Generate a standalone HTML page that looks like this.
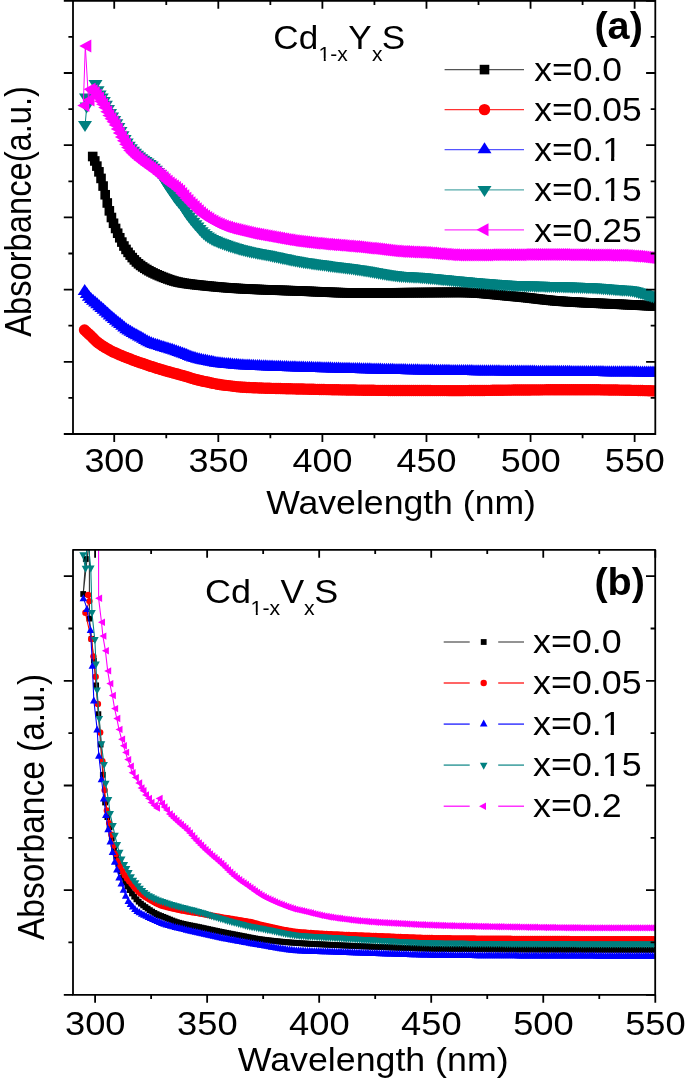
<!DOCTYPE html>
<html><head><meta charset="utf-8"><style>html,body{margin:0;padding:0;background:#fff;}svg{display:block;will-change:transform;font-family:"Liberation Sans",sans-serif;}</style></head><body>
<svg width="685" height="1082" viewBox="0 0 685 1082">
<rect width="685" height="1082" fill="#fff"/>
<defs><clipPath id="ca"><rect x="73.0" y="0.8" width="582.3" height="433.2"/></clipPath><clipPath id="cb"><rect x="73.0" y="549.8" width="582.2" height="445.0"/></clipPath></defs>
<g clip-path="url(#ca)"><path d="M92.7 156.5 L94.78 160.96 L96.86 166.12 L98.94 171.84 L101.03 178.42 L103.11 186.05 L105.19 194.75 L107.27 202.97 L109.35 210.84 L111.43 217.51 L113.52 223.27 L115.6 228.46 L117.68 233.22 L119.76 237.77 L121.84 242.08 L123.92 246.01 L126.01 249.42 L128.09 252.35 L130.17 255.07 L132.25 257.58 L134.33 259.88 L136.41 261.96 L138.5 263.81 L140.58 265.43 L142.66 266.91 L144.74 268.28 L146.82 269.56 L148.9 270.76 L150.98 271.87 L153.07 272.92 L155.15 273.9 L157.23 274.83 L159.31 275.72 L161.39 276.57 L163.47 277.39 L165.56 278.2 L167.64 278.97 L169.72 279.7 L171.8 280.38 L173.88 281.02 L175.96 281.59 L178.05 282.09 L180.13 282.52 L182.21 282.9 L184.29 283.25 L186.37 283.56 L188.45 283.86 L190.54 284.13 L192.62 284.38 L194.7 284.62 L196.78 284.85 L198.86 285.08 L200.94 285.3 L203.02 285.52 L205.11 285.74 L207.19 285.95 L209.27 286.16 L211.35 286.36 L213.43 286.56 L215.51 286.75 L217.6 286.94 L219.68 287.13 L221.76 287.31 L223.84 287.48 L225.92 287.65 L228 287.81 L230.09 287.96 L232.17 288.11 L234.25 288.25 L236.33 288.38 L238.41 288.51 L240.49 288.63 L242.58 288.74 L244.66 288.85 L246.74 288.96 L248.82 289.06 L250.9 289.16 L252.98 289.25 L255.06 289.35 L257.15 289.44 L259.23 289.52 L261.31 289.61 L263.39 289.69 L265.47 289.77 L267.55 289.85 L269.64 289.93 L271.72 290.01 L273.8 290.08 L275.88 290.16 L277.96 290.23 L280.04 290.3 L282.13 290.38 L284.21 290.45 L286.29 290.52 L288.37 290.59 L290.45 290.66 L292.53 290.73 L294.62 290.81 L296.7 290.88 L298.78 290.96 L300.86 291.03 L302.94 291.11 L305.02 291.19 L307.1 291.28 L309.19 291.37 L311.27 291.46 L313.35 291.55 L315.43 291.64 L317.51 291.73 L319.59 291.82 L321.68 291.92 L323.76 292.01 L325.84 292.1 L327.92 292.19 L330 292.27 L332.08 292.36 L334.17 292.44 L336.25 292.51 L338.33 292.59 L340.41 292.66 L342.49 292.72 L344.57 292.78 L346.66 292.83 L348.74 292.88 L350.82 292.92 L352.9 292.95 L354.98 292.97 L357.06 292.99 L359.14 293 L361.23 293 L363.31 293 L365.39 292.99 L367.47 292.99 L369.55 292.98 L371.63 292.97 L373.72 292.96 L375.8 292.95 L377.88 292.94 L379.96 292.92 L382.04 292.91 L384.12 292.89 L386.21 292.87 L388.29 292.86 L390.37 292.84 L392.45 292.82 L394.53 292.8 L396.61 292.78 L398.7 292.77 L400.78 292.75 L402.86 292.73 L404.94 292.71 L407.02 292.69 L409.1 292.68 L411.18 292.66 L413.27 292.64 L415.35 292.63 L417.43 292.62 L419.51 292.6 L421.59 292.59 L423.67 292.58 L425.76 292.56 L427.84 292.55 L429.92 292.54 L432 292.52 L434.08 292.51 L436.16 292.5 L438.25 292.48 L440.33 292.47 L442.41 292.46 L444.49 292.45 L446.57 292.44 L448.65 292.43 L450.74 292.42 L452.82 292.41 L454.9 292.41 L456.98 292.4 L459.06 292.4 L461.14 292.4 L463.22 292.42 L465.31 292.47 L467.39 292.53 L469.47 292.6 L471.55 292.7 L473.63 292.8 L475.71 292.93 L477.8 293.06 L479.88 293.21 L481.96 293.37 L484.04 293.54 L486.12 293.72 L488.2 293.9 L490.29 294.1 L492.37 294.29 L494.45 294.5 L496.53 294.7 L498.61 294.91 L500.69 295.12 L502.78 295.33 L504.86 295.54 L506.94 295.75 L509.02 295.95 L511.1 296.15 L513.18 296.35 L515.26 296.53 L517.35 296.72 L519.43 296.92 L521.51 297.13 L523.59 297.34 L525.67 297.57 L527.75 297.8 L529.84 298.04 L531.92 298.28 L534 298.53 L536.08 298.77 L538.16 299.02 L540.24 299.26 L542.33 299.5 L544.41 299.73 L546.49 299.96 L548.57 300.18 L550.65 300.39 L552.73 300.6 L554.82 300.79 L556.9 300.96 L558.98 301.13 L561.06 301.27 L563.14 301.42 L565.22 301.55 L567.3 301.68 L569.39 301.81 L571.47 301.94 L573.55 302.06 L575.63 302.17 L577.71 302.29 L579.79 302.4 L581.88 302.51 L583.96 302.61 L586.04 302.71 L588.12 302.82 L590.2 302.91 L592.28 303.01 L594.37 303.11 L596.45 303.21 L598.53 303.3 L600.61 303.4 L602.69 303.49 L604.77 303.58 L606.86 303.68 L608.94 303.77 L611.02 303.87 L613.1 303.97 L615.18 304.07 L617.26 304.17 L619.34 304.27 L621.43 304.37 L623.51 304.47 L625.59 304.58 L627.67 304.68 L629.75 304.78 L631.83 304.88 L633.92 304.98 L636 305.08 L638.08 305.18 L640.16 305.28 L642.24 305.38 L644.32 305.48 L646.41 305.58 L648.49 305.68 L650.57 305.78 L652.65 305.88 L654.73 305.97" fill="none" stroke="#000000" stroke-width="1.0" stroke-linejoin="round"/>
<g fill="#000000"><rect x="87.9" y="151.7" width="9.6" height="9.6"/><rect x="89.98" y="156.16" width="9.6" height="9.6"/><rect x="92.06" y="161.32" width="9.6" height="9.6"/><rect x="94.14" y="167.04" width="9.6" height="9.6"/><rect x="96.23" y="173.62" width="9.6" height="9.6"/><rect x="98.31" y="181.25" width="9.6" height="9.6"/><rect x="100.39" y="189.95" width="9.6" height="9.6"/><rect x="102.47" y="198.17" width="9.6" height="9.6"/><rect x="104.55" y="206.04" width="9.6" height="9.6"/><rect x="106.63" y="212.71" width="9.6" height="9.6"/><rect x="108.72" y="218.47" width="9.6" height="9.6"/><rect x="110.8" y="223.66" width="9.6" height="9.6"/><rect x="112.88" y="228.42" width="9.6" height="9.6"/><rect x="114.96" y="232.97" width="9.6" height="9.6"/><rect x="117.04" y="237.28" width="9.6" height="9.6"/><rect x="119.12" y="241.21" width="9.6" height="9.6"/><rect x="121.21" y="244.62" width="9.6" height="9.6"/><rect x="123.29" y="247.55" width="9.6" height="9.6"/><rect x="125.37" y="250.27" width="9.6" height="9.6"/><rect x="127.45" y="252.78" width="9.6" height="9.6"/><rect x="129.53" y="255.08" width="9.6" height="9.6"/><rect x="131.61" y="257.16" width="9.6" height="9.6"/><rect x="133.7" y="259.01" width="9.6" height="9.6"/><rect x="135.78" y="260.63" width="9.6" height="9.6"/><rect x="137.86" y="262.11" width="9.6" height="9.6"/><rect x="139.94" y="263.48" width="9.6" height="9.6"/><rect x="142.02" y="264.76" width="9.6" height="9.6"/><rect x="144.1" y="265.96" width="9.6" height="9.6"/><rect x="146.18" y="267.07" width="9.6" height="9.6"/><rect x="148.27" y="268.12" width="9.6" height="9.6"/><rect x="150.35" y="269.1" width="9.6" height="9.6"/><rect x="152.43" y="270.03" width="9.6" height="9.6"/><rect x="154.51" y="270.92" width="9.6" height="9.6"/><rect x="156.59" y="271.77" width="9.6" height="9.6"/><rect x="158.67" y="272.59" width="9.6" height="9.6"/><rect x="160.76" y="273.4" width="9.6" height="9.6"/><rect x="162.84" y="274.17" width="9.6" height="9.6"/><rect x="164.92" y="274.9" width="9.6" height="9.6"/><rect x="167" y="275.58" width="9.6" height="9.6"/><rect x="169.08" y="276.22" width="9.6" height="9.6"/><rect x="171.16" y="276.79" width="9.6" height="9.6"/><rect x="173.25" y="277.29" width="9.6" height="9.6"/><rect x="175.33" y="277.72" width="9.6" height="9.6"/><rect x="177.41" y="278.1" width="9.6" height="9.6"/><rect x="179.49" y="278.45" width="9.6" height="9.6"/><rect x="181.57" y="278.76" width="9.6" height="9.6"/><rect x="183.65" y="279.06" width="9.6" height="9.6"/><rect x="185.74" y="279.33" width="9.6" height="9.6"/><rect x="187.82" y="279.58" width="9.6" height="9.6"/><rect x="189.9" y="279.82" width="9.6" height="9.6"/><rect x="191.98" y="280.05" width="9.6" height="9.6"/><rect x="194.06" y="280.28" width="9.6" height="9.6"/><rect x="196.14" y="280.5" width="9.6" height="9.6"/><rect x="198.22" y="280.72" width="9.6" height="9.6"/><rect x="200.31" y="280.94" width="9.6" height="9.6"/><rect x="202.39" y="281.15" width="9.6" height="9.6"/><rect x="204.47" y="281.36" width="9.6" height="9.6"/><rect x="206.55" y="281.56" width="9.6" height="9.6"/><rect x="208.63" y="281.76" width="9.6" height="9.6"/><rect x="210.71" y="281.95" width="9.6" height="9.6"/><rect x="212.8" y="282.14" width="9.6" height="9.6"/><rect x="214.88" y="282.33" width="9.6" height="9.6"/><rect x="216.96" y="282.51" width="9.6" height="9.6"/><rect x="219.04" y="282.68" width="9.6" height="9.6"/><rect x="221.12" y="282.85" width="9.6" height="9.6"/><rect x="223.2" y="283.01" width="9.6" height="9.6"/><rect x="225.29" y="283.16" width="9.6" height="9.6"/><rect x="227.37" y="283.31" width="9.6" height="9.6"/><rect x="229.45" y="283.45" width="9.6" height="9.6"/><rect x="231.53" y="283.58" width="9.6" height="9.6"/><rect x="233.61" y="283.71" width="9.6" height="9.6"/><rect x="235.69" y="283.83" width="9.6" height="9.6"/><rect x="237.78" y="283.94" width="9.6" height="9.6"/><rect x="239.86" y="284.05" width="9.6" height="9.6"/><rect x="241.94" y="284.16" width="9.6" height="9.6"/><rect x="244.02" y="284.26" width="9.6" height="9.6"/><rect x="246.1" y="284.36" width="9.6" height="9.6"/><rect x="248.18" y="284.45" width="9.6" height="9.6"/><rect x="250.26" y="284.55" width="9.6" height="9.6"/><rect x="252.35" y="284.64" width="9.6" height="9.6"/><rect x="254.43" y="284.72" width="9.6" height="9.6"/><rect x="256.51" y="284.81" width="9.6" height="9.6"/><rect x="258.59" y="284.89" width="9.6" height="9.6"/><rect x="260.67" y="284.97" width="9.6" height="9.6"/><rect x="262.75" y="285.05" width="9.6" height="9.6"/><rect x="264.84" y="285.13" width="9.6" height="9.6"/><rect x="266.92" y="285.21" width="9.6" height="9.6"/><rect x="269" y="285.28" width="9.6" height="9.6"/><rect x="271.08" y="285.36" width="9.6" height="9.6"/><rect x="273.16" y="285.43" width="9.6" height="9.6"/><rect x="275.24" y="285.5" width="9.6" height="9.6"/><rect x="277.33" y="285.58" width="9.6" height="9.6"/><rect x="279.41" y="285.65" width="9.6" height="9.6"/><rect x="281.49" y="285.72" width="9.6" height="9.6"/><rect x="283.57" y="285.79" width="9.6" height="9.6"/><rect x="285.65" y="285.86" width="9.6" height="9.6"/><rect x="287.73" y="285.93" width="9.6" height="9.6"/><rect x="289.82" y="286.01" width="9.6" height="9.6"/><rect x="291.9" y="286.08" width="9.6" height="9.6"/><rect x="293.98" y="286.16" width="9.6" height="9.6"/><rect x="296.06" y="286.23" width="9.6" height="9.6"/><rect x="298.14" y="286.31" width="9.6" height="9.6"/><rect x="300.22" y="286.39" width="9.6" height="9.6"/><rect x="302.3" y="286.48" width="9.6" height="9.6"/><rect x="304.39" y="286.57" width="9.6" height="9.6"/><rect x="306.47" y="286.66" width="9.6" height="9.6"/><rect x="308.55" y="286.75" width="9.6" height="9.6"/><rect x="310.63" y="286.84" width="9.6" height="9.6"/><rect x="312.71" y="286.93" width="9.6" height="9.6"/><rect x="314.79" y="287.02" width="9.6" height="9.6"/><rect x="316.88" y="287.12" width="9.6" height="9.6"/><rect x="318.96" y="287.21" width="9.6" height="9.6"/><rect x="321.04" y="287.3" width="9.6" height="9.6"/><rect x="323.12" y="287.39" width="9.6" height="9.6"/><rect x="325.2" y="287.47" width="9.6" height="9.6"/><rect x="327.28" y="287.56" width="9.6" height="9.6"/><rect x="329.37" y="287.64" width="9.6" height="9.6"/><rect x="331.45" y="287.71" width="9.6" height="9.6"/><rect x="333.53" y="287.79" width="9.6" height="9.6"/><rect x="335.61" y="287.86" width="9.6" height="9.6"/><rect x="337.69" y="287.92" width="9.6" height="9.6"/><rect x="339.77" y="287.98" width="9.6" height="9.6"/><rect x="341.86" y="288.03" width="9.6" height="9.6"/><rect x="343.94" y="288.08" width="9.6" height="9.6"/><rect x="346.02" y="288.12" width="9.6" height="9.6"/><rect x="348.1" y="288.15" width="9.6" height="9.6"/><rect x="350.18" y="288.17" width="9.6" height="9.6"/><rect x="352.26" y="288.19" width="9.6" height="9.6"/><rect x="354.34" y="288.2" width="9.6" height="9.6"/><rect x="356.43" y="288.2" width="9.6" height="9.6"/><rect x="358.51" y="288.2" width="9.6" height="9.6"/><rect x="360.59" y="288.19" width="9.6" height="9.6"/><rect x="362.67" y="288.19" width="9.6" height="9.6"/><rect x="364.75" y="288.18" width="9.6" height="9.6"/><rect x="366.83" y="288.17" width="9.6" height="9.6"/><rect x="368.92" y="288.16" width="9.6" height="9.6"/><rect x="371" y="288.15" width="9.6" height="9.6"/><rect x="373.08" y="288.14" width="9.6" height="9.6"/><rect x="375.16" y="288.12" width="9.6" height="9.6"/><rect x="377.24" y="288.11" width="9.6" height="9.6"/><rect x="379.32" y="288.09" width="9.6" height="9.6"/><rect x="381.41" y="288.07" width="9.6" height="9.6"/><rect x="383.49" y="288.06" width="9.6" height="9.6"/><rect x="385.57" y="288.04" width="9.6" height="9.6"/><rect x="387.65" y="288.02" width="9.6" height="9.6"/><rect x="389.73" y="288" width="9.6" height="9.6"/><rect x="391.81" y="287.98" width="9.6" height="9.6"/><rect x="393.9" y="287.97" width="9.6" height="9.6"/><rect x="395.98" y="287.95" width="9.6" height="9.6"/><rect x="398.06" y="287.93" width="9.6" height="9.6"/><rect x="400.14" y="287.91" width="9.6" height="9.6"/><rect x="402.22" y="287.89" width="9.6" height="9.6"/><rect x="404.3" y="287.88" width="9.6" height="9.6"/><rect x="406.38" y="287.86" width="9.6" height="9.6"/><rect x="408.47" y="287.84" width="9.6" height="9.6"/><rect x="410.55" y="287.83" width="9.6" height="9.6"/><rect x="412.63" y="287.82" width="9.6" height="9.6"/><rect x="414.71" y="287.8" width="9.6" height="9.6"/><rect x="416.79" y="287.79" width="9.6" height="9.6"/><rect x="418.87" y="287.78" width="9.6" height="9.6"/><rect x="420.96" y="287.76" width="9.6" height="9.6"/><rect x="423.04" y="287.75" width="9.6" height="9.6"/><rect x="425.12" y="287.74" width="9.6" height="9.6"/><rect x="427.2" y="287.72" width="9.6" height="9.6"/><rect x="429.28" y="287.71" width="9.6" height="9.6"/><rect x="431.36" y="287.7" width="9.6" height="9.6"/><rect x="433.45" y="287.68" width="9.6" height="9.6"/><rect x="435.53" y="287.67" width="9.6" height="9.6"/><rect x="437.61" y="287.66" width="9.6" height="9.6"/><rect x="439.69" y="287.65" width="9.6" height="9.6"/><rect x="441.77" y="287.64" width="9.6" height="9.6"/><rect x="443.85" y="287.63" width="9.6" height="9.6"/><rect x="445.94" y="287.62" width="9.6" height="9.6"/><rect x="448.02" y="287.61" width="9.6" height="9.6"/><rect x="450.1" y="287.61" width="9.6" height="9.6"/><rect x="452.18" y="287.6" width="9.6" height="9.6"/><rect x="454.26" y="287.6" width="9.6" height="9.6"/><rect x="456.34" y="287.6" width="9.6" height="9.6"/><rect x="458.42" y="287.62" width="9.6" height="9.6"/><rect x="460.51" y="287.67" width="9.6" height="9.6"/><rect x="462.59" y="287.73" width="9.6" height="9.6"/><rect x="464.67" y="287.8" width="9.6" height="9.6"/><rect x="466.75" y="287.9" width="9.6" height="9.6"/><rect x="468.83" y="288" width="9.6" height="9.6"/><rect x="470.91" y="288.13" width="9.6" height="9.6"/><rect x="473" y="288.26" width="9.6" height="9.6"/><rect x="475.08" y="288.41" width="9.6" height="9.6"/><rect x="477.16" y="288.57" width="9.6" height="9.6"/><rect x="479.24" y="288.74" width="9.6" height="9.6"/><rect x="481.32" y="288.92" width="9.6" height="9.6"/><rect x="483.4" y="289.1" width="9.6" height="9.6"/><rect x="485.49" y="289.3" width="9.6" height="9.6"/><rect x="487.57" y="289.49" width="9.6" height="9.6"/><rect x="489.65" y="289.7" width="9.6" height="9.6"/><rect x="491.73" y="289.9" width="9.6" height="9.6"/><rect x="493.81" y="290.11" width="9.6" height="9.6"/><rect x="495.89" y="290.32" width="9.6" height="9.6"/><rect x="497.98" y="290.53" width="9.6" height="9.6"/><rect x="500.06" y="290.74" width="9.6" height="9.6"/><rect x="502.14" y="290.95" width="9.6" height="9.6"/><rect x="504.22" y="291.15" width="9.6" height="9.6"/><rect x="506.3" y="291.35" width="9.6" height="9.6"/><rect x="508.38" y="291.55" width="9.6" height="9.6"/><rect x="510.46" y="291.73" width="9.6" height="9.6"/><rect x="512.55" y="291.92" width="9.6" height="9.6"/><rect x="514.63" y="292.12" width="9.6" height="9.6"/><rect x="516.71" y="292.33" width="9.6" height="9.6"/><rect x="518.79" y="292.54" width="9.6" height="9.6"/><rect x="520.87" y="292.77" width="9.6" height="9.6"/><rect x="522.95" y="293" width="9.6" height="9.6"/><rect x="525.04" y="293.24" width="9.6" height="9.6"/><rect x="527.12" y="293.48" width="9.6" height="9.6"/><rect x="529.2" y="293.73" width="9.6" height="9.6"/><rect x="531.28" y="293.97" width="9.6" height="9.6"/><rect x="533.36" y="294.22" width="9.6" height="9.6"/><rect x="535.44" y="294.46" width="9.6" height="9.6"/><rect x="537.53" y="294.7" width="9.6" height="9.6"/><rect x="539.61" y="294.93" width="9.6" height="9.6"/><rect x="541.69" y="295.16" width="9.6" height="9.6"/><rect x="543.77" y="295.38" width="9.6" height="9.6"/><rect x="545.85" y="295.59" width="9.6" height="9.6"/><rect x="547.93" y="295.8" width="9.6" height="9.6"/><rect x="550.02" y="295.99" width="9.6" height="9.6"/><rect x="552.1" y="296.16" width="9.6" height="9.6"/><rect x="554.18" y="296.33" width="9.6" height="9.6"/><rect x="556.26" y="296.47" width="9.6" height="9.6"/><rect x="558.34" y="296.62" width="9.6" height="9.6"/><rect x="560.42" y="296.75" width="9.6" height="9.6"/><rect x="562.5" y="296.88" width="9.6" height="9.6"/><rect x="564.59" y="297.01" width="9.6" height="9.6"/><rect x="566.67" y="297.14" width="9.6" height="9.6"/><rect x="568.75" y="297.26" width="9.6" height="9.6"/><rect x="570.83" y="297.37" width="9.6" height="9.6"/><rect x="572.91" y="297.49" width="9.6" height="9.6"/><rect x="574.99" y="297.6" width="9.6" height="9.6"/><rect x="577.08" y="297.71" width="9.6" height="9.6"/><rect x="579.16" y="297.81" width="9.6" height="9.6"/><rect x="581.24" y="297.91" width="9.6" height="9.6"/><rect x="583.32" y="298.02" width="9.6" height="9.6"/><rect x="585.4" y="298.11" width="9.6" height="9.6"/><rect x="587.48" y="298.21" width="9.6" height="9.6"/><rect x="589.57" y="298.31" width="9.6" height="9.6"/><rect x="591.65" y="298.41" width="9.6" height="9.6"/><rect x="593.73" y="298.5" width="9.6" height="9.6"/><rect x="595.81" y="298.6" width="9.6" height="9.6"/><rect x="597.89" y="298.69" width="9.6" height="9.6"/><rect x="599.97" y="298.78" width="9.6" height="9.6"/><rect x="602.06" y="298.88" width="9.6" height="9.6"/><rect x="604.14" y="298.97" width="9.6" height="9.6"/><rect x="606.22" y="299.07" width="9.6" height="9.6"/><rect x="608.3" y="299.17" width="9.6" height="9.6"/><rect x="610.38" y="299.27" width="9.6" height="9.6"/><rect x="612.46" y="299.37" width="9.6" height="9.6"/><rect x="614.54" y="299.47" width="9.6" height="9.6"/><rect x="616.63" y="299.57" width="9.6" height="9.6"/><rect x="618.71" y="299.67" width="9.6" height="9.6"/><rect x="620.79" y="299.78" width="9.6" height="9.6"/><rect x="622.87" y="299.88" width="9.6" height="9.6"/><rect x="624.95" y="299.98" width="9.6" height="9.6"/><rect x="627.03" y="300.08" width="9.6" height="9.6"/><rect x="629.12" y="300.18" width="9.6" height="9.6"/><rect x="631.2" y="300.28" width="9.6" height="9.6"/><rect x="633.28" y="300.38" width="9.6" height="9.6"/><rect x="635.36" y="300.48" width="9.6" height="9.6"/><rect x="637.44" y="300.58" width="9.6" height="9.6"/><rect x="639.52" y="300.68" width="9.6" height="9.6"/><rect x="641.61" y="300.78" width="9.6" height="9.6"/><rect x="643.69" y="300.88" width="9.6" height="9.6"/><rect x="645.77" y="300.98" width="9.6" height="9.6"/><rect x="647.85" y="301.08" width="9.6" height="9.6"/><rect x="649.93" y="301.17" width="9.6" height="9.6"/></g>
<path d="M84.5 330 L86.58 331.91 L88.66 333.85 L90.74 335.81 L92.83 337.9 L94.91 339.97 L96.99 341.86 L99.07 343.49 L101.15 344.96 L103.23 346.32 L105.32 347.61 L107.4 348.84 L109.48 350 L111.56 351.08 L113.64 352.1 L115.72 353.07 L117.81 354 L119.89 354.89 L121.97 355.76 L124.05 356.62 L126.13 357.45 L128.21 358.27 L130.3 359.07 L132.38 359.85 L134.46 360.61 L136.54 361.36 L138.62 362.11 L140.7 362.85 L142.78 363.57 L144.87 364.29 L146.95 364.99 L149.03 365.68 L151.11 366.36 L153.19 367.04 L155.27 367.71 L157.36 368.37 L159.44 369.02 L161.52 369.65 L163.6 370.26 L165.68 370.85 L167.76 371.44 L169.85 372.01 L171.93 372.59 L174.01 373.17 L176.09 373.74 L178.17 374.31 L180.25 374.88 L182.34 375.45 L184.42 376.03 L186.5 376.64 L188.58 377.28 L190.66 377.94 L192.74 378.58 L194.82 379.19 L196.91 379.75 L198.99 380.26 L201.07 380.74 L203.15 381.2 L205.23 381.64 L207.31 382.07 L209.4 382.51 L211.48 382.96 L213.56 383.4 L215.64 383.83 L217.72 384.23 L219.8 384.57 L221.89 384.86 L223.97 385.12 L226.05 385.35 L228.13 385.58 L230.21 385.83 L232.29 386.09 L234.38 386.37 L236.46 386.64 L238.54 386.87 L240.62 387.05 L242.7 387.19 L244.78 387.32 L246.86 387.44 L248.95 387.55 L251.03 387.65 L253.11 387.74 L255.19 387.82 L257.27 387.9 L259.35 387.98 L261.44 388.05 L263.52 388.12 L265.6 388.18 L267.68 388.24 L269.76 388.3 L271.84 388.36 L273.93 388.41 L276.01 388.47 L278.09 388.52 L280.17 388.57 L282.25 388.61 L284.33 388.66 L286.42 388.71 L288.5 388.75 L290.58 388.8 L292.66 388.84 L294.74 388.88 L296.82 388.93 L298.9 388.98 L300.99 389.02 L303.07 389.07 L305.15 389.12 L307.23 389.16 L309.31 389.21 L311.39 389.26 L313.48 389.3 L315.56 389.35 L317.64 389.4 L319.72 389.44 L321.8 389.49 L323.88 389.53 L325.97 389.58 L328.05 389.62 L330.13 389.66 L332.21 389.7 L334.29 389.74 L336.37 389.78 L338.46 389.82 L340.54 389.86 L342.62 389.89 L344.7 389.92 L346.78 389.95 L348.86 389.98 L350.94 390.01 L353.03 390.04 L355.11 390.07 L357.19 390.1 L359.27 390.12 L361.35 390.15 L363.43 390.18 L365.52 390.2 L367.6 390.23 L369.68 390.25 L371.76 390.28 L373.84 390.3 L375.92 390.33 L378.01 390.35 L380.09 390.37 L382.17 390.39 L384.25 390.41 L386.33 390.42 L388.41 390.44 L390.5 390.45 L392.58 390.47 L394.66 390.48 L396.74 390.49 L398.82 390.5 L400.9 390.5 L402.98 390.51 L405.07 390.51 L407.15 390.52 L409.23 390.53 L411.31 390.53 L413.39 390.54 L415.47 390.54 L417.56 390.55 L419.64 390.55 L421.72 390.56 L423.8 390.56 L425.88 390.56 L427.96 390.57 L430.05 390.57 L432.13 390.58 L434.21 390.58 L436.29 390.58 L438.37 390.58 L440.45 390.59 L442.54 390.59 L444.62 390.59 L446.7 390.59 L448.78 390.6 L450.86 390.6 L452.94 390.6 L455.02 390.6 L457.11 390.6 L459.19 390.6 L461.27 390.6 L463.35 390.6 L465.43 390.59 L467.51 390.58 L469.6 390.57 L471.68 390.55 L473.76 390.54 L475.84 390.52 L477.92 390.5 L480 390.47 L482.09 390.45 L484.17 390.43 L486.25 390.4 L488.33 390.37 L490.41 390.35 L492.49 390.32 L494.58 390.29 L496.66 390.26 L498.74 390.23 L500.82 390.21 L502.9 390.18 L504.98 390.15 L507.06 390.13 L509.15 390.1 L511.23 390.08 L513.31 390.06 L515.39 390.04 L517.47 390.02 L519.55 390 L521.64 389.99 L523.72 389.97 L525.8 389.96 L527.88 389.94 L529.96 389.93 L532.04 389.91 L534.13 389.9 L536.21 389.88 L538.29 389.87 L540.37 389.85 L542.45 389.84 L544.53 389.83 L546.62 389.81 L548.7 389.8 L550.78 389.79 L552.86 389.78 L554.94 389.76 L557.02 389.75 L559.1 389.74 L561.19 389.73 L563.27 389.73 L565.35 389.72 L567.43 389.71 L569.51 389.71 L571.59 389.7 L573.68 389.7 L575.76 389.7 L577.84 389.7 L579.92 389.7 L582 389.71 L584.08 389.71 L586.17 389.72 L588.25 389.73 L590.33 389.74 L592.41 389.75 L594.49 389.77 L596.57 389.79 L598.66 389.81 L600.74 389.83 L602.82 389.85 L604.9 389.87 L606.98 389.9 L609.06 389.93 L611.14 389.96 L613.23 389.99 L615.31 390.02 L617.39 390.05 L619.47 390.09 L621.55 390.13 L623.63 390.16 L625.72 390.2 L627.8 390.24 L629.88 390.29 L631.96 390.33 L634.04 390.38 L636.12 390.42 L638.21 390.47 L640.29 390.52 L642.37 390.57 L644.45 390.62 L646.53 390.67 L648.61 390.72 L650.7 390.78 L652.78 390.83 L654.86 390.89" fill="none" stroke="#ff0000" stroke-width="1.0" stroke-linejoin="round"/>
<g fill="#ff0000"><circle cx="84.5" cy="330" r="5.7"/><circle cx="86.58" cy="331.91" r="5.7"/><circle cx="88.66" cy="333.85" r="5.7"/><circle cx="90.74" cy="335.81" r="5.7"/><circle cx="92.83" cy="337.9" r="5.7"/><circle cx="94.91" cy="339.97" r="5.7"/><circle cx="96.99" cy="341.86" r="5.7"/><circle cx="99.07" cy="343.49" r="5.7"/><circle cx="101.15" cy="344.96" r="5.7"/><circle cx="103.23" cy="346.32" r="5.7"/><circle cx="105.32" cy="347.61" r="5.7"/><circle cx="107.4" cy="348.84" r="5.7"/><circle cx="109.48" cy="350" r="5.7"/><circle cx="111.56" cy="351.08" r="5.7"/><circle cx="113.64" cy="352.1" r="5.7"/><circle cx="115.72" cy="353.07" r="5.7"/><circle cx="117.81" cy="354" r="5.7"/><circle cx="119.89" cy="354.89" r="5.7"/><circle cx="121.97" cy="355.76" r="5.7"/><circle cx="124.05" cy="356.62" r="5.7"/><circle cx="126.13" cy="357.45" r="5.7"/><circle cx="128.21" cy="358.27" r="5.7"/><circle cx="130.3" cy="359.07" r="5.7"/><circle cx="132.38" cy="359.85" r="5.7"/><circle cx="134.46" cy="360.61" r="5.7"/><circle cx="136.54" cy="361.36" r="5.7"/><circle cx="138.62" cy="362.11" r="5.7"/><circle cx="140.7" cy="362.85" r="5.7"/><circle cx="142.78" cy="363.57" r="5.7"/><circle cx="144.87" cy="364.29" r="5.7"/><circle cx="146.95" cy="364.99" r="5.7"/><circle cx="149.03" cy="365.68" r="5.7"/><circle cx="151.11" cy="366.36" r="5.7"/><circle cx="153.19" cy="367.04" r="5.7"/><circle cx="155.27" cy="367.71" r="5.7"/><circle cx="157.36" cy="368.37" r="5.7"/><circle cx="159.44" cy="369.02" r="5.7"/><circle cx="161.52" cy="369.65" r="5.7"/><circle cx="163.6" cy="370.26" r="5.7"/><circle cx="165.68" cy="370.85" r="5.7"/><circle cx="167.76" cy="371.44" r="5.7"/><circle cx="169.85" cy="372.01" r="5.7"/><circle cx="171.93" cy="372.59" r="5.7"/><circle cx="174.01" cy="373.17" r="5.7"/><circle cx="176.09" cy="373.74" r="5.7"/><circle cx="178.17" cy="374.31" r="5.7"/><circle cx="180.25" cy="374.88" r="5.7"/><circle cx="182.34" cy="375.45" r="5.7"/><circle cx="184.42" cy="376.03" r="5.7"/><circle cx="186.5" cy="376.64" r="5.7"/><circle cx="188.58" cy="377.28" r="5.7"/><circle cx="190.66" cy="377.94" r="5.7"/><circle cx="192.74" cy="378.58" r="5.7"/><circle cx="194.82" cy="379.19" r="5.7"/><circle cx="196.91" cy="379.75" r="5.7"/><circle cx="198.99" cy="380.26" r="5.7"/><circle cx="201.07" cy="380.74" r="5.7"/><circle cx="203.15" cy="381.2" r="5.7"/><circle cx="205.23" cy="381.64" r="5.7"/><circle cx="207.31" cy="382.07" r="5.7"/><circle cx="209.4" cy="382.51" r="5.7"/><circle cx="211.48" cy="382.96" r="5.7"/><circle cx="213.56" cy="383.4" r="5.7"/><circle cx="215.64" cy="383.83" r="5.7"/><circle cx="217.72" cy="384.23" r="5.7"/><circle cx="219.8" cy="384.57" r="5.7"/><circle cx="221.89" cy="384.86" r="5.7"/><circle cx="223.97" cy="385.12" r="5.7"/><circle cx="226.05" cy="385.35" r="5.7"/><circle cx="228.13" cy="385.58" r="5.7"/><circle cx="230.21" cy="385.83" r="5.7"/><circle cx="232.29" cy="386.09" r="5.7"/><circle cx="234.38" cy="386.37" r="5.7"/><circle cx="236.46" cy="386.64" r="5.7"/><circle cx="238.54" cy="386.87" r="5.7"/><circle cx="240.62" cy="387.05" r="5.7"/><circle cx="242.7" cy="387.19" r="5.7"/><circle cx="244.78" cy="387.32" r="5.7"/><circle cx="246.86" cy="387.44" r="5.7"/><circle cx="248.95" cy="387.55" r="5.7"/><circle cx="251.03" cy="387.65" r="5.7"/><circle cx="253.11" cy="387.74" r="5.7"/><circle cx="255.19" cy="387.82" r="5.7"/><circle cx="257.27" cy="387.9" r="5.7"/><circle cx="259.35" cy="387.98" r="5.7"/><circle cx="261.44" cy="388.05" r="5.7"/><circle cx="263.52" cy="388.12" r="5.7"/><circle cx="265.6" cy="388.18" r="5.7"/><circle cx="267.68" cy="388.24" r="5.7"/><circle cx="269.76" cy="388.3" r="5.7"/><circle cx="271.84" cy="388.36" r="5.7"/><circle cx="273.93" cy="388.41" r="5.7"/><circle cx="276.01" cy="388.47" r="5.7"/><circle cx="278.09" cy="388.52" r="5.7"/><circle cx="280.17" cy="388.57" r="5.7"/><circle cx="282.25" cy="388.61" r="5.7"/><circle cx="284.33" cy="388.66" r="5.7"/><circle cx="286.42" cy="388.71" r="5.7"/><circle cx="288.5" cy="388.75" r="5.7"/><circle cx="290.58" cy="388.8" r="5.7"/><circle cx="292.66" cy="388.84" r="5.7"/><circle cx="294.74" cy="388.88" r="5.7"/><circle cx="296.82" cy="388.93" r="5.7"/><circle cx="298.9" cy="388.98" r="5.7"/><circle cx="300.99" cy="389.02" r="5.7"/><circle cx="303.07" cy="389.07" r="5.7"/><circle cx="305.15" cy="389.12" r="5.7"/><circle cx="307.23" cy="389.16" r="5.7"/><circle cx="309.31" cy="389.21" r="5.7"/><circle cx="311.39" cy="389.26" r="5.7"/><circle cx="313.48" cy="389.3" r="5.7"/><circle cx="315.56" cy="389.35" r="5.7"/><circle cx="317.64" cy="389.4" r="5.7"/><circle cx="319.72" cy="389.44" r="5.7"/><circle cx="321.8" cy="389.49" r="5.7"/><circle cx="323.88" cy="389.53" r="5.7"/><circle cx="325.97" cy="389.58" r="5.7"/><circle cx="328.05" cy="389.62" r="5.7"/><circle cx="330.13" cy="389.66" r="5.7"/><circle cx="332.21" cy="389.7" r="5.7"/><circle cx="334.29" cy="389.74" r="5.7"/><circle cx="336.37" cy="389.78" r="5.7"/><circle cx="338.46" cy="389.82" r="5.7"/><circle cx="340.54" cy="389.86" r="5.7"/><circle cx="342.62" cy="389.89" r="5.7"/><circle cx="344.7" cy="389.92" r="5.7"/><circle cx="346.78" cy="389.95" r="5.7"/><circle cx="348.86" cy="389.98" r="5.7"/><circle cx="350.94" cy="390.01" r="5.7"/><circle cx="353.03" cy="390.04" r="5.7"/><circle cx="355.11" cy="390.07" r="5.7"/><circle cx="357.19" cy="390.1" r="5.7"/><circle cx="359.27" cy="390.12" r="5.7"/><circle cx="361.35" cy="390.15" r="5.7"/><circle cx="363.43" cy="390.18" r="5.7"/><circle cx="365.52" cy="390.2" r="5.7"/><circle cx="367.6" cy="390.23" r="5.7"/><circle cx="369.68" cy="390.25" r="5.7"/><circle cx="371.76" cy="390.28" r="5.7"/><circle cx="373.84" cy="390.3" r="5.7"/><circle cx="375.92" cy="390.33" r="5.7"/><circle cx="378.01" cy="390.35" r="5.7"/><circle cx="380.09" cy="390.37" r="5.7"/><circle cx="382.17" cy="390.39" r="5.7"/><circle cx="384.25" cy="390.41" r="5.7"/><circle cx="386.33" cy="390.42" r="5.7"/><circle cx="388.41" cy="390.44" r="5.7"/><circle cx="390.5" cy="390.45" r="5.7"/><circle cx="392.58" cy="390.47" r="5.7"/><circle cx="394.66" cy="390.48" r="5.7"/><circle cx="396.74" cy="390.49" r="5.7"/><circle cx="398.82" cy="390.5" r="5.7"/><circle cx="400.9" cy="390.5" r="5.7"/><circle cx="402.98" cy="390.51" r="5.7"/><circle cx="405.07" cy="390.51" r="5.7"/><circle cx="407.15" cy="390.52" r="5.7"/><circle cx="409.23" cy="390.53" r="5.7"/><circle cx="411.31" cy="390.53" r="5.7"/><circle cx="413.39" cy="390.54" r="5.7"/><circle cx="415.47" cy="390.54" r="5.7"/><circle cx="417.56" cy="390.55" r="5.7"/><circle cx="419.64" cy="390.55" r="5.7"/><circle cx="421.72" cy="390.56" r="5.7"/><circle cx="423.8" cy="390.56" r="5.7"/><circle cx="425.88" cy="390.56" r="5.7"/><circle cx="427.96" cy="390.57" r="5.7"/><circle cx="430.05" cy="390.57" r="5.7"/><circle cx="432.13" cy="390.58" r="5.7"/><circle cx="434.21" cy="390.58" r="5.7"/><circle cx="436.29" cy="390.58" r="5.7"/><circle cx="438.37" cy="390.58" r="5.7"/><circle cx="440.45" cy="390.59" r="5.7"/><circle cx="442.54" cy="390.59" r="5.7"/><circle cx="444.62" cy="390.59" r="5.7"/><circle cx="446.7" cy="390.59" r="5.7"/><circle cx="448.78" cy="390.6" r="5.7"/><circle cx="450.86" cy="390.6" r="5.7"/><circle cx="452.94" cy="390.6" r="5.7"/><circle cx="455.02" cy="390.6" r="5.7"/><circle cx="457.11" cy="390.6" r="5.7"/><circle cx="459.19" cy="390.6" r="5.7"/><circle cx="461.27" cy="390.6" r="5.7"/><circle cx="463.35" cy="390.6" r="5.7"/><circle cx="465.43" cy="390.59" r="5.7"/><circle cx="467.51" cy="390.58" r="5.7"/><circle cx="469.6" cy="390.57" r="5.7"/><circle cx="471.68" cy="390.55" r="5.7"/><circle cx="473.76" cy="390.54" r="5.7"/><circle cx="475.84" cy="390.52" r="5.7"/><circle cx="477.92" cy="390.5" r="5.7"/><circle cx="480" cy="390.47" r="5.7"/><circle cx="482.09" cy="390.45" r="5.7"/><circle cx="484.17" cy="390.43" r="5.7"/><circle cx="486.25" cy="390.4" r="5.7"/><circle cx="488.33" cy="390.37" r="5.7"/><circle cx="490.41" cy="390.35" r="5.7"/><circle cx="492.49" cy="390.32" r="5.7"/><circle cx="494.58" cy="390.29" r="5.7"/><circle cx="496.66" cy="390.26" r="5.7"/><circle cx="498.74" cy="390.23" r="5.7"/><circle cx="500.82" cy="390.21" r="5.7"/><circle cx="502.9" cy="390.18" r="5.7"/><circle cx="504.98" cy="390.15" r="5.7"/><circle cx="507.06" cy="390.13" r="5.7"/><circle cx="509.15" cy="390.1" r="5.7"/><circle cx="511.23" cy="390.08" r="5.7"/><circle cx="513.31" cy="390.06" r="5.7"/><circle cx="515.39" cy="390.04" r="5.7"/><circle cx="517.47" cy="390.02" r="5.7"/><circle cx="519.55" cy="390" r="5.7"/><circle cx="521.64" cy="389.99" r="5.7"/><circle cx="523.72" cy="389.97" r="5.7"/><circle cx="525.8" cy="389.96" r="5.7"/><circle cx="527.88" cy="389.94" r="5.7"/><circle cx="529.96" cy="389.93" r="5.7"/><circle cx="532.04" cy="389.91" r="5.7"/><circle cx="534.13" cy="389.9" r="5.7"/><circle cx="536.21" cy="389.88" r="5.7"/><circle cx="538.29" cy="389.87" r="5.7"/><circle cx="540.37" cy="389.85" r="5.7"/><circle cx="542.45" cy="389.84" r="5.7"/><circle cx="544.53" cy="389.83" r="5.7"/><circle cx="546.62" cy="389.81" r="5.7"/><circle cx="548.7" cy="389.8" r="5.7"/><circle cx="550.78" cy="389.79" r="5.7"/><circle cx="552.86" cy="389.78" r="5.7"/><circle cx="554.94" cy="389.76" r="5.7"/><circle cx="557.02" cy="389.75" r="5.7"/><circle cx="559.1" cy="389.74" r="5.7"/><circle cx="561.19" cy="389.73" r="5.7"/><circle cx="563.27" cy="389.73" r="5.7"/><circle cx="565.35" cy="389.72" r="5.7"/><circle cx="567.43" cy="389.71" r="5.7"/><circle cx="569.51" cy="389.71" r="5.7"/><circle cx="571.59" cy="389.7" r="5.7"/><circle cx="573.68" cy="389.7" r="5.7"/><circle cx="575.76" cy="389.7" r="5.7"/><circle cx="577.84" cy="389.7" r="5.7"/><circle cx="579.92" cy="389.7" r="5.7"/><circle cx="582" cy="389.71" r="5.7"/><circle cx="584.08" cy="389.71" r="5.7"/><circle cx="586.17" cy="389.72" r="5.7"/><circle cx="588.25" cy="389.73" r="5.7"/><circle cx="590.33" cy="389.74" r="5.7"/><circle cx="592.41" cy="389.75" r="5.7"/><circle cx="594.49" cy="389.77" r="5.7"/><circle cx="596.57" cy="389.79" r="5.7"/><circle cx="598.66" cy="389.81" r="5.7"/><circle cx="600.74" cy="389.83" r="5.7"/><circle cx="602.82" cy="389.85" r="5.7"/><circle cx="604.9" cy="389.87" r="5.7"/><circle cx="606.98" cy="389.9" r="5.7"/><circle cx="609.06" cy="389.93" r="5.7"/><circle cx="611.14" cy="389.96" r="5.7"/><circle cx="613.23" cy="389.99" r="5.7"/><circle cx="615.31" cy="390.02" r="5.7"/><circle cx="617.39" cy="390.05" r="5.7"/><circle cx="619.47" cy="390.09" r="5.7"/><circle cx="621.55" cy="390.13" r="5.7"/><circle cx="623.63" cy="390.16" r="5.7"/><circle cx="625.72" cy="390.2" r="5.7"/><circle cx="627.8" cy="390.24" r="5.7"/><circle cx="629.88" cy="390.29" r="5.7"/><circle cx="631.96" cy="390.33" r="5.7"/><circle cx="634.04" cy="390.38" r="5.7"/><circle cx="636.12" cy="390.42" r="5.7"/><circle cx="638.21" cy="390.47" r="5.7"/><circle cx="640.29" cy="390.52" r="5.7"/><circle cx="642.37" cy="390.57" r="5.7"/><circle cx="644.45" cy="390.62" r="5.7"/><circle cx="646.53" cy="390.67" r="5.7"/><circle cx="648.61" cy="390.72" r="5.7"/><circle cx="650.7" cy="390.78" r="5.7"/><circle cx="652.78" cy="390.83" r="5.7"/><circle cx="654.86" cy="390.89" r="5.7"/></g>
<path d="M84.7 289.5 L86.78 292.52 L88.86 295.21 L90.94 297.47 L93.03 299.36 L95.11 301.08 L97.19 302.82 L99.27 304.64 L101.35 306.46 L103.43 308.29 L105.52 310.14 L107.6 312.05 L109.68 313.96 L111.76 315.82 L113.84 317.58 L115.92 319.27 L118.01 320.93 L120.09 322.59 L122.17 324.32 L124.25 326.04 L126.33 327.63 L128.41 329.03 L130.5 330.32 L132.58 331.52 L134.66 332.68 L136.74 333.81 L138.82 334.94 L140.9 336.12 L142.98 337.33 L145.07 338.55 L147.15 339.71 L149.23 340.76 L151.31 341.65 L153.39 342.45 L155.47 343.18 L157.56 343.87 L159.64 344.54 L161.72 345.21 L163.8 345.85 L165.88 346.46 L167.96 347.06 L170.05 347.66 L172.13 348.29 L174.21 348.97 L176.29 349.71 L178.37 350.49 L180.45 351.29 L182.54 352.09 L184.62 352.86 L186.7 353.62 L188.78 354.41 L190.86 355.18 L192.94 355.93 L195.02 356.61 L197.11 357.21 L199.19 357.74 L201.27 358.22 L203.35 358.68 L205.43 359.11 L207.51 359.52 L209.6 359.94 L211.68 360.37 L213.76 360.78 L215.84 361.17 L217.92 361.52 L220 361.8 L222.09 362.03 L224.17 362.22 L226.25 362.39 L228.33 362.56 L230.41 362.74 L232.49 362.94 L234.58 363.14 L236.66 363.33 L238.74 363.51 L240.82 363.65 L242.9 363.78 L244.98 363.9 L247.06 364.01 L249.15 364.12 L251.23 364.22 L253.31 364.31 L255.39 364.4 L257.47 364.49 L259.55 364.58 L261.64 364.67 L263.72 364.75 L265.8 364.84 L267.88 364.92 L269.96 365 L272.04 365.08 L274.13 365.15 L276.21 365.23 L278.29 365.3 L280.37 365.37 L282.45 365.44 L284.53 365.51 L286.62 365.58 L288.7 365.65 L290.78 365.72 L292.86 365.78 L294.94 365.85 L297.02 365.91 L299.1 365.97 L301.19 366.04 L303.27 366.1 L305.35 366.16 L307.43 366.22 L309.51 366.28 L311.59 366.34 L313.68 366.4 L315.76 366.46 L317.84 366.52 L319.92 366.58 L322 366.64 L324.08 366.69 L326.17 366.75 L328.25 366.81 L330.33 366.86 L332.41 366.92 L334.49 366.98 L336.57 367.03 L338.66 367.09 L340.74 367.14 L342.82 367.19 L344.9 367.25 L346.98 367.3 L349.06 367.35 L351.14 367.41 L353.23 367.46 L355.31 367.51 L357.39 367.56 L359.47 367.61 L361.55 367.66 L363.63 367.71 L365.72 367.76 L367.8 367.81 L369.88 367.86 L371.96 367.9 L374.04 367.95 L376.12 368 L378.21 368.04 L380.29 368.09 L382.37 368.14 L384.45 368.18 L386.53 368.22 L388.61 368.27 L390.7 368.31 L392.78 368.35 L394.86 368.4 L396.94 368.44 L399.02 368.48 L401.1 368.52 L403.18 368.56 L405.27 368.6 L407.35 368.64 L409.43 368.68 L411.51 368.72 L413.59 368.76 L415.67 368.8 L417.76 368.84 L419.84 368.88 L421.92 368.92 L424 368.96 L426.08 369 L428.16 369.03 L430.25 369.07 L432.33 369.1 L434.41 369.14 L436.49 369.17 L438.57 369.21 L440.65 369.24 L442.74 369.27 L444.82 369.3 L446.9 369.33 L448.98 369.36 L451.06 369.39 L453.14 369.42 L455.22 369.44 L457.31 369.47 L459.39 369.49 L461.47 369.52 L463.55 369.54 L465.63 369.56 L467.71 369.58 L469.8 369.6 L471.88 369.62 L473.96 369.64 L476.04 369.66 L478.12 369.68 L480.2 369.7 L482.29 369.72 L484.37 369.74 L486.45 369.76 L488.53 369.78 L490.61 369.79 L492.69 369.81 L494.78 369.83 L496.86 369.84 L498.94 369.86 L501.02 369.88 L503.1 369.89 L505.18 369.91 L507.26 369.92 L509.35 369.94 L511.43 369.95 L513.51 369.97 L515.59 369.98 L517.67 370 L519.75 370.01 L521.84 370.03 L523.92 370.04 L526 370.06 L528.08 370.07 L530.16 370.09 L532.24 370.1 L534.33 370.11 L536.41 370.13 L538.49 370.14 L540.57 370.16 L542.65 370.17 L544.73 370.19 L546.82 370.2 L548.9 370.22 L550.98 370.23 L553.06 370.25 L555.14 370.26 L557.22 370.28 L559.3 370.29 L561.39 370.31 L563.47 370.33 L565.55 370.34 L567.63 370.36 L569.71 370.37 L571.79 370.39 L573.88 370.41 L575.96 370.42 L578.04 370.44 L580.12 370.45 L582.2 370.47 L584.28 370.48 L586.37 370.5 L588.45 370.52 L590.53 370.53 L592.61 370.55 L594.69 370.56 L596.77 370.58 L598.86 370.59 L600.94 370.61 L603.02 370.62 L605.1 370.64 L607.18 370.65 L609.26 370.67 L611.34 370.68 L613.43 370.7 L615.51 370.72 L617.59 370.73 L619.67 370.75 L621.75 370.76 L623.83 370.78 L625.92 370.79 L628 370.81 L630.08 370.82 L632.16 370.84 L634.24 370.85 L636.32 370.87 L638.41 370.88 L640.49 370.9 L642.57 370.91 L644.65 370.92 L646.73 370.94 L648.81 370.95 L650.9 370.97 L652.98 370.98 L655.06 371" fill="none" stroke="#0000ff" stroke-width="1.0" stroke-linejoin="round"/>
<g fill="#0000ff"><path d="M84.7 284L91.7 295L77.7 295Z"/><path d="M86.78 287.02L93.78 298.02L79.78 298.02Z"/><path d="M88.86 289.71L95.86 300.71L81.86 300.71Z"/><path d="M90.94 291.97L97.94 302.97L83.94 302.97Z"/><path d="M93.03 293.86L100.03 304.86L86.03 304.86Z"/><path d="M95.11 295.58L102.11 306.58L88.11 306.58Z"/><path d="M97.19 297.32L104.19 308.32L90.19 308.32Z"/><path d="M99.27 299.14L106.27 310.14L92.27 310.14Z"/><path d="M101.35 300.96L108.35 311.96L94.35 311.96Z"/><path d="M103.43 302.79L110.43 313.79L96.43 313.79Z"/><path d="M105.52 304.64L112.52 315.64L98.52 315.64Z"/><path d="M107.6 306.55L114.6 317.55L100.6 317.55Z"/><path d="M109.68 308.46L116.68 319.46L102.68 319.46Z"/><path d="M111.76 310.32L118.76 321.32L104.76 321.32Z"/><path d="M113.84 312.08L120.84 323.08L106.84 323.08Z"/><path d="M115.92 313.77L122.92 324.77L108.92 324.77Z"/><path d="M118.01 315.43L125.01 326.43L111.01 326.43Z"/><path d="M120.09 317.09L127.09 328.09L113.09 328.09Z"/><path d="M122.17 318.82L129.17 329.82L115.17 329.82Z"/><path d="M124.25 320.54L131.25 331.54L117.25 331.54Z"/><path d="M126.33 322.13L133.33 333.13L119.33 333.13Z"/><path d="M128.41 323.53L135.41 334.53L121.41 334.53Z"/><path d="M130.5 324.82L137.5 335.82L123.5 335.82Z"/><path d="M132.58 326.02L139.58 337.02L125.58 337.02Z"/><path d="M134.66 327.18L141.66 338.18L127.66 338.18Z"/><path d="M136.74 328.31L143.74 339.31L129.74 339.31Z"/><path d="M138.82 329.44L145.82 340.44L131.82 340.44Z"/><path d="M140.9 330.62L147.9 341.62L133.9 341.62Z"/><path d="M142.98 331.83L149.98 342.83L135.98 342.83Z"/><path d="M145.07 333.05L152.07 344.05L138.07 344.05Z"/><path d="M147.15 334.21L154.15 345.21L140.15 345.21Z"/><path d="M149.23 335.26L156.23 346.26L142.23 346.26Z"/><path d="M151.31 336.15L158.31 347.15L144.31 347.15Z"/><path d="M153.39 336.95L160.39 347.95L146.39 347.95Z"/><path d="M155.47 337.68L162.47 348.68L148.47 348.68Z"/><path d="M157.56 338.37L164.56 349.37L150.56 349.37Z"/><path d="M159.64 339.04L166.64 350.04L152.64 350.04Z"/><path d="M161.72 339.71L168.72 350.71L154.72 350.71Z"/><path d="M163.8 340.35L170.8 351.35L156.8 351.35Z"/><path d="M165.88 340.96L172.88 351.96L158.88 351.96Z"/><path d="M167.96 341.56L174.96 352.56L160.96 352.56Z"/><path d="M170.05 342.16L177.05 353.16L163.05 353.16Z"/><path d="M172.13 342.79L179.13 353.79L165.13 353.79Z"/><path d="M174.21 343.47L181.21 354.47L167.21 354.47Z"/><path d="M176.29 344.21L183.29 355.21L169.29 355.21Z"/><path d="M178.37 344.99L185.37 355.99L171.37 355.99Z"/><path d="M180.45 345.79L187.45 356.79L173.45 356.79Z"/><path d="M182.54 346.59L189.54 357.59L175.54 357.59Z"/><path d="M184.62 347.36L191.62 358.36L177.62 358.36Z"/><path d="M186.7 348.12L193.7 359.12L179.7 359.12Z"/><path d="M188.78 348.91L195.78 359.91L181.78 359.91Z"/><path d="M190.86 349.68L197.86 360.68L183.86 360.68Z"/><path d="M192.94 350.43L199.94 361.43L185.94 361.43Z"/><path d="M195.02 351.11L202.02 362.11L188.02 362.11Z"/><path d="M197.11 351.71L204.11 362.71L190.11 362.71Z"/><path d="M199.19 352.24L206.19 363.24L192.19 363.24Z"/><path d="M201.27 352.72L208.27 363.72L194.27 363.72Z"/><path d="M203.35 353.18L210.35 364.18L196.35 364.18Z"/><path d="M205.43 353.61L212.43 364.61L198.43 364.61Z"/><path d="M207.51 354.02L214.51 365.02L200.51 365.02Z"/><path d="M209.6 354.44L216.6 365.44L202.6 365.44Z"/><path d="M211.68 354.87L218.68 365.87L204.68 365.87Z"/><path d="M213.76 355.28L220.76 366.28L206.76 366.28Z"/><path d="M215.84 355.67L222.84 366.67L208.84 366.67Z"/><path d="M217.92 356.02L224.92 367.02L210.92 367.02Z"/><path d="M220 356.3L227 367.3L213 367.3Z"/><path d="M222.09 356.53L229.09 367.53L215.09 367.53Z"/><path d="M224.17 356.72L231.17 367.72L217.17 367.72Z"/><path d="M226.25 356.89L233.25 367.89L219.25 367.89Z"/><path d="M228.33 357.06L235.33 368.06L221.33 368.06Z"/><path d="M230.41 357.24L237.41 368.24L223.41 368.24Z"/><path d="M232.49 357.44L239.49 368.44L225.49 368.44Z"/><path d="M234.58 357.64L241.58 368.64L227.58 368.64Z"/><path d="M236.66 357.83L243.66 368.83L229.66 368.83Z"/><path d="M238.74 358.01L245.74 369.01L231.74 369.01Z"/><path d="M240.82 358.15L247.82 369.15L233.82 369.15Z"/><path d="M242.9 358.28L249.9 369.28L235.9 369.28Z"/><path d="M244.98 358.4L251.98 369.4L237.98 369.4Z"/><path d="M247.06 358.51L254.06 369.51L240.06 369.51Z"/><path d="M249.15 358.62L256.15 369.62L242.15 369.62Z"/><path d="M251.23 358.72L258.23 369.72L244.23 369.72Z"/><path d="M253.31 358.81L260.31 369.81L246.31 369.81Z"/><path d="M255.39 358.9L262.39 369.9L248.39 369.9Z"/><path d="M257.47 358.99L264.47 369.99L250.47 369.99Z"/><path d="M259.55 359.08L266.55 370.08L252.55 370.08Z"/><path d="M261.64 359.17L268.64 370.17L254.64 370.17Z"/><path d="M263.72 359.25L270.72 370.25L256.72 370.25Z"/><path d="M265.8 359.34L272.8 370.34L258.8 370.34Z"/><path d="M267.88 359.42L274.88 370.42L260.88 370.42Z"/><path d="M269.96 359.5L276.96 370.5L262.96 370.5Z"/><path d="M272.04 359.58L279.04 370.58L265.04 370.58Z"/><path d="M274.13 359.65L281.13 370.65L267.13 370.65Z"/><path d="M276.21 359.73L283.21 370.73L269.21 370.73Z"/><path d="M278.29 359.8L285.29 370.8L271.29 370.8Z"/><path d="M280.37 359.87L287.37 370.87L273.37 370.87Z"/><path d="M282.45 359.94L289.45 370.94L275.45 370.94Z"/><path d="M284.53 360.01L291.53 371.01L277.53 371.01Z"/><path d="M286.62 360.08L293.62 371.08L279.62 371.08Z"/><path d="M288.7 360.15L295.7 371.15L281.7 371.15Z"/><path d="M290.78 360.22L297.78 371.22L283.78 371.22Z"/><path d="M292.86 360.28L299.86 371.28L285.86 371.28Z"/><path d="M294.94 360.35L301.94 371.35L287.94 371.35Z"/><path d="M297.02 360.41L304.02 371.41L290.02 371.41Z"/><path d="M299.1 360.47L306.1 371.47L292.1 371.47Z"/><path d="M301.19 360.54L308.19 371.54L294.19 371.54Z"/><path d="M303.27 360.6L310.27 371.6L296.27 371.6Z"/><path d="M305.35 360.66L312.35 371.66L298.35 371.66Z"/><path d="M307.43 360.72L314.43 371.72L300.43 371.72Z"/><path d="M309.51 360.78L316.51 371.78L302.51 371.78Z"/><path d="M311.59 360.84L318.59 371.84L304.59 371.84Z"/><path d="M313.68 360.9L320.68 371.9L306.68 371.9Z"/><path d="M315.76 360.96L322.76 371.96L308.76 371.96Z"/><path d="M317.84 361.02L324.84 372.02L310.84 372.02Z"/><path d="M319.92 361.08L326.92 372.08L312.92 372.08Z"/><path d="M322 361.14L329 372.14L315 372.14Z"/><path d="M324.08 361.19L331.08 372.19L317.08 372.19Z"/><path d="M326.17 361.25L333.17 372.25L319.17 372.25Z"/><path d="M328.25 361.31L335.25 372.31L321.25 372.31Z"/><path d="M330.33 361.36L337.33 372.36L323.33 372.36Z"/><path d="M332.41 361.42L339.41 372.42L325.41 372.42Z"/><path d="M334.49 361.48L341.49 372.48L327.49 372.48Z"/><path d="M336.57 361.53L343.57 372.53L329.57 372.53Z"/><path d="M338.66 361.59L345.66 372.59L331.66 372.59Z"/><path d="M340.74 361.64L347.74 372.64L333.74 372.64Z"/><path d="M342.82 361.69L349.82 372.69L335.82 372.69Z"/><path d="M344.9 361.75L351.9 372.75L337.9 372.75Z"/><path d="M346.98 361.8L353.98 372.8L339.98 372.8Z"/><path d="M349.06 361.85L356.06 372.85L342.06 372.85Z"/><path d="M351.14 361.91L358.14 372.91L344.14 372.91Z"/><path d="M353.23 361.96L360.23 372.96L346.23 372.96Z"/><path d="M355.31 362.01L362.31 373.01L348.31 373.01Z"/><path d="M357.39 362.06L364.39 373.06L350.39 373.06Z"/><path d="M359.47 362.11L366.47 373.11L352.47 373.11Z"/><path d="M361.55 362.16L368.55 373.16L354.55 373.16Z"/><path d="M363.63 362.21L370.63 373.21L356.63 373.21Z"/><path d="M365.72 362.26L372.72 373.26L358.72 373.26Z"/><path d="M367.8 362.31L374.8 373.31L360.8 373.31Z"/><path d="M369.88 362.36L376.88 373.36L362.88 373.36Z"/><path d="M371.96 362.4L378.96 373.4L364.96 373.4Z"/><path d="M374.04 362.45L381.04 373.45L367.04 373.45Z"/><path d="M376.12 362.5L383.12 373.5L369.12 373.5Z"/><path d="M378.21 362.54L385.21 373.54L371.21 373.54Z"/><path d="M380.29 362.59L387.29 373.59L373.29 373.59Z"/><path d="M382.37 362.64L389.37 373.64L375.37 373.64Z"/><path d="M384.45 362.68L391.45 373.68L377.45 373.68Z"/><path d="M386.53 362.72L393.53 373.72L379.53 373.72Z"/><path d="M388.61 362.77L395.61 373.77L381.61 373.77Z"/><path d="M390.7 362.81L397.7 373.81L383.7 373.81Z"/><path d="M392.78 362.85L399.78 373.85L385.78 373.85Z"/><path d="M394.86 362.9L401.86 373.9L387.86 373.9Z"/><path d="M396.94 362.94L403.94 373.94L389.94 373.94Z"/><path d="M399.02 362.98L406.02 373.98L392.02 373.98Z"/><path d="M401.1 363.02L408.1 374.02L394.1 374.02Z"/><path d="M403.18 363.06L410.18 374.06L396.18 374.06Z"/><path d="M405.27 363.1L412.27 374.1L398.27 374.1Z"/><path d="M407.35 363.14L414.35 374.14L400.35 374.14Z"/><path d="M409.43 363.18L416.43 374.18L402.43 374.18Z"/><path d="M411.51 363.22L418.51 374.22L404.51 374.22Z"/><path d="M413.59 363.26L420.59 374.26L406.59 374.26Z"/><path d="M415.67 363.3L422.67 374.3L408.67 374.3Z"/><path d="M417.76 363.34L424.76 374.34L410.76 374.34Z"/><path d="M419.84 363.38L426.84 374.38L412.84 374.38Z"/><path d="M421.92 363.42L428.92 374.42L414.92 374.42Z"/><path d="M424 363.46L431 374.46L417 374.46Z"/><path d="M426.08 363.5L433.08 374.5L419.08 374.5Z"/><path d="M428.16 363.53L435.16 374.53L421.16 374.53Z"/><path d="M430.25 363.57L437.25 374.57L423.25 374.57Z"/><path d="M432.33 363.6L439.33 374.6L425.33 374.6Z"/><path d="M434.41 363.64L441.41 374.64L427.41 374.64Z"/><path d="M436.49 363.67L443.49 374.67L429.49 374.67Z"/><path d="M438.57 363.71L445.57 374.71L431.57 374.71Z"/><path d="M440.65 363.74L447.65 374.74L433.65 374.74Z"/><path d="M442.74 363.77L449.74 374.77L435.74 374.77Z"/><path d="M444.82 363.8L451.82 374.8L437.82 374.8Z"/><path d="M446.9 363.83L453.9 374.83L439.9 374.83Z"/><path d="M448.98 363.86L455.98 374.86L441.98 374.86Z"/><path d="M451.06 363.89L458.06 374.89L444.06 374.89Z"/><path d="M453.14 363.92L460.14 374.92L446.14 374.92Z"/><path d="M455.22 363.94L462.22 374.94L448.22 374.94Z"/><path d="M457.31 363.97L464.31 374.97L450.31 374.97Z"/><path d="M459.39 363.99L466.39 374.99L452.39 374.99Z"/><path d="M461.47 364.02L468.47 375.02L454.47 375.02Z"/><path d="M463.55 364.04L470.55 375.04L456.55 375.04Z"/><path d="M465.63 364.06L472.63 375.06L458.63 375.06Z"/><path d="M467.71 364.08L474.71 375.08L460.71 375.08Z"/><path d="M469.8 364.1L476.8 375.1L462.8 375.1Z"/><path d="M471.88 364.12L478.88 375.12L464.88 375.12Z"/><path d="M473.96 364.14L480.96 375.14L466.96 375.14Z"/><path d="M476.04 364.16L483.04 375.16L469.04 375.16Z"/><path d="M478.12 364.18L485.12 375.18L471.12 375.18Z"/><path d="M480.2 364.2L487.2 375.2L473.2 375.2Z"/><path d="M482.29 364.22L489.29 375.22L475.29 375.22Z"/><path d="M484.37 364.24L491.37 375.24L477.37 375.24Z"/><path d="M486.45 364.26L493.45 375.26L479.45 375.26Z"/><path d="M488.53 364.28L495.53 375.28L481.53 375.28Z"/><path d="M490.61 364.29L497.61 375.29L483.61 375.29Z"/><path d="M492.69 364.31L499.69 375.31L485.69 375.31Z"/><path d="M494.78 364.33L501.78 375.33L487.78 375.33Z"/><path d="M496.86 364.34L503.86 375.34L489.86 375.34Z"/><path d="M498.94 364.36L505.94 375.36L491.94 375.36Z"/><path d="M501.02 364.38L508.02 375.38L494.02 375.38Z"/><path d="M503.1 364.39L510.1 375.39L496.1 375.39Z"/><path d="M505.18 364.41L512.18 375.41L498.18 375.41Z"/><path d="M507.26 364.42L514.26 375.42L500.26 375.42Z"/><path d="M509.35 364.44L516.35 375.44L502.35 375.44Z"/><path d="M511.43 364.45L518.43 375.45L504.43 375.45Z"/><path d="M513.51 364.47L520.51 375.47L506.51 375.47Z"/><path d="M515.59 364.48L522.59 375.48L508.59 375.48Z"/><path d="M517.67 364.5L524.67 375.5L510.67 375.5Z"/><path d="M519.75 364.51L526.75 375.51L512.75 375.51Z"/><path d="M521.84 364.53L528.84 375.53L514.84 375.53Z"/><path d="M523.92 364.54L530.92 375.54L516.92 375.54Z"/><path d="M526 364.56L533 375.56L519 375.56Z"/><path d="M528.08 364.57L535.08 375.57L521.08 375.57Z"/><path d="M530.16 364.59L537.16 375.59L523.16 375.59Z"/><path d="M532.24 364.6L539.24 375.6L525.24 375.6Z"/><path d="M534.33 364.61L541.33 375.61L527.33 375.61Z"/><path d="M536.41 364.63L543.41 375.63L529.41 375.63Z"/><path d="M538.49 364.64L545.49 375.64L531.49 375.64Z"/><path d="M540.57 364.66L547.57 375.66L533.57 375.66Z"/><path d="M542.65 364.67L549.65 375.67L535.65 375.67Z"/><path d="M544.73 364.69L551.73 375.69L537.73 375.69Z"/><path d="M546.82 364.7L553.82 375.7L539.82 375.7Z"/><path d="M548.9 364.72L555.9 375.72L541.9 375.72Z"/><path d="M550.98 364.73L557.98 375.73L543.98 375.73Z"/><path d="M553.06 364.75L560.06 375.75L546.06 375.75Z"/><path d="M555.14 364.76L562.14 375.76L548.14 375.76Z"/><path d="M557.22 364.78L564.22 375.78L550.22 375.78Z"/><path d="M559.3 364.79L566.3 375.79L552.3 375.79Z"/><path d="M561.39 364.81L568.39 375.81L554.39 375.81Z"/><path d="M563.47 364.83L570.47 375.83L556.47 375.83Z"/><path d="M565.55 364.84L572.55 375.84L558.55 375.84Z"/><path d="M567.63 364.86L574.63 375.86L560.63 375.86Z"/><path d="M569.71 364.87L576.71 375.87L562.71 375.87Z"/><path d="M571.79 364.89L578.79 375.89L564.79 375.89Z"/><path d="M573.88 364.91L580.88 375.91L566.88 375.91Z"/><path d="M575.96 364.92L582.96 375.92L568.96 375.92Z"/><path d="M578.04 364.94L585.04 375.94L571.04 375.94Z"/><path d="M580.12 364.95L587.12 375.95L573.12 375.95Z"/><path d="M582.2 364.97L589.2 375.97L575.2 375.97Z"/><path d="M584.28 364.98L591.28 375.98L577.28 375.98Z"/><path d="M586.37 365L593.37 376L579.37 376Z"/><path d="M588.45 365.02L595.45 376.02L581.45 376.02Z"/><path d="M590.53 365.03L597.53 376.03L583.53 376.03Z"/><path d="M592.61 365.05L599.61 376.05L585.61 376.05Z"/><path d="M594.69 365.06L601.69 376.06L587.69 376.06Z"/><path d="M596.77 365.08L603.77 376.08L589.77 376.08Z"/><path d="M598.86 365.09L605.86 376.09L591.86 376.09Z"/><path d="M600.94 365.11L607.94 376.11L593.94 376.11Z"/><path d="M603.02 365.12L610.02 376.12L596.02 376.12Z"/><path d="M605.1 365.14L612.1 376.14L598.1 376.14Z"/><path d="M607.18 365.15L614.18 376.15L600.18 376.15Z"/><path d="M609.26 365.17L616.26 376.17L602.26 376.17Z"/><path d="M611.34 365.18L618.34 376.18L604.34 376.18Z"/><path d="M613.43 365.2L620.43 376.2L606.43 376.2Z"/><path d="M615.51 365.22L622.51 376.22L608.51 376.22Z"/><path d="M617.59 365.23L624.59 376.23L610.59 376.23Z"/><path d="M619.67 365.25L626.67 376.25L612.67 376.25Z"/><path d="M621.75 365.26L628.75 376.26L614.75 376.26Z"/><path d="M623.83 365.28L630.83 376.28L616.83 376.28Z"/><path d="M625.92 365.29L632.92 376.29L618.92 376.29Z"/><path d="M628 365.31L635 376.31L621 376.31Z"/><path d="M630.08 365.32L637.08 376.32L623.08 376.32Z"/><path d="M632.16 365.34L639.16 376.34L625.16 376.34Z"/><path d="M634.24 365.35L641.24 376.35L627.24 376.35Z"/><path d="M636.32 365.37L643.32 376.37L629.32 376.37Z"/><path d="M638.41 365.38L645.41 376.38L631.41 376.38Z"/><path d="M640.49 365.4L647.49 376.4L633.49 376.4Z"/><path d="M642.57 365.41L649.57 376.41L635.57 376.41Z"/><path d="M644.65 365.42L651.65 376.42L637.65 376.42Z"/><path d="M646.73 365.44L653.73 376.44L639.73 376.44Z"/><path d="M648.81 365.45L655.81 376.45L641.81 376.45Z"/><path d="M650.9 365.47L657.9 376.47L643.9 376.47Z"/><path d="M652.98 365.48L659.98 376.48L645.98 376.48Z"/><path d="M655.06 365.5L662.06 376.5L648.06 376.5Z"/></g>
<path d="M85 126.5 L86.6 108 L86 99 L95.5 85.5 L97.58 91.81 L99.66 95.99 L101.74 99.08 L103.83 102.55 L105.91 106.27 L107.99 110.51 L110.07 114.46 L112.15 118.07 L114.23 121.52 L116.32 124.85 L118.4 128.46 L120.48 132.43 L122.56 136.66 L124.64 140.53 L126.72 144.07 L128.81 147.17 L130.89 149.87 L132.97 152.17 L135.05 154.28 L137.13 156.22 L139.21 158.03 L141.3 159.73 L143.38 161.25 L145.46 162.62 L147.54 163.96 L149.62 165.41 L151.7 167.11 L153.78 169.15 L155.87 171.34 L157.95 173.4 L160.03 175.38 L162.11 178.2 L164.19 182.09 L166.27 185.52 L168.36 188.65 L170.44 191.69 L172.52 194.79 L174.6 198.02 L176.68 200.85 L178.76 203.14 L180.85 205.56 L182.93 208.58 L185.01 211.92 L187.09 215.2 L189.17 218.08 L191.25 220.79 L193.34 223.35 L195.42 225.79 L197.5 228.11 L199.58 230.44 L201.66 232.69 L203.74 234.77 L205.82 236.58 L207.91 238.02 L209.99 239.27 L212.07 240.4 L214.15 241.42 L216.23 242.35 L218.31 243.22 L220.4 244.04 L222.48 244.83 L224.56 245.59 L226.64 246.32 L228.72 247.02 L230.8 247.7 L232.89 248.35 L234.97 248.97 L237.05 249.57 L239.13 250.15 L241.21 250.7 L243.29 251.24 L245.38 251.75 L247.46 252.25 L249.54 252.72 L251.62 253.17 L253.7 253.59 L255.78 254 L257.86 254.4 L259.95 254.79 L262.03 255.18 L264.11 255.57 L266.19 255.96 L268.27 256.36 L270.35 256.77 L272.44 257.2 L274.52 257.63 L276.6 258.07 L278.68 258.52 L280.76 258.97 L282.84 259.42 L284.93 259.86 L287.01 260.3 L289.09 260.74 L291.17 261.16 L293.25 261.57 L295.33 261.97 L297.42 262.35 L299.5 262.72 L301.58 263.06 L303.66 263.4 L305.74 263.72 L307.82 264.04 L309.9 264.35 L311.99 264.65 L314.07 264.95 L316.15 265.24 L318.23 265.52 L320.31 265.8 L322.39 266.07 L324.48 266.34 L326.56 266.61 L328.64 266.88 L330.72 267.14 L332.8 267.4 L334.88 267.67 L336.97 267.93 L339.05 268.19 L341.13 268.45 L343.21 268.72 L345.29 268.99 L347.37 269.26 L349.46 269.53 L351.54 269.81 L353.62 270.09 L355.7 270.38 L357.78 270.68 L359.86 270.98 L361.94 271.29 L364.03 271.63 L366.11 271.98 L368.19 272.34 L370.27 272.7 L372.35 273.08 L374.43 273.46 L376.52 273.84 L378.6 274.22 L380.68 274.59 L382.76 274.96 L384.84 275.31 L386.92 275.65 L389.01 275.98 L391.09 276.28 L393.17 276.56 L395.25 276.82 L397.33 277.05 L399.41 277.25 L401.5 277.42 L403.58 277.56 L405.66 277.69 L407.74 277.81 L409.82 277.92 L411.9 278.02 L413.98 278.13 L416.07 278.25 L418.15 278.37 L420.23 278.52 L422.31 278.67 L424.39 278.84 L426.47 279.02 L428.56 279.2 L430.64 279.4 L432.72 279.6 L434.8 279.8 L436.88 280.01 L438.96 280.22 L441.05 280.44 L443.13 280.66 L445.21 280.87 L447.29 281.09 L449.37 281.3 L451.45 281.51 L453.54 281.71 L455.62 281.91 L457.7 282.1 L459.78 282.28 L461.86 282.46 L463.94 282.64 L466.02 282.83 L468.11 283.01 L470.19 283.2 L472.27 283.39 L474.35 283.57 L476.43 283.76 L478.51 283.95 L480.6 284.13 L482.68 284.31 L484.76 284.5 L486.84 284.67 L488.92 284.85 L491 285.02 L493.09 285.19 L495.17 285.35 L497.25 285.51 L499.33 285.66 L501.41 285.8 L503.49 285.94 L505.58 286.07 L507.66 286.19 L509.74 286.31 L511.82 286.41 L513.9 286.51 L515.98 286.6 L518.06 286.68 L520.15 286.75 L522.23 286.82 L524.31 286.89 L526.39 286.95 L528.47 287.01 L530.55 287.07 L532.64 287.12 L534.72 287.17 L536.8 287.22 L538.88 287.27 L540.96 287.32 L543.04 287.37 L545.13 287.42 L547.21 287.46 L549.29 287.51 L551.37 287.57 L553.45 287.62 L555.53 287.67 L557.62 287.73 L559.7 287.79 L561.78 287.85 L563.86 287.91 L565.94 287.97 L568.02 288.03 L570.1 288.09 L572.19 288.16 L574.27 288.22 L576.35 288.28 L578.43 288.35 L580.51 288.42 L582.59 288.5 L584.68 288.58 L586.76 288.66 L588.84 288.75 L590.92 288.84 L593 288.95 L595.08 289.08 L597.17 289.21 L599.25 289.35 L601.33 289.5 L603.41 289.66 L605.49 289.81 L607.57 289.97 L609.66 290.13 L611.74 290.31 L613.82 290.49 L615.9 290.68 L617.98 290.85 L620.06 291 L622.14 291.13 L624.23 291.23 L626.31 291.33 L628.39 291.46 L630.47 291.65 L632.55 292 L634.63 292.49 L636.72 293.07 L638.8 293.67 L640.88 294.24 L642.96 294.85 L645.04 295.49 L647.12 296.13 L649.21 296.76 L651.29 297.39 L653.37 298.02" fill="none" stroke="#008080" stroke-width="1.0" stroke-linejoin="round"/>
<g fill="#008080"><path d="M78 121L92 121L85 132Z"/><path d="M79.6 102.5L93.6 102.5L86.6 113.5Z"/><path d="M79 93.5L93 93.5L86 104.5Z"/><path d="M88.5 80L102.5 80L95.5 91Z"/><path d="M90.58 86.31L104.58 86.31L97.58 97.31Z"/><path d="M92.66 90.49L106.66 90.49L99.66 101.49Z"/><path d="M94.74 93.58L108.74 93.58L101.74 104.58Z"/><path d="M96.83 97.05L110.83 97.05L103.83 108.05Z"/><path d="M98.91 100.77L112.91 100.77L105.91 111.77Z"/><path d="M100.99 105.01L114.99 105.01L107.99 116.01Z"/><path d="M103.07 108.96L117.07 108.96L110.07 119.96Z"/><path d="M105.15 112.57L119.15 112.57L112.15 123.57Z"/><path d="M107.23 116.02L121.23 116.02L114.23 127.02Z"/><path d="M109.32 119.35L123.32 119.35L116.32 130.35Z"/><path d="M111.4 122.96L125.4 122.96L118.4 133.96Z"/><path d="M113.48 126.93L127.48 126.93L120.48 137.93Z"/><path d="M115.56 131.16L129.56 131.16L122.56 142.16Z"/><path d="M117.64 135.03L131.64 135.03L124.64 146.03Z"/><path d="M119.72 138.57L133.72 138.57L126.72 149.57Z"/><path d="M121.81 141.67L135.81 141.67L128.81 152.67Z"/><path d="M123.89 144.37L137.89 144.37L130.89 155.37Z"/><path d="M125.97 146.67L139.97 146.67L132.97 157.67Z"/><path d="M128.05 148.78L142.05 148.78L135.05 159.78Z"/><path d="M130.13 150.72L144.13 150.72L137.13 161.72Z"/><path d="M132.21 152.53L146.21 152.53L139.21 163.53Z"/><path d="M134.3 154.23L148.3 154.23L141.3 165.23Z"/><path d="M136.38 155.75L150.38 155.75L143.38 166.75Z"/><path d="M138.46 157.12L152.46 157.12L145.46 168.12Z"/><path d="M140.54 158.46L154.54 158.46L147.54 169.46Z"/><path d="M142.62 159.91L156.62 159.91L149.62 170.91Z"/><path d="M144.7 161.61L158.7 161.61L151.7 172.61Z"/><path d="M146.78 163.65L160.78 163.65L153.78 174.65Z"/><path d="M148.87 165.84L162.87 165.84L155.87 176.84Z"/><path d="M150.95 167.9L164.95 167.9L157.95 178.9Z"/><path d="M153.03 169.88L167.03 169.88L160.03 180.88Z"/><path d="M155.11 172.7L169.11 172.7L162.11 183.7Z"/><path d="M157.19 176.59L171.19 176.59L164.19 187.59Z"/><path d="M159.27 180.02L173.27 180.02L166.27 191.02Z"/><path d="M161.36 183.15L175.36 183.15L168.36 194.15Z"/><path d="M163.44 186.19L177.44 186.19L170.44 197.19Z"/><path d="M165.52 189.29L179.52 189.29L172.52 200.29Z"/><path d="M167.6 192.52L181.6 192.52L174.6 203.52Z"/><path d="M169.68 195.35L183.68 195.35L176.68 206.35Z"/><path d="M171.76 197.64L185.76 197.64L178.76 208.64Z"/><path d="M173.85 200.06L187.85 200.06L180.85 211.06Z"/><path d="M175.93 203.08L189.93 203.08L182.93 214.08Z"/><path d="M178.01 206.42L192.01 206.42L185.01 217.42Z"/><path d="M180.09 209.7L194.09 209.7L187.09 220.7Z"/><path d="M182.17 212.58L196.17 212.58L189.17 223.58Z"/><path d="M184.25 215.29L198.25 215.29L191.25 226.29Z"/><path d="M186.34 217.85L200.34 217.85L193.34 228.85Z"/><path d="M188.42 220.29L202.42 220.29L195.42 231.29Z"/><path d="M190.5 222.61L204.5 222.61L197.5 233.61Z"/><path d="M192.58 224.94L206.58 224.94L199.58 235.94Z"/><path d="M194.66 227.19L208.66 227.19L201.66 238.19Z"/><path d="M196.74 229.27L210.74 229.27L203.74 240.27Z"/><path d="M198.82 231.08L212.82 231.08L205.82 242.08Z"/><path d="M200.91 232.52L214.91 232.52L207.91 243.52Z"/><path d="M202.99 233.77L216.99 233.77L209.99 244.77Z"/><path d="M205.07 234.9L219.07 234.9L212.07 245.9Z"/><path d="M207.15 235.92L221.15 235.92L214.15 246.92Z"/><path d="M209.23 236.85L223.23 236.85L216.23 247.85Z"/><path d="M211.31 237.72L225.31 237.72L218.31 248.72Z"/><path d="M213.4 238.54L227.4 238.54L220.4 249.54Z"/><path d="M215.48 239.33L229.48 239.33L222.48 250.33Z"/><path d="M217.56 240.09L231.56 240.09L224.56 251.09Z"/><path d="M219.64 240.82L233.64 240.82L226.64 251.82Z"/><path d="M221.72 241.52L235.72 241.52L228.72 252.52Z"/><path d="M223.8 242.2L237.8 242.2L230.8 253.2Z"/><path d="M225.89 242.85L239.89 242.85L232.89 253.85Z"/><path d="M227.97 243.47L241.97 243.47L234.97 254.47Z"/><path d="M230.05 244.07L244.05 244.07L237.05 255.07Z"/><path d="M232.13 244.65L246.13 244.65L239.13 255.65Z"/><path d="M234.21 245.2L248.21 245.2L241.21 256.2Z"/><path d="M236.29 245.74L250.29 245.74L243.29 256.74Z"/><path d="M238.38 246.25L252.38 246.25L245.38 257.25Z"/><path d="M240.46 246.75L254.46 246.75L247.46 257.75Z"/><path d="M242.54 247.22L256.54 247.22L249.54 258.22Z"/><path d="M244.62 247.67L258.62 247.67L251.62 258.67Z"/><path d="M246.7 248.09L260.7 248.09L253.7 259.09Z"/><path d="M248.78 248.5L262.78 248.5L255.78 259.5Z"/><path d="M250.86 248.9L264.86 248.9L257.86 259.9Z"/><path d="M252.95 249.29L266.95 249.29L259.95 260.29Z"/><path d="M255.03 249.68L269.03 249.68L262.03 260.68Z"/><path d="M257.11 250.07L271.11 250.07L264.11 261.07Z"/><path d="M259.19 250.46L273.19 250.46L266.19 261.46Z"/><path d="M261.27 250.86L275.27 250.86L268.27 261.86Z"/><path d="M263.35 251.27L277.35 251.27L270.35 262.27Z"/><path d="M265.44 251.7L279.44 251.7L272.44 262.7Z"/><path d="M267.52 252.13L281.52 252.13L274.52 263.13Z"/><path d="M269.6 252.57L283.6 252.57L276.6 263.57Z"/><path d="M271.68 253.02L285.68 253.02L278.68 264.02Z"/><path d="M273.76 253.47L287.76 253.47L280.76 264.47Z"/><path d="M275.84 253.92L289.84 253.92L282.84 264.92Z"/><path d="M277.93 254.36L291.93 254.36L284.93 265.36Z"/><path d="M280.01 254.8L294.01 254.8L287.01 265.8Z"/><path d="M282.09 255.24L296.09 255.24L289.09 266.24Z"/><path d="M284.17 255.66L298.17 255.66L291.17 266.66Z"/><path d="M286.25 256.07L300.25 256.07L293.25 267.07Z"/><path d="M288.33 256.47L302.33 256.47L295.33 267.47Z"/><path d="M290.42 256.85L304.42 256.85L297.42 267.85Z"/><path d="M292.5 257.22L306.5 257.22L299.5 268.22Z"/><path d="M294.58 257.56L308.58 257.56L301.58 268.56Z"/><path d="M296.66 257.9L310.66 257.9L303.66 268.9Z"/><path d="M298.74 258.22L312.74 258.22L305.74 269.22Z"/><path d="M300.82 258.54L314.82 258.54L307.82 269.54Z"/><path d="M302.9 258.85L316.9 258.85L309.9 269.85Z"/><path d="M304.99 259.15L318.99 259.15L311.99 270.15Z"/><path d="M307.07 259.45L321.07 259.45L314.07 270.45Z"/><path d="M309.15 259.74L323.15 259.74L316.15 270.74Z"/><path d="M311.23 260.02L325.23 260.02L318.23 271.02Z"/><path d="M313.31 260.3L327.31 260.3L320.31 271.3Z"/><path d="M315.39 260.57L329.39 260.57L322.39 271.57Z"/><path d="M317.48 260.84L331.48 260.84L324.48 271.84Z"/><path d="M319.56 261.11L333.56 261.11L326.56 272.11Z"/><path d="M321.64 261.38L335.64 261.38L328.64 272.38Z"/><path d="M323.72 261.64L337.72 261.64L330.72 272.64Z"/><path d="M325.8 261.9L339.8 261.9L332.8 272.9Z"/><path d="M327.88 262.17L341.88 262.17L334.88 273.17Z"/><path d="M329.97 262.43L343.97 262.43L336.97 273.43Z"/><path d="M332.05 262.69L346.05 262.69L339.05 273.69Z"/><path d="M334.13 262.95L348.13 262.95L341.13 273.95Z"/><path d="M336.21 263.22L350.21 263.22L343.21 274.22Z"/><path d="M338.29 263.49L352.29 263.49L345.29 274.49Z"/><path d="M340.37 263.76L354.37 263.76L347.37 274.76Z"/><path d="M342.46 264.03L356.46 264.03L349.46 275.03Z"/><path d="M344.54 264.31L358.54 264.31L351.54 275.31Z"/><path d="M346.62 264.59L360.62 264.59L353.62 275.59Z"/><path d="M348.7 264.88L362.7 264.88L355.7 275.88Z"/><path d="M350.78 265.18L364.78 265.18L357.78 276.18Z"/><path d="M352.86 265.48L366.86 265.48L359.86 276.48Z"/><path d="M354.94 265.79L368.94 265.79L361.94 276.79Z"/><path d="M357.03 266.13L371.03 266.13L364.03 277.13Z"/><path d="M359.11 266.48L373.11 266.48L366.11 277.48Z"/><path d="M361.19 266.84L375.19 266.84L368.19 277.84Z"/><path d="M363.27 267.2L377.27 267.2L370.27 278.2Z"/><path d="M365.35 267.58L379.35 267.58L372.35 278.58Z"/><path d="M367.43 267.96L381.43 267.96L374.43 278.96Z"/><path d="M369.52 268.34L383.52 268.34L376.52 279.34Z"/><path d="M371.6 268.72L385.6 268.72L378.6 279.72Z"/><path d="M373.68 269.09L387.68 269.09L380.68 280.09Z"/><path d="M375.76 269.46L389.76 269.46L382.76 280.46Z"/><path d="M377.84 269.81L391.84 269.81L384.84 280.81Z"/><path d="M379.92 270.15L393.92 270.15L386.92 281.15Z"/><path d="M382.01 270.48L396.01 270.48L389.01 281.48Z"/><path d="M384.09 270.78L398.09 270.78L391.09 281.78Z"/><path d="M386.17 271.06L400.17 271.06L393.17 282.06Z"/><path d="M388.25 271.32L402.25 271.32L395.25 282.32Z"/><path d="M390.33 271.55L404.33 271.55L397.33 282.55Z"/><path d="M392.41 271.75L406.41 271.75L399.41 282.75Z"/><path d="M394.5 271.92L408.5 271.92L401.5 282.92Z"/><path d="M396.58 272.06L410.58 272.06L403.58 283.06Z"/><path d="M398.66 272.19L412.66 272.19L405.66 283.19Z"/><path d="M400.74 272.31L414.74 272.31L407.74 283.31Z"/><path d="M402.82 272.42L416.82 272.42L409.82 283.42Z"/><path d="M404.9 272.52L418.9 272.52L411.9 283.52Z"/><path d="M406.98 272.63L420.98 272.63L413.98 283.63Z"/><path d="M409.07 272.75L423.07 272.75L416.07 283.75Z"/><path d="M411.15 272.87L425.15 272.87L418.15 283.87Z"/><path d="M413.23 273.02L427.23 273.02L420.23 284.02Z"/><path d="M415.31 273.17L429.31 273.17L422.31 284.17Z"/><path d="M417.39 273.34L431.39 273.34L424.39 284.34Z"/><path d="M419.47 273.52L433.47 273.52L426.47 284.52Z"/><path d="M421.56 273.7L435.56 273.7L428.56 284.7Z"/><path d="M423.64 273.9L437.64 273.9L430.64 284.9Z"/><path d="M425.72 274.1L439.72 274.1L432.72 285.1Z"/><path d="M427.8 274.3L441.8 274.3L434.8 285.3Z"/><path d="M429.88 274.51L443.88 274.51L436.88 285.51Z"/><path d="M431.96 274.72L445.96 274.72L438.96 285.72Z"/><path d="M434.05 274.94L448.05 274.94L441.05 285.94Z"/><path d="M436.13 275.16L450.13 275.16L443.13 286.16Z"/><path d="M438.21 275.37L452.21 275.37L445.21 286.37Z"/><path d="M440.29 275.59L454.29 275.59L447.29 286.59Z"/><path d="M442.37 275.8L456.37 275.8L449.37 286.8Z"/><path d="M444.45 276.01L458.45 276.01L451.45 287.01Z"/><path d="M446.54 276.21L460.54 276.21L453.54 287.21Z"/><path d="M448.62 276.41L462.62 276.41L455.62 287.41Z"/><path d="M450.7 276.6L464.7 276.6L457.7 287.6Z"/><path d="M452.78 276.78L466.78 276.78L459.78 287.78Z"/><path d="M454.86 276.96L468.86 276.96L461.86 287.96Z"/><path d="M456.94 277.14L470.94 277.14L463.94 288.14Z"/><path d="M459.02 277.33L473.02 277.33L466.02 288.33Z"/><path d="M461.11 277.51L475.11 277.51L468.11 288.51Z"/><path d="M463.19 277.7L477.19 277.7L470.19 288.7Z"/><path d="M465.27 277.89L479.27 277.89L472.27 288.89Z"/><path d="M467.35 278.07L481.35 278.07L474.35 289.07Z"/><path d="M469.43 278.26L483.43 278.26L476.43 289.26Z"/><path d="M471.51 278.45L485.51 278.45L478.51 289.45Z"/><path d="M473.6 278.63L487.6 278.63L480.6 289.63Z"/><path d="M475.68 278.81L489.68 278.81L482.68 289.81Z"/><path d="M477.76 279L491.76 279L484.76 290Z"/><path d="M479.84 279.17L493.84 279.17L486.84 290.17Z"/><path d="M481.92 279.35L495.92 279.35L488.92 290.35Z"/><path d="M484 279.52L498 279.52L491 290.52Z"/><path d="M486.09 279.69L500.09 279.69L493.09 290.69Z"/><path d="M488.17 279.85L502.17 279.85L495.17 290.85Z"/><path d="M490.25 280.01L504.25 280.01L497.25 291.01Z"/><path d="M492.33 280.16L506.33 280.16L499.33 291.16Z"/><path d="M494.41 280.3L508.41 280.3L501.41 291.3Z"/><path d="M496.49 280.44L510.49 280.44L503.49 291.44Z"/><path d="M498.58 280.57L512.58 280.57L505.58 291.57Z"/><path d="M500.66 280.69L514.66 280.69L507.66 291.69Z"/><path d="M502.74 280.81L516.74 280.81L509.74 291.81Z"/><path d="M504.82 280.91L518.82 280.91L511.82 291.91Z"/><path d="M506.9 281.01L520.9 281.01L513.9 292.01Z"/><path d="M508.98 281.1L522.98 281.1L515.98 292.1Z"/><path d="M511.06 281.18L525.06 281.18L518.06 292.18Z"/><path d="M513.15 281.25L527.15 281.25L520.15 292.25Z"/><path d="M515.23 281.32L529.23 281.32L522.23 292.32Z"/><path d="M517.31 281.39L531.31 281.39L524.31 292.39Z"/><path d="M519.39 281.45L533.39 281.45L526.39 292.45Z"/><path d="M521.47 281.51L535.47 281.51L528.47 292.51Z"/><path d="M523.55 281.57L537.55 281.57L530.55 292.57Z"/><path d="M525.64 281.62L539.64 281.62L532.64 292.62Z"/><path d="M527.72 281.67L541.72 281.67L534.72 292.67Z"/><path d="M529.8 281.72L543.8 281.72L536.8 292.72Z"/><path d="M531.88 281.77L545.88 281.77L538.88 292.77Z"/><path d="M533.96 281.82L547.96 281.82L540.96 292.82Z"/><path d="M536.04 281.87L550.04 281.87L543.04 292.87Z"/><path d="M538.13 281.92L552.13 281.92L545.13 292.92Z"/><path d="M540.21 281.96L554.21 281.96L547.21 292.96Z"/><path d="M542.29 282.01L556.29 282.01L549.29 293.01Z"/><path d="M544.37 282.07L558.37 282.07L551.37 293.07Z"/><path d="M546.45 282.12L560.45 282.12L553.45 293.12Z"/><path d="M548.53 282.17L562.53 282.17L555.53 293.17Z"/><path d="M550.62 282.23L564.62 282.23L557.62 293.23Z"/><path d="M552.7 282.29L566.7 282.29L559.7 293.29Z"/><path d="M554.78 282.35L568.78 282.35L561.78 293.35Z"/><path d="M556.86 282.41L570.86 282.41L563.86 293.41Z"/><path d="M558.94 282.47L572.94 282.47L565.94 293.47Z"/><path d="M561.02 282.53L575.02 282.53L568.02 293.53Z"/><path d="M563.1 282.59L577.1 282.59L570.1 293.59Z"/><path d="M565.19 282.66L579.19 282.66L572.19 293.66Z"/><path d="M567.27 282.72L581.27 282.72L574.27 293.72Z"/><path d="M569.35 282.78L583.35 282.78L576.35 293.78Z"/><path d="M571.43 282.85L585.43 282.85L578.43 293.85Z"/><path d="M573.51 282.92L587.51 282.92L580.51 293.92Z"/><path d="M575.59 283L589.59 283L582.59 294Z"/><path d="M577.68 283.08L591.68 283.08L584.68 294.08Z"/><path d="M579.76 283.16L593.76 283.16L586.76 294.16Z"/><path d="M581.84 283.25L595.84 283.25L588.84 294.25Z"/><path d="M583.92 283.34L597.92 283.34L590.92 294.34Z"/><path d="M586 283.45L600 283.45L593 294.45Z"/><path d="M588.08 283.58L602.08 283.58L595.08 294.58Z"/><path d="M590.17 283.71L604.17 283.71L597.17 294.71Z"/><path d="M592.25 283.85L606.25 283.85L599.25 294.85Z"/><path d="M594.33 284L608.33 284L601.33 295Z"/><path d="M596.41 284.16L610.41 284.16L603.41 295.16Z"/><path d="M598.49 284.31L612.49 284.31L605.49 295.31Z"/><path d="M600.57 284.47L614.57 284.47L607.57 295.47Z"/><path d="M602.66 284.63L616.66 284.63L609.66 295.63Z"/><path d="M604.74 284.81L618.74 284.81L611.74 295.81Z"/><path d="M606.82 284.99L620.82 284.99L613.82 295.99Z"/><path d="M608.9 285.18L622.9 285.18L615.9 296.18Z"/><path d="M610.98 285.35L624.98 285.35L617.98 296.35Z"/><path d="M613.06 285.5L627.06 285.5L620.06 296.5Z"/><path d="M615.14 285.63L629.14 285.63L622.14 296.63Z"/><path d="M617.23 285.73L631.23 285.73L624.23 296.73Z"/><path d="M619.31 285.83L633.31 285.83L626.31 296.83Z"/><path d="M621.39 285.96L635.39 285.96L628.39 296.96Z"/><path d="M623.47 286.15L637.47 286.15L630.47 297.15Z"/><path d="M625.55 286.5L639.55 286.5L632.55 297.5Z"/><path d="M627.63 286.99L641.63 286.99L634.63 297.99Z"/><path d="M629.72 287.57L643.72 287.57L636.72 298.57Z"/><path d="M631.8 288.17L645.8 288.17L638.8 299.17Z"/><path d="M633.88 288.74L647.88 288.74L640.88 299.74Z"/><path d="M635.96 289.35L649.96 289.35L642.96 300.35Z"/><path d="M638.04 289.99L652.04 289.99L645.04 300.99Z"/><path d="M640.12 290.63L654.12 290.63L647.12 301.63Z"/><path d="M642.21 291.26L656.21 291.26L649.21 302.26Z"/><path d="M644.29 291.89L658.29 291.89L651.29 302.89Z"/><path d="M646.37 292.52L660.37 292.52L653.37 303.52Z"/></g>
<path d="M83.3 105.5 L85.3 46 L88.5 100 L89.6 89.36 L91.68 90.76 L93.76 92.66 L95.84 95.17 L97.93 97.98 L100.01 101.19 L102.09 104.28 L104.17 107.48 L106.25 111.64 L108.33 115.59 L110.42 118.65 L112.5 121.7 L114.58 125.09 L116.66 128.88 L118.74 133.04 L120.82 136.88 L122.91 140.64 L124.99 144.35 L127.07 147.62 L129.15 150.49 L131.23 152.83 L133.31 154.87 L135.4 156.72 L137.48 158.45 L139.56 160.14 L141.64 161.81 L143.72 163.39 L145.8 164.92 L147.88 166.44 L149.97 167.97 L152.05 169.52 L154.13 171.04 L156.21 172.57 L158.29 174.15 L160.37 175.81 L162.46 177.61 L164.54 179.49 L166.62 181.34 L168.7 183.05 L170.78 184.59 L172.86 186.03 L174.95 187.52 L177.03 189.15 L179.11 191.08 L181.19 193.39 L183.27 195.87 L185.35 198.3 L187.44 200.5 L189.52 202.63 L191.6 204.7 L193.68 206.73 L195.76 208.74 L197.84 210.79 L199.92 212.78 L202.01 214.55 L204.09 216.06 L206.17 217.49 L208.25 218.85 L210.33 220.13 L212.41 221.33 L214.5 222.44 L216.58 223.45 L218.66 224.37 L220.74 225.18 L222.82 225.93 L224.9 226.63 L226.99 227.3 L229.07 227.92 L231.15 228.51 L233.23 229.07 L235.31 229.61 L237.39 230.12 L239.48 230.62 L241.56 231.1 L243.64 231.58 L245.72 232.05 L247.8 232.51 L249.88 232.96 L251.96 233.39 L254.05 233.8 L256.13 234.2 L258.21 234.59 L260.29 234.98 L262.37 235.35 L264.45 235.72 L266.54 236.09 L268.62 236.46 L270.7 236.82 L272.78 237.19 L274.86 237.57 L276.94 237.94 L279.03 238.31 L281.11 238.68 L283.19 239.04 L285.27 239.4 L287.35 239.75 L289.43 240.09 L291.52 240.41 L293.6 240.73 L295.68 241.03 L297.76 241.31 L299.84 241.58 L301.92 241.83 L304 242.07 L306.09 242.31 L308.17 242.53 L310.25 242.75 L312.33 242.97 L314.41 243.17 L316.49 243.37 L318.58 243.57 L320.66 243.76 L322.74 243.95 L324.82 244.13 L326.9 244.31 L328.98 244.49 L331.07 244.66 L333.15 244.84 L335.23 245.01 L337.31 245.19 L339.39 245.36 L341.47 245.53 L343.56 245.71 L345.64 245.89 L347.72 246.07 L349.8 246.25 L351.88 246.43 L353.96 246.62 L356.04 246.82 L358.13 247.02 L360.21 247.22 L362.29 247.43 L364.37 247.66 L366.45 247.89 L368.53 248.13 L370.62 248.37 L372.7 248.62 L374.78 248.87 L376.86 249.12 L378.94 249.37 L381.02 249.61 L383.11 249.85 L385.19 250.09 L387.27 250.31 L389.35 250.53 L391.43 250.73 L393.51 250.92 L395.6 251.09 L397.68 251.25 L399.76 251.39 L401.84 251.5 L403.92 251.61 L406 251.71 L408.08 251.79 L410.17 251.88 L412.25 251.96 L414.33 252.04 L416.41 252.13 L418.49 252.22 L420.57 252.33 L422.66 252.46 L424.74 252.6 L426.82 252.76 L428.9 252.93 L430.98 253.1 L433.06 253.29 L435.15 253.48 L437.23 253.67 L439.31 253.85 L441.39 254.04 L443.47 254.21 L445.55 254.37 L447.64 254.53 L449.72 254.66 L451.8 254.78 L453.88 254.87 L455.96 254.94 L458.04 254.99 L460.12 255 L462.21 255 L464.29 255 L466.37 254.99 L468.45 254.98 L470.53 254.98 L472.61 254.97 L474.7 254.96 L476.78 254.95 L478.86 254.93 L480.94 254.92 L483.02 254.91 L485.1 254.9 L487.19 254.88 L489.27 254.87 L491.35 254.85 L493.43 254.84 L495.51 254.83 L497.59 254.81 L499.68 254.8 L501.76 254.79 L503.84 254.78 L505.92 254.76 L508 254.75 L510.08 254.73 L512.16 254.71 L514.25 254.7 L516.33 254.68 L518.41 254.66 L520.49 254.64 L522.57 254.62 L524.65 254.61 L526.74 254.59 L528.82 254.58 L530.9 254.56 L532.98 254.55 L535.06 254.54 L537.14 254.52 L539.23 254.52 L541.31 254.51 L543.39 254.5 L545.47 254.5 L547.55 254.5 L549.63 254.5 L551.72 254.51 L553.8 254.52 L555.88 254.53 L557.96 254.55 L560.04 254.57 L562.12 254.59 L564.2 254.61 L566.29 254.64 L568.37 254.66 L570.45 254.69 L572.53 254.72 L574.61 254.75 L576.69 254.78 L578.78 254.81 L580.86 254.84 L582.94 254.87 L585.02 254.9 L587.1 254.93 L589.18 254.95 L591.27 254.98 L593.35 255 L595.43 255.02 L597.51 255.04 L599.59 255.06 L601.67 255.08 L603.76 255.1 L605.84 255.11 L607.92 255.13 L610 255.15 L612.08 255.18 L614.16 255.2 L616.24 255.23 L618.33 255.27 L620.41 255.31 L622.49 255.37 L624.57 255.47 L626.65 255.59 L628.73 255.73 L630.82 255.88 L632.9 256.04 L634.98 256.2 L637.06 256.36 L639.14 256.55 L641.22 256.74 L643.31 256.95 L645.39 257.17 L647.47 257.41 L649.55 257.66 L651.63 257.92 L653.71 258.19" fill="none" stroke="#ff00ff" stroke-width="1.0" stroke-linejoin="round"/>
<g fill="#ff00ff"><path d="M77.3 105.5L89.3 99L89.3 112Z"/><path d="M79.3 46L91.3 39.5L91.3 52.5Z"/><path d="M82.5 100L94.5 93.5L94.5 106.5Z"/><path d="M83.6 89.36L95.6 82.86L95.6 95.86Z"/><path d="M85.68 90.76L97.68 84.26L97.68 97.26Z"/><path d="M87.76 92.66L99.76 86.16L99.76 99.16Z"/><path d="M89.84 95.17L101.84 88.67L101.84 101.67Z"/><path d="M91.93 97.98L103.93 91.48L103.93 104.48Z"/><path d="M94.01 101.19L106.01 94.69L106.01 107.69Z"/><path d="M96.09 104.28L108.09 97.78L108.09 110.78Z"/><path d="M98.17 107.48L110.17 100.98L110.17 113.98Z"/><path d="M100.25 111.64L112.25 105.14L112.25 118.14Z"/><path d="M102.33 115.59L114.33 109.09L114.33 122.09Z"/><path d="M104.42 118.65L116.42 112.15L116.42 125.15Z"/><path d="M106.5 121.7L118.5 115.2L118.5 128.2Z"/><path d="M108.58 125.09L120.58 118.59L120.58 131.59Z"/><path d="M110.66 128.88L122.66 122.38L122.66 135.38Z"/><path d="M112.74 133.04L124.74 126.54L124.74 139.54Z"/><path d="M114.82 136.88L126.82 130.38L126.82 143.38Z"/><path d="M116.91 140.64L128.91 134.14L128.91 147.14Z"/><path d="M118.99 144.35L130.99 137.85L130.99 150.85Z"/><path d="M121.07 147.62L133.07 141.12L133.07 154.12Z"/><path d="M123.15 150.49L135.15 143.99L135.15 156.99Z"/><path d="M125.23 152.83L137.23 146.33L137.23 159.33Z"/><path d="M127.31 154.87L139.31 148.37L139.31 161.37Z"/><path d="M129.4 156.72L141.4 150.22L141.4 163.22Z"/><path d="M131.48 158.45L143.48 151.95L143.48 164.95Z"/><path d="M133.56 160.14L145.56 153.64L145.56 166.64Z"/><path d="M135.64 161.81L147.64 155.31L147.64 168.31Z"/><path d="M137.72 163.39L149.72 156.89L149.72 169.89Z"/><path d="M139.8 164.92L151.8 158.42L151.8 171.42Z"/><path d="M141.88 166.44L153.88 159.94L153.88 172.94Z"/><path d="M143.97 167.97L155.97 161.47L155.97 174.47Z"/><path d="M146.05 169.52L158.05 163.02L158.05 176.02Z"/><path d="M148.13 171.04L160.13 164.54L160.13 177.54Z"/><path d="M150.21 172.57L162.21 166.07L162.21 179.07Z"/><path d="M152.29 174.15L164.29 167.65L164.29 180.65Z"/><path d="M154.37 175.81L166.37 169.31L166.37 182.31Z"/><path d="M156.46 177.61L168.46 171.11L168.46 184.11Z"/><path d="M158.54 179.49L170.54 172.99L170.54 185.99Z"/><path d="M160.62 181.34L172.62 174.84L172.62 187.84Z"/><path d="M162.7 183.05L174.7 176.55L174.7 189.55Z"/><path d="M164.78 184.59L176.78 178.09L176.78 191.09Z"/><path d="M166.86 186.03L178.86 179.53L178.86 192.53Z"/><path d="M168.95 187.52L180.95 181.02L180.95 194.02Z"/><path d="M171.03 189.15L183.03 182.65L183.03 195.65Z"/><path d="M173.11 191.08L185.11 184.58L185.11 197.58Z"/><path d="M175.19 193.39L187.19 186.89L187.19 199.89Z"/><path d="M177.27 195.87L189.27 189.37L189.27 202.37Z"/><path d="M179.35 198.3L191.35 191.8L191.35 204.8Z"/><path d="M181.44 200.5L193.44 194L193.44 207Z"/><path d="M183.52 202.63L195.52 196.13L195.52 209.13Z"/><path d="M185.6 204.7L197.6 198.2L197.6 211.2Z"/><path d="M187.68 206.73L199.68 200.23L199.68 213.23Z"/><path d="M189.76 208.74L201.76 202.24L201.76 215.24Z"/><path d="M191.84 210.79L203.84 204.29L203.84 217.29Z"/><path d="M193.92 212.78L205.92 206.28L205.92 219.28Z"/><path d="M196.01 214.55L208.01 208.05L208.01 221.05Z"/><path d="M198.09 216.06L210.09 209.56L210.09 222.56Z"/><path d="M200.17 217.49L212.17 210.99L212.17 223.99Z"/><path d="M202.25 218.85L214.25 212.35L214.25 225.35Z"/><path d="M204.33 220.13L216.33 213.63L216.33 226.63Z"/><path d="M206.41 221.33L218.41 214.83L218.41 227.83Z"/><path d="M208.5 222.44L220.5 215.94L220.5 228.94Z"/><path d="M210.58 223.45L222.58 216.95L222.58 229.95Z"/><path d="M212.66 224.37L224.66 217.87L224.66 230.87Z"/><path d="M214.74 225.18L226.74 218.68L226.74 231.68Z"/><path d="M216.82 225.93L228.82 219.43L228.82 232.43Z"/><path d="M218.9 226.63L230.9 220.13L230.9 233.13Z"/><path d="M220.99 227.3L232.99 220.8L232.99 233.8Z"/><path d="M223.07 227.92L235.07 221.42L235.07 234.42Z"/><path d="M225.15 228.51L237.15 222.01L237.15 235.01Z"/><path d="M227.23 229.07L239.23 222.57L239.23 235.57Z"/><path d="M229.31 229.61L241.31 223.11L241.31 236.11Z"/><path d="M231.39 230.12L243.39 223.62L243.39 236.62Z"/><path d="M233.48 230.62L245.48 224.12L245.48 237.12Z"/><path d="M235.56 231.1L247.56 224.6L247.56 237.6Z"/><path d="M237.64 231.58L249.64 225.08L249.64 238.08Z"/><path d="M239.72 232.05L251.72 225.55L251.72 238.55Z"/><path d="M241.8 232.51L253.8 226.01L253.8 239.01Z"/><path d="M243.88 232.96L255.88 226.46L255.88 239.46Z"/><path d="M245.96 233.39L257.96 226.89L257.96 239.89Z"/><path d="M248.05 233.8L260.05 227.3L260.05 240.3Z"/><path d="M250.13 234.2L262.13 227.7L262.13 240.7Z"/><path d="M252.21 234.59L264.21 228.09L264.21 241.09Z"/><path d="M254.29 234.98L266.29 228.48L266.29 241.48Z"/><path d="M256.37 235.35L268.37 228.85L268.37 241.85Z"/><path d="M258.45 235.72L270.45 229.22L270.45 242.22Z"/><path d="M260.54 236.09L272.54 229.59L272.54 242.59Z"/><path d="M262.62 236.46L274.62 229.96L274.62 242.96Z"/><path d="M264.7 236.82L276.7 230.32L276.7 243.32Z"/><path d="M266.78 237.19L278.78 230.69L278.78 243.69Z"/><path d="M268.86 237.57L280.86 231.07L280.86 244.07Z"/><path d="M270.94 237.94L282.94 231.44L282.94 244.44Z"/><path d="M273.03 238.31L285.03 231.81L285.03 244.81Z"/><path d="M275.11 238.68L287.11 232.18L287.11 245.18Z"/><path d="M277.19 239.04L289.19 232.54L289.19 245.54Z"/><path d="M279.27 239.4L291.27 232.9L291.27 245.9Z"/><path d="M281.35 239.75L293.35 233.25L293.35 246.25Z"/><path d="M283.43 240.09L295.43 233.59L295.43 246.59Z"/><path d="M285.52 240.41L297.52 233.91L297.52 246.91Z"/><path d="M287.6 240.73L299.6 234.23L299.6 247.23Z"/><path d="M289.68 241.03L301.68 234.53L301.68 247.53Z"/><path d="M291.76 241.31L303.76 234.81L303.76 247.81Z"/><path d="M293.84 241.58L305.84 235.08L305.84 248.08Z"/><path d="M295.92 241.83L307.92 235.33L307.92 248.33Z"/><path d="M298 242.07L310 235.57L310 248.57Z"/><path d="M300.09 242.31L312.09 235.81L312.09 248.81Z"/><path d="M302.17 242.53L314.17 236.03L314.17 249.03Z"/><path d="M304.25 242.75L316.25 236.25L316.25 249.25Z"/><path d="M306.33 242.97L318.33 236.47L318.33 249.47Z"/><path d="M308.41 243.17L320.41 236.67L320.41 249.67Z"/><path d="M310.49 243.37L322.49 236.87L322.49 249.87Z"/><path d="M312.58 243.57L324.58 237.07L324.58 250.07Z"/><path d="M314.66 243.76L326.66 237.26L326.66 250.26Z"/><path d="M316.74 243.95L328.74 237.45L328.74 250.45Z"/><path d="M318.82 244.13L330.82 237.63L330.82 250.63Z"/><path d="M320.9 244.31L332.9 237.81L332.9 250.81Z"/><path d="M322.98 244.49L334.98 237.99L334.98 250.99Z"/><path d="M325.07 244.66L337.07 238.16L337.07 251.16Z"/><path d="M327.15 244.84L339.15 238.34L339.15 251.34Z"/><path d="M329.23 245.01L341.23 238.51L341.23 251.51Z"/><path d="M331.31 245.19L343.31 238.69L343.31 251.69Z"/><path d="M333.39 245.36L345.39 238.86L345.39 251.86Z"/><path d="M335.47 245.53L347.47 239.03L347.47 252.03Z"/><path d="M337.56 245.71L349.56 239.21L349.56 252.21Z"/><path d="M339.64 245.89L351.64 239.39L351.64 252.39Z"/><path d="M341.72 246.07L353.72 239.57L353.72 252.57Z"/><path d="M343.8 246.25L355.8 239.75L355.8 252.75Z"/><path d="M345.88 246.43L357.88 239.93L357.88 252.93Z"/><path d="M347.96 246.62L359.96 240.12L359.96 253.12Z"/><path d="M350.04 246.82L362.04 240.32L362.04 253.32Z"/><path d="M352.13 247.02L364.13 240.52L364.13 253.52Z"/><path d="M354.21 247.22L366.21 240.72L366.21 253.72Z"/><path d="M356.29 247.43L368.29 240.93L368.29 253.93Z"/><path d="M358.37 247.66L370.37 241.16L370.37 254.16Z"/><path d="M360.45 247.89L372.45 241.39L372.45 254.39Z"/><path d="M362.53 248.13L374.53 241.63L374.53 254.63Z"/><path d="M364.62 248.37L376.62 241.87L376.62 254.87Z"/><path d="M366.7 248.62L378.7 242.12L378.7 255.12Z"/><path d="M368.78 248.87L380.78 242.37L380.78 255.37Z"/><path d="M370.86 249.12L382.86 242.62L382.86 255.62Z"/><path d="M372.94 249.37L384.94 242.87L384.94 255.87Z"/><path d="M375.02 249.61L387.02 243.11L387.02 256.11Z"/><path d="M377.11 249.85L389.11 243.35L389.11 256.35Z"/><path d="M379.19 250.09L391.19 243.59L391.19 256.59Z"/><path d="M381.27 250.31L393.27 243.81L393.27 256.81Z"/><path d="M383.35 250.53L395.35 244.03L395.35 257.03Z"/><path d="M385.43 250.73L397.43 244.23L397.43 257.23Z"/><path d="M387.51 250.92L399.51 244.42L399.51 257.42Z"/><path d="M389.6 251.09L401.6 244.59L401.6 257.59Z"/><path d="M391.68 251.25L403.68 244.75L403.68 257.75Z"/><path d="M393.76 251.39L405.76 244.89L405.76 257.89Z"/><path d="M395.84 251.5L407.84 245L407.84 258Z"/><path d="M397.92 251.61L409.92 245.11L409.92 258.11Z"/><path d="M400 251.71L412 245.21L412 258.21Z"/><path d="M402.08 251.79L414.08 245.29L414.08 258.29Z"/><path d="M404.17 251.88L416.17 245.38L416.17 258.38Z"/><path d="M406.25 251.96L418.25 245.46L418.25 258.46Z"/><path d="M408.33 252.04L420.33 245.54L420.33 258.54Z"/><path d="M410.41 252.13L422.41 245.63L422.41 258.63Z"/><path d="M412.49 252.22L424.49 245.72L424.49 258.72Z"/><path d="M414.57 252.33L426.57 245.83L426.57 258.83Z"/><path d="M416.66 252.46L428.66 245.96L428.66 258.96Z"/><path d="M418.74 252.6L430.74 246.1L430.74 259.1Z"/><path d="M420.82 252.76L432.82 246.26L432.82 259.26Z"/><path d="M422.9 252.93L434.9 246.43L434.9 259.43Z"/><path d="M424.98 253.1L436.98 246.6L436.98 259.6Z"/><path d="M427.06 253.29L439.06 246.79L439.06 259.79Z"/><path d="M429.15 253.48L441.15 246.98L441.15 259.98Z"/><path d="M431.23 253.67L443.23 247.17L443.23 260.17Z"/><path d="M433.31 253.85L445.31 247.35L445.31 260.35Z"/><path d="M435.39 254.04L447.39 247.54L447.39 260.54Z"/><path d="M437.47 254.21L449.47 247.71L449.47 260.71Z"/><path d="M439.55 254.37L451.55 247.87L451.55 260.87Z"/><path d="M441.64 254.53L453.64 248.03L453.64 261.03Z"/><path d="M443.72 254.66L455.72 248.16L455.72 261.16Z"/><path d="M445.8 254.78L457.8 248.28L457.8 261.28Z"/><path d="M447.88 254.87L459.88 248.37L459.88 261.37Z"/><path d="M449.96 254.94L461.96 248.44L461.96 261.44Z"/><path d="M452.04 254.99L464.04 248.49L464.04 261.49Z"/><path d="M454.12 255L466.12 248.5L466.12 261.5Z"/><path d="M456.21 255L468.21 248.5L468.21 261.5Z"/><path d="M458.29 255L470.29 248.5L470.29 261.5Z"/><path d="M460.37 254.99L472.37 248.49L472.37 261.49Z"/><path d="M462.45 254.98L474.45 248.48L474.45 261.48Z"/><path d="M464.53 254.98L476.53 248.48L476.53 261.48Z"/><path d="M466.61 254.97L478.61 248.47L478.61 261.47Z"/><path d="M468.7 254.96L480.7 248.46L480.7 261.46Z"/><path d="M470.78 254.95L482.78 248.45L482.78 261.45Z"/><path d="M472.86 254.93L484.86 248.43L484.86 261.43Z"/><path d="M474.94 254.92L486.94 248.42L486.94 261.42Z"/><path d="M477.02 254.91L489.02 248.41L489.02 261.41Z"/><path d="M479.1 254.9L491.1 248.4L491.1 261.4Z"/><path d="M481.19 254.88L493.19 248.38L493.19 261.38Z"/><path d="M483.27 254.87L495.27 248.37L495.27 261.37Z"/><path d="M485.35 254.85L497.35 248.35L497.35 261.35Z"/><path d="M487.43 254.84L499.43 248.34L499.43 261.34Z"/><path d="M489.51 254.83L501.51 248.33L501.51 261.33Z"/><path d="M491.59 254.81L503.59 248.31L503.59 261.31Z"/><path d="M493.68 254.8L505.68 248.3L505.68 261.3Z"/><path d="M495.76 254.79L507.76 248.29L507.76 261.29Z"/><path d="M497.84 254.78L509.84 248.28L509.84 261.28Z"/><path d="M499.92 254.76L511.92 248.26L511.92 261.26Z"/><path d="M502 254.75L514 248.25L514 261.25Z"/><path d="M504.08 254.73L516.08 248.23L516.08 261.23Z"/><path d="M506.16 254.71L518.16 248.21L518.16 261.21Z"/><path d="M508.25 254.7L520.25 248.2L520.25 261.2Z"/><path d="M510.33 254.68L522.33 248.18L522.33 261.18Z"/><path d="M512.41 254.66L524.41 248.16L524.41 261.16Z"/><path d="M514.49 254.64L526.49 248.14L526.49 261.14Z"/><path d="M516.57 254.62L528.57 248.12L528.57 261.12Z"/><path d="M518.65 254.61L530.65 248.11L530.65 261.11Z"/><path d="M520.74 254.59L532.74 248.09L532.74 261.09Z"/><path d="M522.82 254.58L534.82 248.08L534.82 261.08Z"/><path d="M524.9 254.56L536.9 248.06L536.9 261.06Z"/><path d="M526.98 254.55L538.98 248.05L538.98 261.05Z"/><path d="M529.06 254.54L541.06 248.04L541.06 261.04Z"/><path d="M531.14 254.52L543.14 248.02L543.14 261.02Z"/><path d="M533.23 254.52L545.23 248.02L545.23 261.02Z"/><path d="M535.31 254.51L547.31 248.01L547.31 261.01Z"/><path d="M537.39 254.5L549.39 248L549.39 261Z"/><path d="M539.47 254.5L551.47 248L551.47 261Z"/><path d="M541.55 254.5L553.55 248L553.55 261Z"/><path d="M543.63 254.5L555.63 248L555.63 261Z"/><path d="M545.72 254.51L557.72 248.01L557.72 261.01Z"/><path d="M547.8 254.52L559.8 248.02L559.8 261.02Z"/><path d="M549.88 254.53L561.88 248.03L561.88 261.03Z"/><path d="M551.96 254.55L563.96 248.05L563.96 261.05Z"/><path d="M554.04 254.57L566.04 248.07L566.04 261.07Z"/><path d="M556.12 254.59L568.12 248.09L568.12 261.09Z"/><path d="M558.2 254.61L570.2 248.11L570.2 261.11Z"/><path d="M560.29 254.64L572.29 248.14L572.29 261.14Z"/><path d="M562.37 254.66L574.37 248.16L574.37 261.16Z"/><path d="M564.45 254.69L576.45 248.19L576.45 261.19Z"/><path d="M566.53 254.72L578.53 248.22L578.53 261.22Z"/><path d="M568.61 254.75L580.61 248.25L580.61 261.25Z"/><path d="M570.69 254.78L582.69 248.28L582.69 261.28Z"/><path d="M572.78 254.81L584.78 248.31L584.78 261.31Z"/><path d="M574.86 254.84L586.86 248.34L586.86 261.34Z"/><path d="M576.94 254.87L588.94 248.37L588.94 261.37Z"/><path d="M579.02 254.9L591.02 248.4L591.02 261.4Z"/><path d="M581.1 254.93L593.1 248.43L593.1 261.43Z"/><path d="M583.18 254.95L595.18 248.45L595.18 261.45Z"/><path d="M585.27 254.98L597.27 248.48L597.27 261.48Z"/><path d="M587.35 255L599.35 248.5L599.35 261.5Z"/><path d="M589.43 255.02L601.43 248.52L601.43 261.52Z"/><path d="M591.51 255.04L603.51 248.54L603.51 261.54Z"/><path d="M593.59 255.06L605.59 248.56L605.59 261.56Z"/><path d="M595.67 255.08L607.67 248.58L607.67 261.58Z"/><path d="M597.76 255.1L609.76 248.6L609.76 261.6Z"/><path d="M599.84 255.11L611.84 248.61L611.84 261.61Z"/><path d="M601.92 255.13L613.92 248.63L613.92 261.63Z"/><path d="M604 255.15L616 248.65L616 261.65Z"/><path d="M606.08 255.18L618.08 248.68L618.08 261.68Z"/><path d="M608.16 255.2L620.16 248.7L620.16 261.7Z"/><path d="M610.24 255.23L622.24 248.73L622.24 261.73Z"/><path d="M612.33 255.27L624.33 248.77L624.33 261.77Z"/><path d="M614.41 255.31L626.41 248.81L626.41 261.81Z"/><path d="M616.49 255.37L628.49 248.87L628.49 261.87Z"/><path d="M618.57 255.47L630.57 248.97L630.57 261.97Z"/><path d="M620.65 255.59L632.65 249.09L632.65 262.09Z"/><path d="M622.73 255.73L634.73 249.23L634.73 262.23Z"/><path d="M624.82 255.88L636.82 249.38L636.82 262.38Z"/><path d="M626.9 256.04L638.9 249.54L638.9 262.54Z"/><path d="M628.98 256.2L640.98 249.7L640.98 262.7Z"/><path d="M631.06 256.36L643.06 249.86L643.06 262.86Z"/><path d="M633.14 256.55L645.14 250.05L645.14 263.05Z"/><path d="M635.22 256.74L647.22 250.24L647.22 263.24Z"/><path d="M637.31 256.95L649.31 250.45L649.31 263.45Z"/><path d="M639.39 257.17L651.39 250.67L651.39 263.67Z"/><path d="M641.47 257.41L653.47 250.91L653.47 263.91Z"/><path d="M643.55 257.66L655.55 251.16L655.55 264.16Z"/><path d="M645.63 257.92L657.63 251.42L657.63 264.42Z"/><path d="M647.71 258.19L659.71 251.69L659.71 264.69Z"/></g>
</g>
<path d="M73.0 0.8H655.3V434.0H73.0Z" fill="none" stroke="#000" stroke-width="1.8"/>
<path d="M73.0 434H63.8M655.3 434H646.0999999999999M73.0 397.9H68.4M655.3 397.9H650.6999999999999M73.0 361.8H63.8M655.3 361.8H646.0999999999999M73.0 325.7H68.4M655.3 325.7H650.6999999999999M73.0 289.6H63.8M655.3 289.6H646.0999999999999M73.0 253.5H68.4M655.3 253.5H650.6999999999999M73.0 217.4H63.8M655.3 217.4H646.0999999999999M73.0 181.3H68.4M655.3 181.3H650.6999999999999M73.0 145.2H63.8M655.3 145.2H646.0999999999999M73.0 109.1H68.4M655.3 109.1H650.6999999999999M73.0 73H63.8M655.3 73H646.0999999999999M73.0 36.9H68.4M655.3 36.9H650.6999999999999M73.0 0.8H63.8M655.3 0.8H646.0999999999999M114.23 434.0V442M114.23 0.8V8.8M166.27 434.0V438.3M166.27 0.8V5.1M218.31 434.0V442M218.31 0.8V8.8M270.35 434.0V438.3M270.35 0.8V5.1M322.39 434.0V442M322.39 0.8V8.8M374.43 434.0V438.3M374.43 0.8V5.1M426.47 434.0V442M426.47 0.8V8.8M478.51 434.0V438.3M478.51 0.8V5.1M530.55 434.0V442M530.55 0.8V8.8M582.59 434.0V438.3M582.59 0.8V5.1M634.63 434.0V442M634.63 0.8V8.8" stroke="#000" stroke-width="1.8" fill="none"/>
<g clip-path="url(#cb)"><path d="M85.8 559 L83.2 594 L89.4 538 L89.4 618.6 L91.64 638.83 L93.88 660.67 L96.12 685.38 L98.36 714.17 L100.6 744.54 L102.84 774.82 L105.09 802.5 L107.33 817.09 L109.57 827.46 L111.81 838.66 L114.05 848.38 L116.29 856.84 L118.53 864.39 L120.77 871.39 L123.01 877.52 L125.25 882.42 L127.49 886.5 L129.73 890.09 L131.98 893.45 L134.22 896.57 L136.46 899.35 L138.7 901.68 L140.94 903.66 L143.18 905.43 L145.42 907.05 L147.66 908.61 L149.9 910.15 L152.14 911.61 L154.38 912.94 L156.62 914.1 L158.86 915.1 L161.11 916 L163.35 916.86 L165.59 917.74 L167.83 918.66 L170.07 919.6 L172.31 920.51 L174.55 921.37 L176.79 922.14 L179.03 922.79 L181.27 923.37 L183.51 923.91 L185.75 924.41 L188 924.89 L190.24 925.34 L192.48 925.78 L194.72 926.22 L196.96 926.67 L199.2 927.13 L201.44 927.61 L203.68 928.1 L205.92 928.59 L208.16 929.08 L210.4 929.56 L212.64 930.04 L214.88 930.52 L217.13 931 L219.37 931.46 L221.61 931.92 L223.85 932.38 L226.09 932.82 L228.33 933.26 L230.57 933.7 L232.81 934.13 L235.05 934.56 L237.29 934.99 L239.53 935.41 L241.77 935.84 L244.02 936.28 L246.26 936.72 L248.5 937.17 L250.74 937.61 L252.98 938.04 L255.22 938.44 L257.46 938.83 L259.7 939.18 L261.94 939.49 L264.18 939.78 L266.42 940.06 L268.66 940.33 L270.9 940.59 L273.15 940.84 L275.39 941.08 L277.63 941.31 L279.87 941.54 L282.11 941.75 L284.35 941.96 L286.59 942.16 L288.83 942.35 L291.07 942.54 L293.31 942.71 L295.55 942.88 L297.79 943.05 L300.04 943.2 L302.28 943.35 L304.52 943.49 L306.76 943.62 L309 943.75 L311.24 943.87 L313.48 943.99 L315.72 944.1 L317.96 944.21 L320.2 944.32 L322.44 944.43 L324.68 944.54 L326.92 944.65 L329.17 944.76 L331.41 944.87 L333.65 944.97 L335.89 945.08 L338.13 945.19 L340.37 945.3 L342.61 945.41 L344.85 945.51 L347.09 945.62 L349.33 945.72 L351.57 945.82 L353.81 945.93 L356.06 946.03 L358.3 946.13 L360.54 946.22 L362.78 946.32 L365.02 946.42 L367.26 946.51 L369.5 946.6 L371.74 946.69 L373.98 946.78 L376.22 946.86 L378.46 946.94 L380.7 947.03 L382.94 947.11 L385.19 947.19 L387.43 947.27 L389.67 947.35 L391.91 947.44 L394.15 947.52 L396.39 947.6 L398.63 947.69 L400.87 947.77 L403.11 947.85 L405.35 947.93 L407.59 948 L409.83 948.08 L412.08 948.15 L414.32 948.22 L416.56 948.29 L418.8 948.36 L421.04 948.42 L423.28 948.48 L425.52 948.54 L427.76 948.59 L430 948.64 L432.24 948.68 L434.48 948.72 L436.72 948.76 L438.96 948.79 L441.21 948.81 L443.45 948.84 L445.69 948.86 L447.93 948.89 L450.17 948.91 L452.41 948.93 L454.65 948.95 L456.89 948.97 L459.13 948.99 L461.37 949.01 L463.61 949.03 L465.85 949.05 L468.1 949.07 L470.34 949.09 L472.58 949.11 L474.82 949.13 L477.06 949.14 L479.3 949.16 L481.54 949.18 L483.78 949.19 L486.02 949.21 L488.26 949.22 L490.5 949.24 L492.74 949.25 L494.98 949.26 L497.23 949.28 L499.47 949.29 L501.71 949.3 L503.95 949.31 L506.19 949.33 L508.43 949.34 L510.67 949.35 L512.91 949.36 L515.15 949.37 L517.39 949.38 L519.63 949.39 L521.87 949.4 L524.12 949.41 L526.36 949.42 L528.6 949.43 L530.84 949.44 L533.08 949.44 L535.32 949.45 L537.56 949.46 L539.8 949.47 L542.04 949.48 L544.28 949.48 L546.52 949.49 L548.76 949.5 L551 949.5 L553.25 949.51 L555.49 949.52 L557.73 949.52 L559.97 949.53 L562.21 949.54 L564.45 949.54 L566.69 949.55 L568.93 949.55 L571.17 949.56 L573.41 949.57 L575.65 949.57 L577.89 949.58 L580.14 949.58 L582.38 949.59 L584.62 949.6 L586.86 949.6 L589.1 949.61 L591.34 949.61 L593.58 949.62 L595.82 949.62 L598.06 949.63 L600.3 949.63 L602.54 949.64 L604.78 949.64 L607.02 949.65 L609.27 949.65 L611.51 949.66 L613.75 949.66 L615.99 949.66 L618.23 949.67 L620.47 949.67 L622.71 949.67 L624.95 949.68 L627.19 949.68 L629.43 949.68 L631.67 949.69 L633.91 949.69 L636.16 949.69 L638.4 949.69 L640.64 949.69 L642.88 949.7 L645.12 949.7 L647.36 949.7 L649.6 949.7 L651.84 949.7 L654.08 949.7" fill="none" stroke="#333" stroke-width="1.1" stroke-linejoin="round"/>
<g fill="#000000"><rect x="82.9" y="556.1" width="5.8" height="5.8"/><rect x="80.3" y="591.1" width="5.8" height="5.8"/><rect x="86.5" y="535.1" width="5.8" height="5.8"/><rect x="86.5" y="615.7" width="5.8" height="5.8"/><rect x="88.74" y="635.93" width="5.8" height="5.8"/><rect x="90.98" y="657.77" width="5.8" height="5.8"/><rect x="93.22" y="682.48" width="5.8" height="5.8"/><rect x="95.46" y="711.27" width="5.8" height="5.8"/><rect x="97.7" y="741.64" width="5.8" height="5.8"/><rect x="99.94" y="771.92" width="5.8" height="5.8"/><rect x="102.19" y="799.6" width="5.8" height="5.8"/><rect x="104.43" y="814.19" width="5.8" height="5.8"/><rect x="106.67" y="824.56" width="5.8" height="5.8"/><rect x="108.91" y="835.76" width="5.8" height="5.8"/><rect x="111.15" y="845.48" width="5.8" height="5.8"/><rect x="113.39" y="853.94" width="5.8" height="5.8"/><rect x="115.63" y="861.49" width="5.8" height="5.8"/><rect x="117.87" y="868.49" width="5.8" height="5.8"/><rect x="120.11" y="874.62" width="5.8" height="5.8"/><rect x="122.35" y="879.52" width="5.8" height="5.8"/><rect x="124.59" y="883.6" width="5.8" height="5.8"/><rect x="126.83" y="887.19" width="5.8" height="5.8"/><rect x="129.08" y="890.55" width="5.8" height="5.8"/><rect x="131.32" y="893.67" width="5.8" height="5.8"/><rect x="133.56" y="896.45" width="5.8" height="5.8"/><rect x="135.8" y="898.78" width="5.8" height="5.8"/><rect x="138.04" y="900.76" width="5.8" height="5.8"/><rect x="140.28" y="902.53" width="5.8" height="5.8"/><rect x="142.52" y="904.15" width="5.8" height="5.8"/><rect x="144.76" y="905.71" width="5.8" height="5.8"/><rect x="147" y="907.25" width="5.8" height="5.8"/><rect x="149.24" y="908.71" width="5.8" height="5.8"/><rect x="151.48" y="910.04" width="5.8" height="5.8"/><rect x="153.72" y="911.2" width="5.8" height="5.8"/><rect x="155.96" y="912.2" width="5.8" height="5.8"/><rect x="158.21" y="913.1" width="5.8" height="5.8"/><rect x="160.45" y="913.96" width="5.8" height="5.8"/><rect x="162.69" y="914.84" width="5.8" height="5.8"/><rect x="164.93" y="915.76" width="5.8" height="5.8"/><rect x="167.17" y="916.7" width="5.8" height="5.8"/><rect x="169.41" y="917.61" width="5.8" height="5.8"/><rect x="171.65" y="918.47" width="5.8" height="5.8"/><rect x="173.89" y="919.24" width="5.8" height="5.8"/><rect x="176.13" y="919.89" width="5.8" height="5.8"/><rect x="178.37" y="920.47" width="5.8" height="5.8"/><rect x="180.61" y="921.01" width="5.8" height="5.8"/><rect x="182.85" y="921.51" width="5.8" height="5.8"/><rect x="185.1" y="921.99" width="5.8" height="5.8"/><rect x="187.34" y="922.44" width="5.8" height="5.8"/><rect x="189.58" y="922.88" width="5.8" height="5.8"/><rect x="191.82" y="923.32" width="5.8" height="5.8"/><rect x="194.06" y="923.77" width="5.8" height="5.8"/><rect x="196.3" y="924.23" width="5.8" height="5.8"/><rect x="198.54" y="924.71" width="5.8" height="5.8"/><rect x="200.78" y="925.2" width="5.8" height="5.8"/><rect x="203.02" y="925.69" width="5.8" height="5.8"/><rect x="205.26" y="926.18" width="5.8" height="5.8"/><rect x="207.5" y="926.66" width="5.8" height="5.8"/><rect x="209.74" y="927.14" width="5.8" height="5.8"/><rect x="211.98" y="927.62" width="5.8" height="5.8"/><rect x="214.23" y="928.1" width="5.8" height="5.8"/><rect x="216.47" y="928.56" width="5.8" height="5.8"/><rect x="218.71" y="929.02" width="5.8" height="5.8"/><rect x="220.95" y="929.48" width="5.8" height="5.8"/><rect x="223.19" y="929.92" width="5.8" height="5.8"/><rect x="225.43" y="930.36" width="5.8" height="5.8"/><rect x="227.67" y="930.8" width="5.8" height="5.8"/><rect x="229.91" y="931.23" width="5.8" height="5.8"/><rect x="232.15" y="931.66" width="5.8" height="5.8"/><rect x="234.39" y="932.09" width="5.8" height="5.8"/><rect x="236.63" y="932.51" width="5.8" height="5.8"/><rect x="238.87" y="932.94" width="5.8" height="5.8"/><rect x="241.12" y="933.38" width="5.8" height="5.8"/><rect x="243.36" y="933.82" width="5.8" height="5.8"/><rect x="245.6" y="934.27" width="5.8" height="5.8"/><rect x="247.84" y="934.71" width="5.8" height="5.8"/><rect x="250.08" y="935.14" width="5.8" height="5.8"/><rect x="252.32" y="935.54" width="5.8" height="5.8"/><rect x="254.56" y="935.93" width="5.8" height="5.8"/><rect x="256.8" y="936.28" width="5.8" height="5.8"/><rect x="259.04" y="936.59" width="5.8" height="5.8"/><rect x="261.28" y="936.88" width="5.8" height="5.8"/><rect x="263.52" y="937.16" width="5.8" height="5.8"/><rect x="265.76" y="937.43" width="5.8" height="5.8"/><rect x="268" y="937.69" width="5.8" height="5.8"/><rect x="270.25" y="937.94" width="5.8" height="5.8"/><rect x="272.49" y="938.18" width="5.8" height="5.8"/><rect x="274.73" y="938.41" width="5.8" height="5.8"/><rect x="276.97" y="938.64" width="5.8" height="5.8"/><rect x="279.21" y="938.85" width="5.8" height="5.8"/><rect x="281.45" y="939.06" width="5.8" height="5.8"/><rect x="283.69" y="939.26" width="5.8" height="5.8"/><rect x="285.93" y="939.45" width="5.8" height="5.8"/><rect x="288.17" y="939.64" width="5.8" height="5.8"/><rect x="290.41" y="939.81" width="5.8" height="5.8"/><rect x="292.65" y="939.98" width="5.8" height="5.8"/><rect x="294.89" y="940.15" width="5.8" height="5.8"/><rect x="297.14" y="940.3" width="5.8" height="5.8"/><rect x="299.38" y="940.45" width="5.8" height="5.8"/><rect x="301.62" y="940.59" width="5.8" height="5.8"/><rect x="303.86" y="940.72" width="5.8" height="5.8"/><rect x="306.1" y="940.85" width="5.8" height="5.8"/><rect x="308.34" y="940.97" width="5.8" height="5.8"/><rect x="310.58" y="941.09" width="5.8" height="5.8"/><rect x="312.82" y="941.2" width="5.8" height="5.8"/><rect x="315.06" y="941.31" width="5.8" height="5.8"/><rect x="317.3" y="941.42" width="5.8" height="5.8"/><rect x="319.54" y="941.53" width="5.8" height="5.8"/><rect x="321.78" y="941.64" width="5.8" height="5.8"/><rect x="324.02" y="941.75" width="5.8" height="5.8"/><rect x="326.27" y="941.86" width="5.8" height="5.8"/><rect x="328.51" y="941.97" width="5.8" height="5.8"/><rect x="330.75" y="942.07" width="5.8" height="5.8"/><rect x="332.99" y="942.18" width="5.8" height="5.8"/><rect x="335.23" y="942.29" width="5.8" height="5.8"/><rect x="337.47" y="942.4" width="5.8" height="5.8"/><rect x="339.71" y="942.51" width="5.8" height="5.8"/><rect x="341.95" y="942.61" width="5.8" height="5.8"/><rect x="344.19" y="942.72" width="5.8" height="5.8"/><rect x="346.43" y="942.82" width="5.8" height="5.8"/><rect x="348.67" y="942.92" width="5.8" height="5.8"/><rect x="350.91" y="943.03" width="5.8" height="5.8"/><rect x="353.16" y="943.13" width="5.8" height="5.8"/><rect x="355.4" y="943.23" width="5.8" height="5.8"/><rect x="357.64" y="943.32" width="5.8" height="5.8"/><rect x="359.88" y="943.42" width="5.8" height="5.8"/><rect x="362.12" y="943.52" width="5.8" height="5.8"/><rect x="364.36" y="943.61" width="5.8" height="5.8"/><rect x="366.6" y="943.7" width="5.8" height="5.8"/><rect x="368.84" y="943.79" width="5.8" height="5.8"/><rect x="371.08" y="943.88" width="5.8" height="5.8"/><rect x="373.32" y="943.96" width="5.8" height="5.8"/><rect x="375.56" y="944.04" width="5.8" height="5.8"/><rect x="377.8" y="944.13" width="5.8" height="5.8"/><rect x="380.04" y="944.21" width="5.8" height="5.8"/><rect x="382.29" y="944.29" width="5.8" height="5.8"/><rect x="384.53" y="944.37" width="5.8" height="5.8"/><rect x="386.77" y="944.45" width="5.8" height="5.8"/><rect x="389.01" y="944.54" width="5.8" height="5.8"/><rect x="391.25" y="944.62" width="5.8" height="5.8"/><rect x="393.49" y="944.7" width="5.8" height="5.8"/><rect x="395.73" y="944.79" width="5.8" height="5.8"/><rect x="397.97" y="944.87" width="5.8" height="5.8"/><rect x="400.21" y="944.95" width="5.8" height="5.8"/><rect x="402.45" y="945.03" width="5.8" height="5.8"/><rect x="404.69" y="945.1" width="5.8" height="5.8"/><rect x="406.93" y="945.18" width="5.8" height="5.8"/><rect x="409.18" y="945.25" width="5.8" height="5.8"/><rect x="411.42" y="945.32" width="5.8" height="5.8"/><rect x="413.66" y="945.39" width="5.8" height="5.8"/><rect x="415.9" y="945.46" width="5.8" height="5.8"/><rect x="418.14" y="945.52" width="5.8" height="5.8"/><rect x="420.38" y="945.58" width="5.8" height="5.8"/><rect x="422.62" y="945.64" width="5.8" height="5.8"/><rect x="424.86" y="945.69" width="5.8" height="5.8"/><rect x="427.1" y="945.74" width="5.8" height="5.8"/><rect x="429.34" y="945.78" width="5.8" height="5.8"/><rect x="431.58" y="945.82" width="5.8" height="5.8"/><rect x="433.82" y="945.86" width="5.8" height="5.8"/><rect x="436.06" y="945.89" width="5.8" height="5.8"/><rect x="438.31" y="945.91" width="5.8" height="5.8"/><rect x="440.55" y="945.94" width="5.8" height="5.8"/><rect x="442.79" y="945.96" width="5.8" height="5.8"/><rect x="445.03" y="945.99" width="5.8" height="5.8"/><rect x="447.27" y="946.01" width="5.8" height="5.8"/><rect x="449.51" y="946.03" width="5.8" height="5.8"/><rect x="451.75" y="946.05" width="5.8" height="5.8"/><rect x="453.99" y="946.07" width="5.8" height="5.8"/><rect x="456.23" y="946.09" width="5.8" height="5.8"/><rect x="458.47" y="946.11" width="5.8" height="5.8"/><rect x="460.71" y="946.13" width="5.8" height="5.8"/><rect x="462.95" y="946.15" width="5.8" height="5.8"/><rect x="465.2" y="946.17" width="5.8" height="5.8"/><rect x="467.44" y="946.19" width="5.8" height="5.8"/><rect x="469.68" y="946.21" width="5.8" height="5.8"/><rect x="471.92" y="946.23" width="5.8" height="5.8"/><rect x="474.16" y="946.24" width="5.8" height="5.8"/><rect x="476.4" y="946.26" width="5.8" height="5.8"/><rect x="478.64" y="946.28" width="5.8" height="5.8"/><rect x="480.88" y="946.29" width="5.8" height="5.8"/><rect x="483.12" y="946.31" width="5.8" height="5.8"/><rect x="485.36" y="946.32" width="5.8" height="5.8"/><rect x="487.6" y="946.34" width="5.8" height="5.8"/><rect x="489.84" y="946.35" width="5.8" height="5.8"/><rect x="492.08" y="946.36" width="5.8" height="5.8"/><rect x="494.33" y="946.38" width="5.8" height="5.8"/><rect x="496.57" y="946.39" width="5.8" height="5.8"/><rect x="498.81" y="946.4" width="5.8" height="5.8"/><rect x="501.05" y="946.41" width="5.8" height="5.8"/><rect x="503.29" y="946.43" width="5.8" height="5.8"/><rect x="505.53" y="946.44" width="5.8" height="5.8"/><rect x="507.77" y="946.45" width="5.8" height="5.8"/><rect x="510.01" y="946.46" width="5.8" height="5.8"/><rect x="512.25" y="946.47" width="5.8" height="5.8"/><rect x="514.49" y="946.48" width="5.8" height="5.8"/><rect x="516.73" y="946.49" width="5.8" height="5.8"/><rect x="518.97" y="946.5" width="5.8" height="5.8"/><rect x="521.22" y="946.51" width="5.8" height="5.8"/><rect x="523.46" y="946.52" width="5.8" height="5.8"/><rect x="525.7" y="946.53" width="5.8" height="5.8"/><rect x="527.94" y="946.54" width="5.8" height="5.8"/><rect x="530.18" y="946.54" width="5.8" height="5.8"/><rect x="532.42" y="946.55" width="5.8" height="5.8"/><rect x="534.66" y="946.56" width="5.8" height="5.8"/><rect x="536.9" y="946.57" width="5.8" height="5.8"/><rect x="539.14" y="946.58" width="5.8" height="5.8"/><rect x="541.38" y="946.58" width="5.8" height="5.8"/><rect x="543.62" y="946.59" width="5.8" height="5.8"/><rect x="545.86" y="946.6" width="5.8" height="5.8"/><rect x="548.1" y="946.6" width="5.8" height="5.8"/><rect x="550.35" y="946.61" width="5.8" height="5.8"/><rect x="552.59" y="946.62" width="5.8" height="5.8"/><rect x="554.83" y="946.62" width="5.8" height="5.8"/><rect x="557.07" y="946.63" width="5.8" height="5.8"/><rect x="559.31" y="946.64" width="5.8" height="5.8"/><rect x="561.55" y="946.64" width="5.8" height="5.8"/><rect x="563.79" y="946.65" width="5.8" height="5.8"/><rect x="566.03" y="946.65" width="5.8" height="5.8"/><rect x="568.27" y="946.66" width="5.8" height="5.8"/><rect x="570.51" y="946.67" width="5.8" height="5.8"/><rect x="572.75" y="946.67" width="5.8" height="5.8"/><rect x="574.99" y="946.68" width="5.8" height="5.8"/><rect x="577.24" y="946.68" width="5.8" height="5.8"/><rect x="579.48" y="946.69" width="5.8" height="5.8"/><rect x="581.72" y="946.7" width="5.8" height="5.8"/><rect x="583.96" y="946.7" width="5.8" height="5.8"/><rect x="586.2" y="946.71" width="5.8" height="5.8"/><rect x="588.44" y="946.71" width="5.8" height="5.8"/><rect x="590.68" y="946.72" width="5.8" height="5.8"/><rect x="592.92" y="946.72" width="5.8" height="5.8"/><rect x="595.16" y="946.73" width="5.8" height="5.8"/><rect x="597.4" y="946.73" width="5.8" height="5.8"/><rect x="599.64" y="946.74" width="5.8" height="5.8"/><rect x="601.88" y="946.74" width="5.8" height="5.8"/><rect x="604.12" y="946.75" width="5.8" height="5.8"/><rect x="606.37" y="946.75" width="5.8" height="5.8"/><rect x="608.61" y="946.76" width="5.8" height="5.8"/><rect x="610.85" y="946.76" width="5.8" height="5.8"/><rect x="613.09" y="946.76" width="5.8" height="5.8"/><rect x="615.33" y="946.77" width="5.8" height="5.8"/><rect x="617.57" y="946.77" width="5.8" height="5.8"/><rect x="619.81" y="946.77" width="5.8" height="5.8"/><rect x="622.05" y="946.78" width="5.8" height="5.8"/><rect x="624.29" y="946.78" width="5.8" height="5.8"/><rect x="626.53" y="946.78" width="5.8" height="5.8"/><rect x="628.77" y="946.79" width="5.8" height="5.8"/><rect x="631.01" y="946.79" width="5.8" height="5.8"/><rect x="633.26" y="946.79" width="5.8" height="5.8"/><rect x="635.5" y="946.79" width="5.8" height="5.8"/><rect x="637.74" y="946.79" width="5.8" height="5.8"/><rect x="639.98" y="946.8" width="5.8" height="5.8"/><rect x="642.22" y="946.8" width="5.8" height="5.8"/><rect x="644.46" y="946.8" width="5.8" height="5.8"/><rect x="646.7" y="946.8" width="5.8" height="5.8"/><rect x="648.94" y="946.8" width="5.8" height="5.8"/><rect x="651.18" y="946.8" width="5.8" height="5.8"/></g>
<path d="M88.2 594.9 L89.4 601.1 L85.4 612.8 L91.2 639 L93.44 656.34 L95.68 676.63 L97.92 704.07 L100.16 732.53 L102.4 761.18 L104.64 790.1 L106.89 810.5 L109.13 823.11 L111.37 834.78 L113.61 845.53 L115.85 853.96 L118.09 860.9 L120.33 866.49 L122.57 871.23 L124.81 875.2 L127.05 878.42 L129.29 881.16 L131.53 883.85 L133.78 886.54 L136.02 889.1 L138.26 891.43 L140.5 893.41 L142.74 895.11 L144.98 896.64 L147.22 898.04 L149.46 899.38 L151.7 900.71 L153.94 902.03 L156.18 903.27 L158.42 904.36 L160.66 905.24 L162.91 905.96 L165.15 906.59 L167.39 907.16 L169.63 907.71 L171.87 908.25 L174.11 908.77 L176.35 909.26 L178.59 909.74 L180.83 910.19 L183.07 910.63 L185.31 911.06 L187.55 911.46 L189.8 911.84 L192.04 912.21 L194.28 912.57 L196.52 912.92 L198.76 913.29 L201 913.67 L203.24 914.06 L205.48 914.45 L207.72 914.85 L209.96 915.24 L212.2 915.64 L214.44 916.04 L216.68 916.43 L218.93 916.82 L221.17 917.2 L223.41 917.58 L225.65 917.95 L227.89 918.32 L230.13 918.69 L232.37 919.06 L234.61 919.44 L236.85 919.8 L239.09 920.15 L241.33 920.5 L243.57 920.86 L245.82 921.23 L248.06 921.62 L250.3 922.06 L252.54 922.57 L254.78 923.14 L257.02 923.75 L259.26 924.34 L261.5 924.89 L263.74 925.39 L265.98 925.89 L268.22 926.4 L270.46 926.92 L272.7 927.43 L274.95 927.93 L277.19 928.43 L279.43 928.91 L281.67 929.38 L283.91 929.83 L286.15 930.26 L288.39 930.66 L290.63 931.04 L292.87 931.38 L295.11 931.68 L297.35 931.94 L299.59 932.16 L301.84 932.35 L304.08 932.53 L306.32 932.71 L308.56 932.88 L310.8 933.04 L313.04 933.19 L315.28 933.34 L317.52 933.48 L319.76 933.62 L322 933.75 L324.24 933.88 L326.48 934 L328.72 934.12 L330.97 934.23 L333.21 934.34 L335.45 934.45 L337.69 934.55 L339.93 934.65 L342.17 934.75 L344.41 934.84 L346.65 934.93 L348.89 935.02 L351.13 935.11 L353.37 935.2 L355.61 935.28 L357.86 935.37 L360.1 935.45 L362.34 935.53 L364.58 935.62 L366.82 935.7 L369.06 935.78 L371.3 935.87 L373.54 935.95 L375.78 936.04 L378.02 936.12 L380.26 936.21 L382.5 936.3 L384.74 936.39 L386.99 936.48 L389.23 936.57 L391.47 936.67 L393.71 936.76 L395.95 936.85 L398.19 936.94 L400.43 937.03 L402.67 937.12 L404.91 937.21 L407.15 937.29 L409.39 937.38 L411.63 937.46 L413.88 937.54 L416.12 937.62 L418.36 937.69 L420.6 937.76 L422.84 937.83 L425.08 937.89 L427.32 937.95 L429.56 938.01 L431.8 938.06 L434.04 938.1 L436.28 938.14 L438.52 938.18 L440.76 938.21 L443.01 938.24 L445.25 938.26 L447.49 938.29 L449.73 938.32 L451.97 938.34 L454.21 938.37 L456.45 938.39 L458.69 938.41 L460.93 938.44 L463.17 938.46 L465.41 938.48 L467.65 938.5 L469.9 938.52 L472.14 938.54 L474.38 938.56 L476.62 938.58 L478.86 938.6 L481.1 938.62 L483.34 938.64 L485.58 938.65 L487.82 938.67 L490.06 938.68 L492.3 938.7 L494.54 938.72 L496.78 938.73 L499.03 938.75 L501.27 938.76 L503.51 938.77 L505.75 938.79 L507.99 938.8 L510.23 938.81 L512.47 938.83 L514.71 938.84 L516.95 938.85 L519.19 938.86 L521.43 938.87 L523.67 938.88 L525.92 938.89 L528.16 938.9 L530.4 938.92 L532.64 938.93 L534.88 938.94 L537.12 938.95 L539.36 938.96 L541.6 938.97 L543.84 938.97 L546.08 938.98 L548.32 938.99 L550.56 939 L552.8 939.01 L555.05 939.02 L557.29 939.03 L559.53 939.04 L561.77 939.05 L564.01 939.06 L566.25 939.07 L568.49 939.07 L570.73 939.08 L572.97 939.09 L575.21 939.1 L577.45 939.11 L579.69 939.12 L581.94 939.12 L584.18 939.13 L586.42 939.14 L588.66 939.15 L590.9 939.16 L593.14 939.16 L595.38 939.17 L597.62 939.18 L599.86 939.19 L602.1 939.19 L604.34 939.2 L606.58 939.21 L608.82 939.21 L611.07 939.22 L613.31 939.23 L615.55 939.23 L617.79 939.24 L620.03 939.24 L622.27 939.25 L624.51 939.25 L626.75 939.26 L628.99 939.26 L631.23 939.27 L633.47 939.27 L635.71 939.28 L637.96 939.28 L640.2 939.28 L642.44 939.29 L644.68 939.29 L646.92 939.29 L649.16 939.29 L651.4 939.3 L653.64 939.3" fill="none" stroke="#ff0000" stroke-width="1.1" stroke-linejoin="round"/>
<g fill="#ff0000"><circle cx="88.2" cy="594.9" r="3.2"/><circle cx="89.4" cy="601.1" r="3.2"/><circle cx="85.4" cy="612.8" r="3.2"/><circle cx="91.2" cy="639" r="3.2"/><circle cx="93.44" cy="656.34" r="3.2"/><circle cx="95.68" cy="676.63" r="3.2"/><circle cx="97.92" cy="704.07" r="3.2"/><circle cx="100.16" cy="732.53" r="3.2"/><circle cx="102.4" cy="761.18" r="3.2"/><circle cx="104.64" cy="790.1" r="3.2"/><circle cx="106.89" cy="810.5" r="3.2"/><circle cx="109.13" cy="823.11" r="3.2"/><circle cx="111.37" cy="834.78" r="3.2"/><circle cx="113.61" cy="845.53" r="3.2"/><circle cx="115.85" cy="853.96" r="3.2"/><circle cx="118.09" cy="860.9" r="3.2"/><circle cx="120.33" cy="866.49" r="3.2"/><circle cx="122.57" cy="871.23" r="3.2"/><circle cx="124.81" cy="875.2" r="3.2"/><circle cx="127.05" cy="878.42" r="3.2"/><circle cx="129.29" cy="881.16" r="3.2"/><circle cx="131.53" cy="883.85" r="3.2"/><circle cx="133.78" cy="886.54" r="3.2"/><circle cx="136.02" cy="889.1" r="3.2"/><circle cx="138.26" cy="891.43" r="3.2"/><circle cx="140.5" cy="893.41" r="3.2"/><circle cx="142.74" cy="895.11" r="3.2"/><circle cx="144.98" cy="896.64" r="3.2"/><circle cx="147.22" cy="898.04" r="3.2"/><circle cx="149.46" cy="899.38" r="3.2"/><circle cx="151.7" cy="900.71" r="3.2"/><circle cx="153.94" cy="902.03" r="3.2"/><circle cx="156.18" cy="903.27" r="3.2"/><circle cx="158.42" cy="904.36" r="3.2"/><circle cx="160.66" cy="905.24" r="3.2"/><circle cx="162.91" cy="905.96" r="3.2"/><circle cx="165.15" cy="906.59" r="3.2"/><circle cx="167.39" cy="907.16" r="3.2"/><circle cx="169.63" cy="907.71" r="3.2"/><circle cx="171.87" cy="908.25" r="3.2"/><circle cx="174.11" cy="908.77" r="3.2"/><circle cx="176.35" cy="909.26" r="3.2"/><circle cx="178.59" cy="909.74" r="3.2"/><circle cx="180.83" cy="910.19" r="3.2"/><circle cx="183.07" cy="910.63" r="3.2"/><circle cx="185.31" cy="911.06" r="3.2"/><circle cx="187.55" cy="911.46" r="3.2"/><circle cx="189.8" cy="911.84" r="3.2"/><circle cx="192.04" cy="912.21" r="3.2"/><circle cx="194.28" cy="912.57" r="3.2"/><circle cx="196.52" cy="912.92" r="3.2"/><circle cx="198.76" cy="913.29" r="3.2"/><circle cx="201" cy="913.67" r="3.2"/><circle cx="203.24" cy="914.06" r="3.2"/><circle cx="205.48" cy="914.45" r="3.2"/><circle cx="207.72" cy="914.85" r="3.2"/><circle cx="209.96" cy="915.24" r="3.2"/><circle cx="212.2" cy="915.64" r="3.2"/><circle cx="214.44" cy="916.04" r="3.2"/><circle cx="216.68" cy="916.43" r="3.2"/><circle cx="218.93" cy="916.82" r="3.2"/><circle cx="221.17" cy="917.2" r="3.2"/><circle cx="223.41" cy="917.58" r="3.2"/><circle cx="225.65" cy="917.95" r="3.2"/><circle cx="227.89" cy="918.32" r="3.2"/><circle cx="230.13" cy="918.69" r="3.2"/><circle cx="232.37" cy="919.06" r="3.2"/><circle cx="234.61" cy="919.44" r="3.2"/><circle cx="236.85" cy="919.8" r="3.2"/><circle cx="239.09" cy="920.15" r="3.2"/><circle cx="241.33" cy="920.5" r="3.2"/><circle cx="243.57" cy="920.86" r="3.2"/><circle cx="245.82" cy="921.23" r="3.2"/><circle cx="248.06" cy="921.62" r="3.2"/><circle cx="250.3" cy="922.06" r="3.2"/><circle cx="252.54" cy="922.57" r="3.2"/><circle cx="254.78" cy="923.14" r="3.2"/><circle cx="257.02" cy="923.75" r="3.2"/><circle cx="259.26" cy="924.34" r="3.2"/><circle cx="261.5" cy="924.89" r="3.2"/><circle cx="263.74" cy="925.39" r="3.2"/><circle cx="265.98" cy="925.89" r="3.2"/><circle cx="268.22" cy="926.4" r="3.2"/><circle cx="270.46" cy="926.92" r="3.2"/><circle cx="272.7" cy="927.43" r="3.2"/><circle cx="274.95" cy="927.93" r="3.2"/><circle cx="277.19" cy="928.43" r="3.2"/><circle cx="279.43" cy="928.91" r="3.2"/><circle cx="281.67" cy="929.38" r="3.2"/><circle cx="283.91" cy="929.83" r="3.2"/><circle cx="286.15" cy="930.26" r="3.2"/><circle cx="288.39" cy="930.66" r="3.2"/><circle cx="290.63" cy="931.04" r="3.2"/><circle cx="292.87" cy="931.38" r="3.2"/><circle cx="295.11" cy="931.68" r="3.2"/><circle cx="297.35" cy="931.94" r="3.2"/><circle cx="299.59" cy="932.16" r="3.2"/><circle cx="301.84" cy="932.35" r="3.2"/><circle cx="304.08" cy="932.53" r="3.2"/><circle cx="306.32" cy="932.71" r="3.2"/><circle cx="308.56" cy="932.88" r="3.2"/><circle cx="310.8" cy="933.04" r="3.2"/><circle cx="313.04" cy="933.19" r="3.2"/><circle cx="315.28" cy="933.34" r="3.2"/><circle cx="317.52" cy="933.48" r="3.2"/><circle cx="319.76" cy="933.62" r="3.2"/><circle cx="322" cy="933.75" r="3.2"/><circle cx="324.24" cy="933.88" r="3.2"/><circle cx="326.48" cy="934" r="3.2"/><circle cx="328.72" cy="934.12" r="3.2"/><circle cx="330.97" cy="934.23" r="3.2"/><circle cx="333.21" cy="934.34" r="3.2"/><circle cx="335.45" cy="934.45" r="3.2"/><circle cx="337.69" cy="934.55" r="3.2"/><circle cx="339.93" cy="934.65" r="3.2"/><circle cx="342.17" cy="934.75" r="3.2"/><circle cx="344.41" cy="934.84" r="3.2"/><circle cx="346.65" cy="934.93" r="3.2"/><circle cx="348.89" cy="935.02" r="3.2"/><circle cx="351.13" cy="935.11" r="3.2"/><circle cx="353.37" cy="935.2" r="3.2"/><circle cx="355.61" cy="935.28" r="3.2"/><circle cx="357.86" cy="935.37" r="3.2"/><circle cx="360.1" cy="935.45" r="3.2"/><circle cx="362.34" cy="935.53" r="3.2"/><circle cx="364.58" cy="935.62" r="3.2"/><circle cx="366.82" cy="935.7" r="3.2"/><circle cx="369.06" cy="935.78" r="3.2"/><circle cx="371.3" cy="935.87" r="3.2"/><circle cx="373.54" cy="935.95" r="3.2"/><circle cx="375.78" cy="936.04" r="3.2"/><circle cx="378.02" cy="936.12" r="3.2"/><circle cx="380.26" cy="936.21" r="3.2"/><circle cx="382.5" cy="936.3" r="3.2"/><circle cx="384.74" cy="936.39" r="3.2"/><circle cx="386.99" cy="936.48" r="3.2"/><circle cx="389.23" cy="936.57" r="3.2"/><circle cx="391.47" cy="936.67" r="3.2"/><circle cx="393.71" cy="936.76" r="3.2"/><circle cx="395.95" cy="936.85" r="3.2"/><circle cx="398.19" cy="936.94" r="3.2"/><circle cx="400.43" cy="937.03" r="3.2"/><circle cx="402.67" cy="937.12" r="3.2"/><circle cx="404.91" cy="937.21" r="3.2"/><circle cx="407.15" cy="937.29" r="3.2"/><circle cx="409.39" cy="937.38" r="3.2"/><circle cx="411.63" cy="937.46" r="3.2"/><circle cx="413.88" cy="937.54" r="3.2"/><circle cx="416.12" cy="937.62" r="3.2"/><circle cx="418.36" cy="937.69" r="3.2"/><circle cx="420.6" cy="937.76" r="3.2"/><circle cx="422.84" cy="937.83" r="3.2"/><circle cx="425.08" cy="937.89" r="3.2"/><circle cx="427.32" cy="937.95" r="3.2"/><circle cx="429.56" cy="938.01" r="3.2"/><circle cx="431.8" cy="938.06" r="3.2"/><circle cx="434.04" cy="938.1" r="3.2"/><circle cx="436.28" cy="938.14" r="3.2"/><circle cx="438.52" cy="938.18" r="3.2"/><circle cx="440.76" cy="938.21" r="3.2"/><circle cx="443.01" cy="938.24" r="3.2"/><circle cx="445.25" cy="938.26" r="3.2"/><circle cx="447.49" cy="938.29" r="3.2"/><circle cx="449.73" cy="938.32" r="3.2"/><circle cx="451.97" cy="938.34" r="3.2"/><circle cx="454.21" cy="938.37" r="3.2"/><circle cx="456.45" cy="938.39" r="3.2"/><circle cx="458.69" cy="938.41" r="3.2"/><circle cx="460.93" cy="938.44" r="3.2"/><circle cx="463.17" cy="938.46" r="3.2"/><circle cx="465.41" cy="938.48" r="3.2"/><circle cx="467.65" cy="938.5" r="3.2"/><circle cx="469.9" cy="938.52" r="3.2"/><circle cx="472.14" cy="938.54" r="3.2"/><circle cx="474.38" cy="938.56" r="3.2"/><circle cx="476.62" cy="938.58" r="3.2"/><circle cx="478.86" cy="938.6" r="3.2"/><circle cx="481.1" cy="938.62" r="3.2"/><circle cx="483.34" cy="938.64" r="3.2"/><circle cx="485.58" cy="938.65" r="3.2"/><circle cx="487.82" cy="938.67" r="3.2"/><circle cx="490.06" cy="938.68" r="3.2"/><circle cx="492.3" cy="938.7" r="3.2"/><circle cx="494.54" cy="938.72" r="3.2"/><circle cx="496.78" cy="938.73" r="3.2"/><circle cx="499.03" cy="938.75" r="3.2"/><circle cx="501.27" cy="938.76" r="3.2"/><circle cx="503.51" cy="938.77" r="3.2"/><circle cx="505.75" cy="938.79" r="3.2"/><circle cx="507.99" cy="938.8" r="3.2"/><circle cx="510.23" cy="938.81" r="3.2"/><circle cx="512.47" cy="938.83" r="3.2"/><circle cx="514.71" cy="938.84" r="3.2"/><circle cx="516.95" cy="938.85" r="3.2"/><circle cx="519.19" cy="938.86" r="3.2"/><circle cx="521.43" cy="938.87" r="3.2"/><circle cx="523.67" cy="938.88" r="3.2"/><circle cx="525.92" cy="938.89" r="3.2"/><circle cx="528.16" cy="938.9" r="3.2"/><circle cx="530.4" cy="938.92" r="3.2"/><circle cx="532.64" cy="938.93" r="3.2"/><circle cx="534.88" cy="938.94" r="3.2"/><circle cx="537.12" cy="938.95" r="3.2"/><circle cx="539.36" cy="938.96" r="3.2"/><circle cx="541.6" cy="938.97" r="3.2"/><circle cx="543.84" cy="938.97" r="3.2"/><circle cx="546.08" cy="938.98" r="3.2"/><circle cx="548.32" cy="938.99" r="3.2"/><circle cx="550.56" cy="939" r="3.2"/><circle cx="552.8" cy="939.01" r="3.2"/><circle cx="555.05" cy="939.02" r="3.2"/><circle cx="557.29" cy="939.03" r="3.2"/><circle cx="559.53" cy="939.04" r="3.2"/><circle cx="561.77" cy="939.05" r="3.2"/><circle cx="564.01" cy="939.06" r="3.2"/><circle cx="566.25" cy="939.07" r="3.2"/><circle cx="568.49" cy="939.07" r="3.2"/><circle cx="570.73" cy="939.08" r="3.2"/><circle cx="572.97" cy="939.09" r="3.2"/><circle cx="575.21" cy="939.1" r="3.2"/><circle cx="577.45" cy="939.11" r="3.2"/><circle cx="579.69" cy="939.12" r="3.2"/><circle cx="581.94" cy="939.12" r="3.2"/><circle cx="584.18" cy="939.13" r="3.2"/><circle cx="586.42" cy="939.14" r="3.2"/><circle cx="588.66" cy="939.15" r="3.2"/><circle cx="590.9" cy="939.16" r="3.2"/><circle cx="593.14" cy="939.16" r="3.2"/><circle cx="595.38" cy="939.17" r="3.2"/><circle cx="597.62" cy="939.18" r="3.2"/><circle cx="599.86" cy="939.19" r="3.2"/><circle cx="602.1" cy="939.19" r="3.2"/><circle cx="604.34" cy="939.2" r="3.2"/><circle cx="606.58" cy="939.21" r="3.2"/><circle cx="608.82" cy="939.21" r="3.2"/><circle cx="611.07" cy="939.22" r="3.2"/><circle cx="613.31" cy="939.23" r="3.2"/><circle cx="615.55" cy="939.23" r="3.2"/><circle cx="617.79" cy="939.24" r="3.2"/><circle cx="620.03" cy="939.24" r="3.2"/><circle cx="622.27" cy="939.25" r="3.2"/><circle cx="624.51" cy="939.25" r="3.2"/><circle cx="626.75" cy="939.26" r="3.2"/><circle cx="628.99" cy="939.26" r="3.2"/><circle cx="631.23" cy="939.27" r="3.2"/><circle cx="633.47" cy="939.27" r="3.2"/><circle cx="635.71" cy="939.28" r="3.2"/><circle cx="637.96" cy="939.28" r="3.2"/><circle cx="640.2" cy="939.28" r="3.2"/><circle cx="642.44" cy="939.29" r="3.2"/><circle cx="644.68" cy="939.29" r="3.2"/><circle cx="646.92" cy="939.29" r="3.2"/><circle cx="649.16" cy="939.29" r="3.2"/><circle cx="651.4" cy="939.3" r="3.2"/><circle cx="653.64" cy="939.3" r="3.2"/></g>
<path d="M83.4 597.8 L86.9 608.4 L90.5 629.6 L92.4 665.3 L93.8 699.9 L97.1 729 L98.8 755.3 L101.5 778.7 L103.7 798 L105.8 814.4 L108.1 828.8 L110.3 841 L112.5 851.5 L114.7 861.2 L116.9 869 L119.1 876.9 L121.3 883.1 L123.5 889.2 L125.7 895.3 L128.3 900.6 L130.5 903.44 L132.74 906.11 L134.98 908.6 L137.22 910.41 L139.46 911.87 L141.7 913.14 L143.94 914.28 L146.19 915.36 L148.43 916.45 L150.67 917.54 L152.91 918.6 L155.15 919.62 L157.39 920.6 L159.63 921.53 L161.87 922.4 L164.11 923.2 L166.35 923.94 L168.59 924.62 L170.83 925.26 L173.08 925.86 L175.32 926.43 L177.56 926.99 L179.8 927.54 L182.04 928.08 L184.28 928.62 L186.52 929.17 L188.76 929.71 L191 930.24 L193.24 930.76 L195.48 931.27 L197.72 931.78 L199.96 932.29 L202.21 932.8 L204.45 933.31 L206.69 933.82 L208.93 934.32 L211.17 934.82 L213.41 935.31 L215.65 935.8 L217.89 936.28 L220.13 936.74 L222.37 937.2 L224.61 937.64 L226.85 938.07 L229.1 938.49 L231.34 938.91 L233.58 939.32 L235.82 939.73 L238.06 940.14 L240.3 940.56 L242.54 940.97 L244.78 941.4 L247.02 941.82 L249.26 942.24 L251.5 942.66 L253.74 943.07 L255.98 943.48 L258.23 943.87 L260.47 944.25 L262.71 944.61 L264.95 944.99 L267.19 945.37 L269.43 945.75 L271.67 946.14 L273.91 946.53 L276.15 946.91 L278.39 947.29 L280.63 947.65 L282.87 948 L285.12 948.34 L287.36 948.66 L289.6 948.95 L291.84 949.21 L294.08 949.45 L296.32 949.65 L298.56 949.81 L300.8 949.94 L303.04 950.05 L305.28 950.15 L307.52 950.23 L309.76 950.31 L312 950.38 L314.25 950.45 L316.49 950.51 L318.73 950.58 L320.97 950.64 L323.21 950.71 L325.45 950.78 L327.69 950.86 L329.93 950.94 L332.17 951.02 L334.41 951.1 L336.65 951.18 L338.89 951.26 L341.14 951.34 L343.38 951.43 L345.62 951.51 L347.86 951.59 L350.1 951.67 L352.34 951.76 L354.58 951.84 L356.82 951.92 L359.06 952 L361.3 952.08 L363.54 952.16 L365.78 952.24 L368.02 952.31 L370.27 952.39 L372.51 952.46 L374.75 952.54 L376.99 952.61 L379.23 952.68 L381.47 952.74 L383.71 952.81 L385.95 952.89 L388.19 952.96 L390.43 953.03 L392.67 953.1 L394.91 953.17 L397.16 953.25 L399.4 953.32 L401.64 953.39 L403.88 953.46 L406.12 953.53 L408.36 953.6 L410.6 953.66 L412.84 953.73 L415.08 953.79 L417.32 953.85 L419.56 953.91 L421.8 953.97 L424.04 954.02 L426.29 954.07 L428.53 954.12 L430.77 954.16 L433.01 954.2 L435.25 954.24 L437.49 954.27 L439.73 954.3 L441.97 954.32 L444.21 954.35 L446.45 954.37 L448.69 954.39 L450.93 954.41 L453.18 954.44 L455.42 954.46 L457.66 954.48 L459.9 954.5 L462.14 954.52 L464.38 954.54 L466.62 954.56 L468.86 954.57 L471.1 954.59 L473.34 954.61 L475.58 954.63 L477.82 954.64 L480.06 954.66 L482.31 954.68 L484.55 954.69 L486.79 954.71 L489.03 954.72 L491.27 954.74 L493.51 954.75 L495.75 954.76 L497.99 954.78 L500.23 954.79 L502.47 954.8 L504.71 954.82 L506.95 954.83 L509.2 954.84 L511.44 954.85 L513.68 954.86 L515.92 954.87 L518.16 954.88 L520.4 954.89 L522.64 954.9 L524.88 954.91 L527.12 954.92 L529.36 954.93 L531.6 954.94 L533.84 954.95 L536.08 954.96 L538.33 954.96 L540.57 954.97 L542.81 954.98 L545.05 954.99 L547.29 954.99 L549.53 955 L551.77 955.01 L554.01 955.01 L556.25 955.02 L558.49 955.02 L560.73 955.03 L562.97 955.04 L565.22 955.04 L567.46 955.05 L569.7 955.06 L571.94 955.06 L574.18 955.07 L576.42 955.07 L578.66 955.08 L580.9 955.09 L583.14 955.09 L585.38 955.1 L587.62 955.1 L589.86 955.11 L592.1 955.11 L594.35 955.12 L596.59 955.13 L598.83 955.13 L601.07 955.14 L603.31 955.14 L605.55 955.14 L607.79 955.15 L610.03 955.15 L612.27 955.16 L614.51 955.16 L616.75 955.17 L618.99 955.17 L621.24 955.17 L623.48 955.18 L625.72 955.18 L627.96 955.18 L630.2 955.18 L632.44 955.19 L634.68 955.19 L636.92 955.19 L639.16 955.19 L641.4 955.2 L643.64 955.2 L645.88 955.2 L648.12 955.2 L650.37 955.2 L652.61 955.2 L654.85 955.2" fill="none" stroke="#0000ff" stroke-width="1.1" stroke-linejoin="round"/>
<g fill="#0000ff"><path d="M83.4 594.3L87.2 601.3L79.6 601.3Z"/><path d="M86.9 604.9L90.7 611.9L83.1 611.9Z"/><path d="M90.5 626.1L94.3 633.1L86.7 633.1Z"/><path d="M92.4 661.8L96.2 668.8L88.6 668.8Z"/><path d="M93.8 696.4L97.6 703.4L90 703.4Z"/><path d="M97.1 725.5L100.9 732.5L93.3 732.5Z"/><path d="M98.8 751.8L102.6 758.8L95 758.8Z"/><path d="M101.5 775.2L105.3 782.2L97.7 782.2Z"/><path d="M103.7 794.5L107.5 801.5L99.9 801.5Z"/><path d="M105.8 810.9L109.6 817.9L102 817.9Z"/><path d="M108.1 825.3L111.9 832.3L104.3 832.3Z"/><path d="M110.3 837.5L114.1 844.5L106.5 844.5Z"/><path d="M112.5 848L116.3 855L108.7 855Z"/><path d="M114.7 857.7L118.5 864.7L110.9 864.7Z"/><path d="M116.9 865.5L120.7 872.5L113.1 872.5Z"/><path d="M119.1 873.4L122.9 880.4L115.3 880.4Z"/><path d="M121.3 879.6L125.1 886.6L117.5 886.6Z"/><path d="M123.5 885.7L127.3 892.7L119.7 892.7Z"/><path d="M125.7 891.8L129.5 898.8L121.9 898.8Z"/><path d="M128.3 897.1L132.1 904.1L124.5 904.1Z"/><path d="M130.5 899.94L134.3 906.94L126.7 906.94Z"/><path d="M132.74 902.61L136.54 909.61L128.94 909.61Z"/><path d="M134.98 905.1L138.78 912.1L131.18 912.1Z"/><path d="M137.22 906.91L141.02 913.91L133.42 913.91Z"/><path d="M139.46 908.37L143.26 915.37L135.66 915.37Z"/><path d="M141.7 909.64L145.5 916.64L137.9 916.64Z"/><path d="M143.94 910.78L147.74 917.78L140.14 917.78Z"/><path d="M146.19 911.86L149.99 918.86L142.39 918.86Z"/><path d="M148.43 912.95L152.23 919.95L144.63 919.95Z"/><path d="M150.67 914.04L154.47 921.04L146.87 921.04Z"/><path d="M152.91 915.1L156.71 922.1L149.11 922.1Z"/><path d="M155.15 916.12L158.95 923.12L151.35 923.12Z"/><path d="M157.39 917.1L161.19 924.1L153.59 924.1Z"/><path d="M159.63 918.03L163.43 925.03L155.83 925.03Z"/><path d="M161.87 918.9L165.67 925.9L158.07 925.9Z"/><path d="M164.11 919.7L167.91 926.7L160.31 926.7Z"/><path d="M166.35 920.44L170.15 927.44L162.55 927.44Z"/><path d="M168.59 921.12L172.39 928.12L164.79 928.12Z"/><path d="M170.83 921.76L174.63 928.76L167.03 928.76Z"/><path d="M173.08 922.36L176.88 929.36L169.28 929.36Z"/><path d="M175.32 922.93L179.12 929.93L171.52 929.93Z"/><path d="M177.56 923.49L181.36 930.49L173.76 930.49Z"/><path d="M179.8 924.04L183.6 931.04L176 931.04Z"/><path d="M182.04 924.58L185.84 931.58L178.24 931.58Z"/><path d="M184.28 925.12L188.08 932.12L180.48 932.12Z"/><path d="M186.52 925.67L190.32 932.67L182.72 932.67Z"/><path d="M188.76 926.21L192.56 933.21L184.96 933.21Z"/><path d="M191 926.74L194.8 933.74L187.2 933.74Z"/><path d="M193.24 927.26L197.04 934.26L189.44 934.26Z"/><path d="M195.48 927.77L199.28 934.77L191.68 934.77Z"/><path d="M197.72 928.28L201.52 935.28L193.92 935.28Z"/><path d="M199.96 928.79L203.76 935.79L196.16 935.79Z"/><path d="M202.21 929.3L206.01 936.3L198.41 936.3Z"/><path d="M204.45 929.81L208.25 936.81L200.65 936.81Z"/><path d="M206.69 930.32L210.49 937.32L202.89 937.32Z"/><path d="M208.93 930.82L212.73 937.82L205.13 937.82Z"/><path d="M211.17 931.32L214.97 938.32L207.37 938.32Z"/><path d="M213.41 931.81L217.21 938.81L209.61 938.81Z"/><path d="M215.65 932.3L219.45 939.3L211.85 939.3Z"/><path d="M217.89 932.78L221.69 939.78L214.09 939.78Z"/><path d="M220.13 933.24L223.93 940.24L216.33 940.24Z"/><path d="M222.37 933.7L226.17 940.7L218.57 940.7Z"/><path d="M224.61 934.14L228.41 941.14L220.81 941.14Z"/><path d="M226.85 934.57L230.65 941.57L223.05 941.57Z"/><path d="M229.1 934.99L232.9 941.99L225.3 941.99Z"/><path d="M231.34 935.41L235.14 942.41L227.54 942.41Z"/><path d="M233.58 935.82L237.38 942.82L229.78 942.82Z"/><path d="M235.82 936.23L239.62 943.23L232.02 943.23Z"/><path d="M238.06 936.64L241.86 943.64L234.26 943.64Z"/><path d="M240.3 937.06L244.1 944.06L236.5 944.06Z"/><path d="M242.54 937.47L246.34 944.47L238.74 944.47Z"/><path d="M244.78 937.9L248.58 944.9L240.98 944.9Z"/><path d="M247.02 938.32L250.82 945.32L243.22 945.32Z"/><path d="M249.26 938.74L253.06 945.74L245.46 945.74Z"/><path d="M251.5 939.16L255.3 946.16L247.7 946.16Z"/><path d="M253.74 939.57L257.54 946.57L249.94 946.57Z"/><path d="M255.98 939.98L259.78 946.98L252.18 946.98Z"/><path d="M258.23 940.37L262.03 947.37L254.43 947.37Z"/><path d="M260.47 940.75L264.27 947.75L256.67 947.75Z"/><path d="M262.71 941.11L266.51 948.11L258.91 948.11Z"/><path d="M264.95 941.49L268.75 948.49L261.15 948.49Z"/><path d="M267.19 941.87L270.99 948.87L263.39 948.87Z"/><path d="M269.43 942.25L273.23 949.25L265.63 949.25Z"/><path d="M271.67 942.64L275.47 949.64L267.87 949.64Z"/><path d="M273.91 943.03L277.71 950.03L270.11 950.03Z"/><path d="M276.15 943.41L279.95 950.41L272.35 950.41Z"/><path d="M278.39 943.79L282.19 950.79L274.59 950.79Z"/><path d="M280.63 944.15L284.43 951.15L276.83 951.15Z"/><path d="M282.87 944.5L286.67 951.5L279.07 951.5Z"/><path d="M285.12 944.84L288.92 951.84L281.32 951.84Z"/><path d="M287.36 945.16L291.16 952.16L283.56 952.16Z"/><path d="M289.6 945.45L293.4 952.45L285.8 952.45Z"/><path d="M291.84 945.71L295.64 952.71L288.04 952.71Z"/><path d="M294.08 945.95L297.88 952.95L290.28 952.95Z"/><path d="M296.32 946.15L300.12 953.15L292.52 953.15Z"/><path d="M298.56 946.31L302.36 953.31L294.76 953.31Z"/><path d="M300.8 946.44L304.6 953.44L297 953.44Z"/><path d="M303.04 946.55L306.84 953.55L299.24 953.55Z"/><path d="M305.28 946.65L309.08 953.65L301.48 953.65Z"/><path d="M307.52 946.73L311.32 953.73L303.72 953.73Z"/><path d="M309.76 946.81L313.56 953.81L305.96 953.81Z"/><path d="M312 946.88L315.8 953.88L308.2 953.88Z"/><path d="M314.25 946.95L318.05 953.95L310.45 953.95Z"/><path d="M316.49 947.01L320.29 954.01L312.69 954.01Z"/><path d="M318.73 947.08L322.53 954.08L314.93 954.08Z"/><path d="M320.97 947.14L324.77 954.14L317.17 954.14Z"/><path d="M323.21 947.21L327.01 954.21L319.41 954.21Z"/><path d="M325.45 947.28L329.25 954.28L321.65 954.28Z"/><path d="M327.69 947.36L331.49 954.36L323.89 954.36Z"/><path d="M329.93 947.44L333.73 954.44L326.13 954.44Z"/><path d="M332.17 947.52L335.97 954.52L328.37 954.52Z"/><path d="M334.41 947.6L338.21 954.6L330.61 954.6Z"/><path d="M336.65 947.68L340.45 954.68L332.85 954.68Z"/><path d="M338.89 947.76L342.69 954.76L335.09 954.76Z"/><path d="M341.14 947.84L344.94 954.84L337.34 954.84Z"/><path d="M343.38 947.93L347.18 954.93L339.58 954.93Z"/><path d="M345.62 948.01L349.42 955.01L341.82 955.01Z"/><path d="M347.86 948.09L351.66 955.09L344.06 955.09Z"/><path d="M350.1 948.17L353.9 955.17L346.3 955.17Z"/><path d="M352.34 948.26L356.14 955.26L348.54 955.26Z"/><path d="M354.58 948.34L358.38 955.34L350.78 955.34Z"/><path d="M356.82 948.42L360.62 955.42L353.02 955.42Z"/><path d="M359.06 948.5L362.86 955.5L355.26 955.5Z"/><path d="M361.3 948.58L365.1 955.58L357.5 955.58Z"/><path d="M363.54 948.66L367.34 955.66L359.74 955.66Z"/><path d="M365.78 948.74L369.58 955.74L361.98 955.74Z"/><path d="M368.02 948.81L371.82 955.81L364.22 955.81Z"/><path d="M370.27 948.89L374.07 955.89L366.47 955.89Z"/><path d="M372.51 948.96L376.31 955.96L368.71 955.96Z"/><path d="M374.75 949.04L378.55 956.04L370.95 956.04Z"/><path d="M376.99 949.11L380.79 956.11L373.19 956.11Z"/><path d="M379.23 949.18L383.03 956.18L375.43 956.18Z"/><path d="M381.47 949.24L385.27 956.24L377.67 956.24Z"/><path d="M383.71 949.31L387.51 956.31L379.91 956.31Z"/><path d="M385.95 949.39L389.75 956.39L382.15 956.39Z"/><path d="M388.19 949.46L391.99 956.46L384.39 956.46Z"/><path d="M390.43 949.53L394.23 956.53L386.63 956.53Z"/><path d="M392.67 949.6L396.47 956.6L388.87 956.6Z"/><path d="M394.91 949.67L398.71 956.67L391.11 956.67Z"/><path d="M397.16 949.75L400.96 956.75L393.36 956.75Z"/><path d="M399.4 949.82L403.2 956.82L395.6 956.82Z"/><path d="M401.64 949.89L405.44 956.89L397.84 956.89Z"/><path d="M403.88 949.96L407.68 956.96L400.08 956.96Z"/><path d="M406.12 950.03L409.92 957.03L402.32 957.03Z"/><path d="M408.36 950.1L412.16 957.1L404.56 957.1Z"/><path d="M410.6 950.16L414.4 957.16L406.8 957.16Z"/><path d="M412.84 950.23L416.64 957.23L409.04 957.23Z"/><path d="M415.08 950.29L418.88 957.29L411.28 957.29Z"/><path d="M417.32 950.35L421.12 957.35L413.52 957.35Z"/><path d="M419.56 950.41L423.36 957.41L415.76 957.41Z"/><path d="M421.8 950.47L425.6 957.47L418 957.47Z"/><path d="M424.04 950.52L427.84 957.52L420.24 957.52Z"/><path d="M426.29 950.57L430.09 957.57L422.49 957.57Z"/><path d="M428.53 950.62L432.33 957.62L424.73 957.62Z"/><path d="M430.77 950.66L434.57 957.66L426.97 957.66Z"/><path d="M433.01 950.7L436.81 957.7L429.21 957.7Z"/><path d="M435.25 950.74L439.05 957.74L431.45 957.74Z"/><path d="M437.49 950.77L441.29 957.77L433.69 957.77Z"/><path d="M439.73 950.8L443.53 957.8L435.93 957.8Z"/><path d="M441.97 950.82L445.77 957.82L438.17 957.82Z"/><path d="M444.21 950.85L448.01 957.85L440.41 957.85Z"/><path d="M446.45 950.87L450.25 957.87L442.65 957.87Z"/><path d="M448.69 950.89L452.49 957.89L444.89 957.89Z"/><path d="M450.93 950.91L454.73 957.91L447.13 957.91Z"/><path d="M453.18 950.94L456.98 957.94L449.38 957.94Z"/><path d="M455.42 950.96L459.22 957.96L451.62 957.96Z"/><path d="M457.66 950.98L461.46 957.98L453.86 957.98Z"/><path d="M459.9 951L463.7 958L456.1 958Z"/><path d="M462.14 951.02L465.94 958.02L458.34 958.02Z"/><path d="M464.38 951.04L468.18 958.04L460.58 958.04Z"/><path d="M466.62 951.06L470.42 958.06L462.82 958.06Z"/><path d="M468.86 951.07L472.66 958.07L465.06 958.07Z"/><path d="M471.1 951.09L474.9 958.09L467.3 958.09Z"/><path d="M473.34 951.11L477.14 958.11L469.54 958.11Z"/><path d="M475.58 951.13L479.38 958.13L471.78 958.13Z"/><path d="M477.82 951.14L481.62 958.14L474.02 958.14Z"/><path d="M480.06 951.16L483.86 958.16L476.26 958.16Z"/><path d="M482.31 951.18L486.11 958.18L478.51 958.18Z"/><path d="M484.55 951.19L488.35 958.19L480.75 958.19Z"/><path d="M486.79 951.21L490.59 958.21L482.99 958.21Z"/><path d="M489.03 951.22L492.83 958.22L485.23 958.22Z"/><path d="M491.27 951.24L495.07 958.24L487.47 958.24Z"/><path d="M493.51 951.25L497.31 958.25L489.71 958.25Z"/><path d="M495.75 951.26L499.55 958.26L491.95 958.26Z"/><path d="M497.99 951.28L501.79 958.28L494.19 958.28Z"/><path d="M500.23 951.29L504.03 958.29L496.43 958.29Z"/><path d="M502.47 951.3L506.27 958.3L498.67 958.3Z"/><path d="M504.71 951.32L508.51 958.32L500.91 958.32Z"/><path d="M506.95 951.33L510.75 958.33L503.15 958.33Z"/><path d="M509.2 951.34L513 958.34L505.4 958.34Z"/><path d="M511.44 951.35L515.24 958.35L507.64 958.35Z"/><path d="M513.68 951.36L517.48 958.36L509.88 958.36Z"/><path d="M515.92 951.37L519.72 958.37L512.12 958.37Z"/><path d="M518.16 951.38L521.96 958.38L514.36 958.38Z"/><path d="M520.4 951.39L524.2 958.39L516.6 958.39Z"/><path d="M522.64 951.4L526.44 958.4L518.84 958.4Z"/><path d="M524.88 951.41L528.68 958.41L521.08 958.41Z"/><path d="M527.12 951.42L530.92 958.42L523.32 958.42Z"/><path d="M529.36 951.43L533.16 958.43L525.56 958.43Z"/><path d="M531.6 951.44L535.4 958.44L527.8 958.44Z"/><path d="M533.84 951.45L537.64 958.45L530.04 958.45Z"/><path d="M536.08 951.46L539.88 958.46L532.28 958.46Z"/><path d="M538.33 951.46L542.13 958.46L534.53 958.46Z"/><path d="M540.57 951.47L544.37 958.47L536.77 958.47Z"/><path d="M542.81 951.48L546.61 958.48L539.01 958.48Z"/><path d="M545.05 951.49L548.85 958.49L541.25 958.49Z"/><path d="M547.29 951.49L551.09 958.49L543.49 958.49Z"/><path d="M549.53 951.5L553.33 958.5L545.73 958.5Z"/><path d="M551.77 951.51L555.57 958.51L547.97 958.51Z"/><path d="M554.01 951.51L557.81 958.51L550.21 958.51Z"/><path d="M556.25 951.52L560.05 958.52L552.45 958.52Z"/><path d="M558.49 951.52L562.29 958.52L554.69 958.52Z"/><path d="M560.73 951.53L564.53 958.53L556.93 958.53Z"/><path d="M562.97 951.54L566.77 958.54L559.17 958.54Z"/><path d="M565.22 951.54L569.02 958.54L561.42 958.54Z"/><path d="M567.46 951.55L571.26 958.55L563.66 958.55Z"/><path d="M569.7 951.56L573.5 958.56L565.9 958.56Z"/><path d="M571.94 951.56L575.74 958.56L568.14 958.56Z"/><path d="M574.18 951.57L577.98 958.57L570.38 958.57Z"/><path d="M576.42 951.57L580.22 958.57L572.62 958.57Z"/><path d="M578.66 951.58L582.46 958.58L574.86 958.58Z"/><path d="M580.9 951.59L584.7 958.59L577.1 958.59Z"/><path d="M583.14 951.59L586.94 958.59L579.34 958.59Z"/><path d="M585.38 951.6L589.18 958.6L581.58 958.6Z"/><path d="M587.62 951.6L591.42 958.6L583.82 958.6Z"/><path d="M589.86 951.61L593.66 958.61L586.06 958.61Z"/><path d="M592.1 951.61L595.9 958.61L588.3 958.61Z"/><path d="M594.35 951.62L598.15 958.62L590.55 958.62Z"/><path d="M596.59 951.63L600.39 958.63L592.79 958.63Z"/><path d="M598.83 951.63L602.63 958.63L595.03 958.63Z"/><path d="M601.07 951.64L604.87 958.64L597.27 958.64Z"/><path d="M603.31 951.64L607.11 958.64L599.51 958.64Z"/><path d="M605.55 951.64L609.35 958.64L601.75 958.64Z"/><path d="M607.79 951.65L611.59 958.65L603.99 958.65Z"/><path d="M610.03 951.65L613.83 958.65L606.23 958.65Z"/><path d="M612.27 951.66L616.07 958.66L608.47 958.66Z"/><path d="M614.51 951.66L618.31 958.66L610.71 958.66Z"/><path d="M616.75 951.67L620.55 958.67L612.95 958.67Z"/><path d="M618.99 951.67L622.79 958.67L615.19 958.67Z"/><path d="M621.24 951.67L625.04 958.67L617.44 958.67Z"/><path d="M623.48 951.68L627.28 958.68L619.68 958.68Z"/><path d="M625.72 951.68L629.52 958.68L621.92 958.68Z"/><path d="M627.96 951.68L631.76 958.68L624.16 958.68Z"/><path d="M630.2 951.68L634 958.68L626.4 958.68Z"/><path d="M632.44 951.69L636.24 958.69L628.64 958.69Z"/><path d="M634.68 951.69L638.48 958.69L630.88 958.69Z"/><path d="M636.92 951.69L640.72 958.69L633.12 958.69Z"/><path d="M639.16 951.69L642.96 958.69L635.36 958.69Z"/><path d="M641.4 951.7L645.2 958.7L637.6 958.7Z"/><path d="M643.64 951.7L647.44 958.7L639.84 958.7Z"/><path d="M645.88 951.7L649.68 958.7L642.08 958.7Z"/><path d="M648.12 951.7L651.92 958.7L644.32 958.7Z"/><path d="M650.37 951.7L654.17 958.7L646.57 958.7Z"/><path d="M652.61 951.7L656.41 958.7L648.81 958.7Z"/><path d="M654.85 951.7L658.65 958.7L651.05 958.7Z"/></g>
<path d="M83.1 555.7 L85.5 569.2 L87.5 535 L90.8 569 L92 613.5 L94.9 640.5 L96 665 L97.1 690.9 L99.3 719.6 L101.5 744.7 L104.1 765.5 L105.8 784.2 L108.5 800.6 L110.2 814.4 L113 826.6 L115 836.2 L117.3 845.4 L119.7 853.3 L121.7 859.9 L124.3 865.5 L126.6 869.6 L128.84 873.59 L131.08 877.67 L133.32 881.3 L135.56 883.71 L137.8 886.69 L140.04 889.32 L142.29 891.51 L144.53 893.46 L146.77 895.17 L149.01 896.63 L151.25 897.86 L153.49 898.97 L155.73 899.97 L157.97 900.89 L160.21 901.74 L162.45 902.54 L164.69 903.29 L166.93 904.02 L169.18 904.74 L171.42 905.45 L173.66 906.12 L175.9 906.76 L178.14 907.37 L180.38 907.95 L182.62 908.52 L184.86 909.08 L187.1 909.63 L189.34 910.19 L191.58 910.75 L193.82 911.32 L196.06 911.91 L198.31 912.52 L200.55 913.16 L202.79 913.83 L205.03 914.53 L207.27 915.24 L209.51 915.96 L211.75 916.68 L213.99 917.39 L216.23 918.09 L218.47 918.76 L220.71 919.43 L222.95 920.1 L225.2 920.75 L227.44 921.4 L229.68 922.04 L231.92 922.67 L234.16 923.28 L236.4 923.87 L238.64 924.46 L240.88 925.04 L243.12 925.6 L245.36 926.14 L247.6 926.67 L249.84 927.17 L252.08 927.63 L254.33 928.07 L256.57 928.49 L258.81 928.91 L261.05 929.32 L263.29 929.75 L265.53 930.19 L267.77 930.65 L270.01 931.12 L272.25 931.59 L274.49 932.07 L276.73 932.55 L278.97 933.03 L281.22 933.49 L283.46 933.95 L285.7 934.38 L287.94 934.8 L290.18 935.19 L292.42 935.55 L294.66 935.88 L296.9 936.17 L299.14 936.42 L301.38 936.63 L303.62 936.82 L305.86 937 L308.1 937.17 L310.35 937.32 L312.59 937.47 L314.83 937.61 L317.07 937.74 L319.31 937.87 L321.55 937.99 L323.79 938.11 L326.03 938.23 L328.27 938.34 L330.51 938.46 L332.75 938.58 L334.99 938.7 L337.24 938.83 L339.48 938.97 L341.72 939.11 L343.96 939.25 L346.2 939.4 L348.44 939.54 L350.68 939.69 L352.92 939.84 L355.16 939.99 L357.4 940.13 L359.64 940.28 L361.88 940.43 L364.12 940.57 L366.37 940.71 L368.61 940.85 L370.85 940.99 L373.09 941.12 L375.33 941.25 L377.57 941.37 L379.81 941.49 L382.05 941.61 L384.29 941.73 L386.53 941.85 L388.77 941.97 L391.01 942.09 L393.26 942.21 L395.5 942.34 L397.74 942.46 L399.98 942.58 L402.22 942.7 L404.46 942.82 L406.7 942.93 L408.94 943.05 L411.18 943.16 L413.42 943.26 L415.66 943.36 L417.9 943.46 L420.14 943.56 L422.39 943.64 L424.63 943.73 L426.87 943.8 L429.11 943.87 L431.35 943.93 L433.59 943.99 L435.83 944.03 L438.07 944.07 L440.31 944.1 L442.55 944.13 L444.79 944.16 L447.03 944.18 L449.28 944.21 L451.52 944.23 L453.76 944.25 L456 944.27 L458.24 944.3 L460.48 944.32 L462.72 944.34 L464.96 944.36 L467.2 944.38 L469.44 944.4 L471.68 944.41 L473.92 944.43 L476.16 944.45 L478.41 944.47 L480.65 944.48 L482.89 944.5 L485.13 944.51 L487.37 944.53 L489.61 944.54 L491.85 944.56 L494.09 944.57 L496.33 944.58 L498.57 944.59 L500.81 944.61 L503.05 944.62 L505.3 944.63 L507.54 944.64 L509.78 944.65 L512.02 944.66 L514.26 944.67 L516.5 944.68 L518.74 944.69 L520.98 944.7 L523.22 944.71 L525.46 944.72 L527.7 944.73 L529.94 944.74 L532.18 944.74 L534.43 944.75 L536.67 944.76 L538.91 944.77 L541.15 944.77 L543.39 944.78 L545.63 944.79 L547.87 944.79 L550.11 944.8 L552.35 944.81 L554.59 944.81 L556.83 944.82 L559.07 944.83 L561.32 944.83 L563.56 944.84 L565.8 944.85 L568.04 944.85 L570.28 944.86 L572.52 944.86 L574.76 944.87 L577 944.88 L579.24 944.88 L581.48 944.89 L583.72 944.89 L585.96 944.9 L588.2 944.91 L590.45 944.91 L592.69 944.92 L594.93 944.92 L597.17 944.93 L599.41 944.93 L601.65 944.94 L603.89 944.94 L606.13 944.95 L608.37 944.95 L610.61 944.95 L612.85 944.96 L615.09 944.96 L617.34 944.97 L619.58 944.97 L621.82 944.97 L624.06 944.98 L626.3 944.98 L628.54 944.98 L630.78 944.99 L633.02 944.99 L635.26 944.99 L637.5 944.99 L639.74 944.99 L641.98 945 L644.22 945 L646.47 945 L648.71 945 L650.95 945 L653.19 945" fill="none" stroke="#008080" stroke-width="1.1" stroke-linejoin="round"/>
<g fill="#008080"><path d="M79.3 552.2L86.9 552.2L83.1 559.2Z"/><path d="M81.7 565.7L89.3 565.7L85.5 572.7Z"/><path d="M83.7 531.5L91.3 531.5L87.5 538.5Z"/><path d="M87 565.5L94.6 565.5L90.8 572.5Z"/><path d="M88.2 610L95.8 610L92 617Z"/><path d="M91.1 637L98.7 637L94.9 644Z"/><path d="M92.2 661.5L99.8 661.5L96 668.5Z"/><path d="M93.3 687.4L100.9 687.4L97.1 694.4Z"/><path d="M95.5 716.1L103.1 716.1L99.3 723.1Z"/><path d="M97.7 741.2L105.3 741.2L101.5 748.2Z"/><path d="M100.3 762L107.9 762L104.1 769Z"/><path d="M102 780.7L109.6 780.7L105.8 787.7Z"/><path d="M104.7 797.1L112.3 797.1L108.5 804.1Z"/><path d="M106.4 810.9L114 810.9L110.2 817.9Z"/><path d="M109.2 823.1L116.8 823.1L113 830.1Z"/><path d="M111.2 832.7L118.8 832.7L115 839.7Z"/><path d="M113.5 841.9L121.1 841.9L117.3 848.9Z"/><path d="M115.9 849.8L123.5 849.8L119.7 856.8Z"/><path d="M117.9 856.4L125.5 856.4L121.7 863.4Z"/><path d="M120.5 862L128.1 862L124.3 869Z"/><path d="M122.8 866.1L130.4 866.1L126.6 873.1Z"/><path d="M125.04 870.09L132.64 870.09L128.84 877.09Z"/><path d="M127.28 874.17L134.88 874.17L131.08 881.17Z"/><path d="M129.52 877.8L137.12 877.8L133.32 884.8Z"/><path d="M131.76 880.21L139.36 880.21L135.56 887.21Z"/><path d="M134 883.19L141.6 883.19L137.8 890.19Z"/><path d="M136.24 885.82L143.84 885.82L140.04 892.82Z"/><path d="M138.49 888.01L146.09 888.01L142.29 895.01Z"/><path d="M140.73 889.96L148.33 889.96L144.53 896.96Z"/><path d="M142.97 891.67L150.57 891.67L146.77 898.67Z"/><path d="M145.21 893.13L152.81 893.13L149.01 900.13Z"/><path d="M147.45 894.36L155.05 894.36L151.25 901.36Z"/><path d="M149.69 895.47L157.29 895.47L153.49 902.47Z"/><path d="M151.93 896.47L159.53 896.47L155.73 903.47Z"/><path d="M154.17 897.39L161.77 897.39L157.97 904.39Z"/><path d="M156.41 898.24L164.01 898.24L160.21 905.24Z"/><path d="M158.65 899.04L166.25 899.04L162.45 906.04Z"/><path d="M160.89 899.79L168.49 899.79L164.69 906.79Z"/><path d="M163.13 900.52L170.73 900.52L166.93 907.52Z"/><path d="M165.38 901.24L172.98 901.24L169.18 908.24Z"/><path d="M167.62 901.95L175.22 901.95L171.42 908.95Z"/><path d="M169.86 902.62L177.46 902.62L173.66 909.62Z"/><path d="M172.1 903.26L179.7 903.26L175.9 910.26Z"/><path d="M174.34 903.87L181.94 903.87L178.14 910.87Z"/><path d="M176.58 904.45L184.18 904.45L180.38 911.45Z"/><path d="M178.82 905.02L186.42 905.02L182.62 912.02Z"/><path d="M181.06 905.58L188.66 905.58L184.86 912.58Z"/><path d="M183.3 906.13L190.9 906.13L187.1 913.13Z"/><path d="M185.54 906.69L193.14 906.69L189.34 913.69Z"/><path d="M187.78 907.25L195.38 907.25L191.58 914.25Z"/><path d="M190.02 907.82L197.62 907.82L193.82 914.82Z"/><path d="M192.26 908.41L199.86 908.41L196.06 915.41Z"/><path d="M194.51 909.02L202.11 909.02L198.31 916.02Z"/><path d="M196.75 909.66L204.35 909.66L200.55 916.66Z"/><path d="M198.99 910.33L206.59 910.33L202.79 917.33Z"/><path d="M201.23 911.03L208.83 911.03L205.03 918.03Z"/><path d="M203.47 911.74L211.07 911.74L207.27 918.74Z"/><path d="M205.71 912.46L213.31 912.46L209.51 919.46Z"/><path d="M207.95 913.18L215.55 913.18L211.75 920.18Z"/><path d="M210.19 913.89L217.79 913.89L213.99 920.89Z"/><path d="M212.43 914.59L220.03 914.59L216.23 921.59Z"/><path d="M214.67 915.26L222.27 915.26L218.47 922.26Z"/><path d="M216.91 915.93L224.51 915.93L220.71 922.93Z"/><path d="M219.15 916.6L226.75 916.6L222.95 923.6Z"/><path d="M221.4 917.25L229 917.25L225.2 924.25Z"/><path d="M223.64 917.9L231.24 917.9L227.44 924.9Z"/><path d="M225.88 918.54L233.48 918.54L229.68 925.54Z"/><path d="M228.12 919.17L235.72 919.17L231.92 926.17Z"/><path d="M230.36 919.78L237.96 919.78L234.16 926.78Z"/><path d="M232.6 920.37L240.2 920.37L236.4 927.37Z"/><path d="M234.84 920.96L242.44 920.96L238.64 927.96Z"/><path d="M237.08 921.54L244.68 921.54L240.88 928.54Z"/><path d="M239.32 922.1L246.92 922.1L243.12 929.1Z"/><path d="M241.56 922.64L249.16 922.64L245.36 929.64Z"/><path d="M243.8 923.17L251.4 923.17L247.6 930.17Z"/><path d="M246.04 923.67L253.64 923.67L249.84 930.67Z"/><path d="M248.28 924.13L255.88 924.13L252.08 931.13Z"/><path d="M250.53 924.57L258.13 924.57L254.33 931.57Z"/><path d="M252.77 924.99L260.37 924.99L256.57 931.99Z"/><path d="M255.01 925.41L262.61 925.41L258.81 932.41Z"/><path d="M257.25 925.82L264.85 925.82L261.05 932.82Z"/><path d="M259.49 926.25L267.09 926.25L263.29 933.25Z"/><path d="M261.73 926.69L269.33 926.69L265.53 933.69Z"/><path d="M263.97 927.15L271.57 927.15L267.77 934.15Z"/><path d="M266.21 927.62L273.81 927.62L270.01 934.62Z"/><path d="M268.45 928.09L276.05 928.09L272.25 935.09Z"/><path d="M270.69 928.57L278.29 928.57L274.49 935.57Z"/><path d="M272.93 929.05L280.53 929.05L276.73 936.05Z"/><path d="M275.17 929.53L282.77 929.53L278.97 936.53Z"/><path d="M277.42 929.99L285.02 929.99L281.22 936.99Z"/><path d="M279.66 930.45L287.26 930.45L283.46 937.45Z"/><path d="M281.9 930.88L289.5 930.88L285.7 937.88Z"/><path d="M284.14 931.3L291.74 931.3L287.94 938.3Z"/><path d="M286.38 931.69L293.98 931.69L290.18 938.69Z"/><path d="M288.62 932.05L296.22 932.05L292.42 939.05Z"/><path d="M290.86 932.38L298.46 932.38L294.66 939.38Z"/><path d="M293.1 932.67L300.7 932.67L296.9 939.67Z"/><path d="M295.34 932.92L302.94 932.92L299.14 939.92Z"/><path d="M297.58 933.13L305.18 933.13L301.38 940.13Z"/><path d="M299.82 933.32L307.42 933.32L303.62 940.32Z"/><path d="M302.06 933.5L309.66 933.5L305.86 940.5Z"/><path d="M304.3 933.67L311.9 933.67L308.1 940.67Z"/><path d="M306.55 933.82L314.15 933.82L310.35 940.82Z"/><path d="M308.79 933.97L316.39 933.97L312.59 940.97Z"/><path d="M311.03 934.11L318.63 934.11L314.83 941.11Z"/><path d="M313.27 934.24L320.87 934.24L317.07 941.24Z"/><path d="M315.51 934.37L323.11 934.37L319.31 941.37Z"/><path d="M317.75 934.49L325.35 934.49L321.55 941.49Z"/><path d="M319.99 934.61L327.59 934.61L323.79 941.61Z"/><path d="M322.23 934.73L329.83 934.73L326.03 941.73Z"/><path d="M324.47 934.84L332.07 934.84L328.27 941.84Z"/><path d="M326.71 934.96L334.31 934.96L330.51 941.96Z"/><path d="M328.95 935.08L336.55 935.08L332.75 942.08Z"/><path d="M331.19 935.2L338.79 935.2L334.99 942.2Z"/><path d="M333.44 935.33L341.04 935.33L337.24 942.33Z"/><path d="M335.68 935.47L343.28 935.47L339.48 942.47Z"/><path d="M337.92 935.61L345.52 935.61L341.72 942.61Z"/><path d="M340.16 935.75L347.76 935.75L343.96 942.75Z"/><path d="M342.4 935.9L350 935.9L346.2 942.9Z"/><path d="M344.64 936.04L352.24 936.04L348.44 943.04Z"/><path d="M346.88 936.19L354.48 936.19L350.68 943.19Z"/><path d="M349.12 936.34L356.72 936.34L352.92 943.34Z"/><path d="M351.36 936.49L358.96 936.49L355.16 943.49Z"/><path d="M353.6 936.63L361.2 936.63L357.4 943.63Z"/><path d="M355.84 936.78L363.44 936.78L359.64 943.78Z"/><path d="M358.08 936.93L365.68 936.93L361.88 943.93Z"/><path d="M360.32 937.07L367.92 937.07L364.12 944.07Z"/><path d="M362.57 937.21L370.17 937.21L366.37 944.21Z"/><path d="M364.81 937.35L372.41 937.35L368.61 944.35Z"/><path d="M367.05 937.49L374.65 937.49L370.85 944.49Z"/><path d="M369.29 937.62L376.89 937.62L373.09 944.62Z"/><path d="M371.53 937.75L379.13 937.75L375.33 944.75Z"/><path d="M373.77 937.87L381.37 937.87L377.57 944.87Z"/><path d="M376.01 937.99L383.61 937.99L379.81 944.99Z"/><path d="M378.25 938.11L385.85 938.11L382.05 945.11Z"/><path d="M380.49 938.23L388.09 938.23L384.29 945.23Z"/><path d="M382.73 938.35L390.33 938.35L386.53 945.35Z"/><path d="M384.97 938.47L392.57 938.47L388.77 945.47Z"/><path d="M387.21 938.59L394.81 938.59L391.01 945.59Z"/><path d="M389.46 938.71L397.06 938.71L393.26 945.71Z"/><path d="M391.7 938.84L399.3 938.84L395.5 945.84Z"/><path d="M393.94 938.96L401.54 938.96L397.74 945.96Z"/><path d="M396.18 939.08L403.78 939.08L399.98 946.08Z"/><path d="M398.42 939.2L406.02 939.2L402.22 946.2Z"/><path d="M400.66 939.32L408.26 939.32L404.46 946.32Z"/><path d="M402.9 939.43L410.5 939.43L406.7 946.43Z"/><path d="M405.14 939.55L412.74 939.55L408.94 946.55Z"/><path d="M407.38 939.66L414.98 939.66L411.18 946.66Z"/><path d="M409.62 939.76L417.22 939.76L413.42 946.76Z"/><path d="M411.86 939.86L419.46 939.86L415.66 946.86Z"/><path d="M414.1 939.96L421.7 939.96L417.9 946.96Z"/><path d="M416.34 940.06L423.94 940.06L420.14 947.06Z"/><path d="M418.59 940.14L426.19 940.14L422.39 947.14Z"/><path d="M420.83 940.23L428.43 940.23L424.63 947.23Z"/><path d="M423.07 940.3L430.67 940.3L426.87 947.3Z"/><path d="M425.31 940.37L432.91 940.37L429.11 947.37Z"/><path d="M427.55 940.43L435.15 940.43L431.35 947.43Z"/><path d="M429.79 940.49L437.39 940.49L433.59 947.49Z"/><path d="M432.03 940.53L439.63 940.53L435.83 947.53Z"/><path d="M434.27 940.57L441.87 940.57L438.07 947.57Z"/><path d="M436.51 940.6L444.11 940.6L440.31 947.6Z"/><path d="M438.75 940.63L446.35 940.63L442.55 947.63Z"/><path d="M440.99 940.66L448.59 940.66L444.79 947.66Z"/><path d="M443.23 940.68L450.83 940.68L447.03 947.68Z"/><path d="M445.48 940.71L453.08 940.71L449.28 947.71Z"/><path d="M447.72 940.73L455.32 940.73L451.52 947.73Z"/><path d="M449.96 940.75L457.56 940.75L453.76 947.75Z"/><path d="M452.2 940.77L459.8 940.77L456 947.77Z"/><path d="M454.44 940.8L462.04 940.8L458.24 947.8Z"/><path d="M456.68 940.82L464.28 940.82L460.48 947.82Z"/><path d="M458.92 940.84L466.52 940.84L462.72 947.84Z"/><path d="M461.16 940.86L468.76 940.86L464.96 947.86Z"/><path d="M463.4 940.88L471 940.88L467.2 947.88Z"/><path d="M465.64 940.9L473.24 940.9L469.44 947.9Z"/><path d="M467.88 940.91L475.48 940.91L471.68 947.91Z"/><path d="M470.12 940.93L477.72 940.93L473.92 947.93Z"/><path d="M472.36 940.95L479.96 940.95L476.16 947.95Z"/><path d="M474.61 940.97L482.21 940.97L478.41 947.97Z"/><path d="M476.85 940.98L484.45 940.98L480.65 947.98Z"/><path d="M479.09 941L486.69 941L482.89 948Z"/><path d="M481.33 941.01L488.93 941.01L485.13 948.01Z"/><path d="M483.57 941.03L491.17 941.03L487.37 948.03Z"/><path d="M485.81 941.04L493.41 941.04L489.61 948.04Z"/><path d="M488.05 941.06L495.65 941.06L491.85 948.06Z"/><path d="M490.29 941.07L497.89 941.07L494.09 948.07Z"/><path d="M492.53 941.08L500.13 941.08L496.33 948.08Z"/><path d="M494.77 941.09L502.37 941.09L498.57 948.09Z"/><path d="M497.01 941.11L504.61 941.11L500.81 948.11Z"/><path d="M499.25 941.12L506.85 941.12L503.05 948.12Z"/><path d="M501.5 941.13L509.1 941.13L505.3 948.13Z"/><path d="M503.74 941.14L511.34 941.14L507.54 948.14Z"/><path d="M505.98 941.15L513.58 941.15L509.78 948.15Z"/><path d="M508.22 941.16L515.82 941.16L512.02 948.16Z"/><path d="M510.46 941.17L518.06 941.17L514.26 948.17Z"/><path d="M512.7 941.18L520.3 941.18L516.5 948.18Z"/><path d="M514.94 941.19L522.54 941.19L518.74 948.19Z"/><path d="M517.18 941.2L524.78 941.2L520.98 948.2Z"/><path d="M519.42 941.21L527.02 941.21L523.22 948.21Z"/><path d="M521.66 941.22L529.26 941.22L525.46 948.22Z"/><path d="M523.9 941.23L531.5 941.23L527.7 948.23Z"/><path d="M526.14 941.24L533.74 941.24L529.94 948.24Z"/><path d="M528.38 941.24L535.98 941.24L532.18 948.24Z"/><path d="M530.63 941.25L538.23 941.25L534.43 948.25Z"/><path d="M532.87 941.26L540.47 941.26L536.67 948.26Z"/><path d="M535.11 941.27L542.71 941.27L538.91 948.27Z"/><path d="M537.35 941.27L544.95 941.27L541.15 948.27Z"/><path d="M539.59 941.28L547.19 941.28L543.39 948.28Z"/><path d="M541.83 941.29L549.43 941.29L545.63 948.29Z"/><path d="M544.07 941.29L551.67 941.29L547.87 948.29Z"/><path d="M546.31 941.3L553.91 941.3L550.11 948.3Z"/><path d="M548.55 941.31L556.15 941.31L552.35 948.31Z"/><path d="M550.79 941.31L558.39 941.31L554.59 948.31Z"/><path d="M553.03 941.32L560.63 941.32L556.83 948.32Z"/><path d="M555.27 941.33L562.87 941.33L559.07 948.33Z"/><path d="M557.52 941.33L565.12 941.33L561.32 948.33Z"/><path d="M559.76 941.34L567.36 941.34L563.56 948.34Z"/><path d="M562 941.35L569.6 941.35L565.8 948.35Z"/><path d="M564.24 941.35L571.84 941.35L568.04 948.35Z"/><path d="M566.48 941.36L574.08 941.36L570.28 948.36Z"/><path d="M568.72 941.36L576.32 941.36L572.52 948.36Z"/><path d="M570.96 941.37L578.56 941.37L574.76 948.37Z"/><path d="M573.2 941.38L580.8 941.38L577 948.38Z"/><path d="M575.44 941.38L583.04 941.38L579.24 948.38Z"/><path d="M577.68 941.39L585.28 941.39L581.48 948.39Z"/><path d="M579.92 941.39L587.52 941.39L583.72 948.39Z"/><path d="M582.16 941.4L589.76 941.4L585.96 948.4Z"/><path d="M584.4 941.41L592 941.41L588.2 948.41Z"/><path d="M586.65 941.41L594.25 941.41L590.45 948.41Z"/><path d="M588.89 941.42L596.49 941.42L592.69 948.42Z"/><path d="M591.13 941.42L598.73 941.42L594.93 948.42Z"/><path d="M593.37 941.43L600.97 941.43L597.17 948.43Z"/><path d="M595.61 941.43L603.21 941.43L599.41 948.43Z"/><path d="M597.85 941.44L605.45 941.44L601.65 948.44Z"/><path d="M600.09 941.44L607.69 941.44L603.89 948.44Z"/><path d="M602.33 941.45L609.93 941.45L606.13 948.45Z"/><path d="M604.57 941.45L612.17 941.45L608.37 948.45Z"/><path d="M606.81 941.45L614.41 941.45L610.61 948.45Z"/><path d="M609.05 941.46L616.65 941.46L612.85 948.46Z"/><path d="M611.29 941.46L618.89 941.46L615.09 948.46Z"/><path d="M613.54 941.47L621.14 941.47L617.34 948.47Z"/><path d="M615.78 941.47L623.38 941.47L619.58 948.47Z"/><path d="M618.02 941.47L625.62 941.47L621.82 948.47Z"/><path d="M620.26 941.48L627.86 941.48L624.06 948.48Z"/><path d="M622.5 941.48L630.1 941.48L626.3 948.48Z"/><path d="M624.74 941.48L632.34 941.48L628.54 948.48Z"/><path d="M626.98 941.49L634.58 941.49L630.78 948.49Z"/><path d="M629.22 941.49L636.82 941.49L633.02 948.49Z"/><path d="M631.46 941.49L639.06 941.49L635.26 948.49Z"/><path d="M633.7 941.49L641.3 941.49L637.5 948.49Z"/><path d="M635.94 941.49L643.54 941.49L639.74 948.49Z"/><path d="M638.18 941.5L645.78 941.5L641.98 948.5Z"/><path d="M640.42 941.5L648.02 941.5L644.22 948.5Z"/><path d="M642.67 941.5L650.27 941.5L646.47 948.5Z"/><path d="M644.91 941.5L652.51 941.5L648.71 948.5Z"/><path d="M647.15 941.5L654.75 941.5L650.95 948.5Z"/><path d="M649.39 941.5L656.99 941.5L653.19 948.5Z"/></g>
<path d="M98.6 530 L98.6 598.2 L101.5 622.3 L102.9 636.1 L105.4 650.7 L107.7 670.9 L109.8 683.6 L112.4 695.5 L114.6 708.6 L116.8 718.5 L119 729.4 L121.6 739.3 L123.4 745.8 L125.6 752.4 L127.7 759.6 L130.4 766.2 L132.1 772.8 L135.4 777.6 L138.7 783 L141 788 L143 790.7 L145.5 795 L148.5 798.4 L151 802.5 L154 805.5 L156.5 808 L159.1 798.4 L161.5 803.5 L164 807 L166.5 810 L169.3 814 L171.5 816.21 L173.74 818.41 L175.98 820.54 L178.22 822.61 L180.46 824.54 L182.7 826.38 L184.94 828.27 L187.19 830.39 L189.43 832.88 L191.67 835.6 L193.91 838.25 L196.15 840.66 L198.39 843.01 L200.63 845.29 L202.87 847.52 L205.11 849.69 L207.35 851.81 L209.59 853.87 L211.83 855.83 L214.08 857.73 L216.32 859.6 L218.56 861.5 L220.8 863.46 L223.04 865.53 L225.28 867.71 L227.52 869.95 L229.76 872.17 L232 874.31 L234.24 876.29 L236.48 878.09 L238.72 879.8 L240.96 881.43 L243.21 883 L245.45 884.55 L247.69 886.09 L249.93 887.65 L252.17 889.25 L254.41 890.88 L256.65 892.49 L258.89 894.03 L261.13 895.44 L263.37 896.7 L265.61 897.88 L267.85 898.99 L270.1 900.04 L272.34 901.04 L274.58 902.01 L276.82 902.94 L279.06 903.85 L281.3 904.74 L283.54 905.62 L285.78 906.47 L288.02 907.28 L290.26 908.03 L292.5 908.73 L294.74 909.34 L296.98 909.85 L299.23 910.33 L301.47 910.84 L303.71 911.37 L305.95 911.92 L308.19 912.47 L310.43 913.03 L312.67 913.59 L314.91 914.14 L317.15 914.67 L319.39 915.18 L321.63 915.67 L323.87 916.13 L326.12 916.55 L328.36 916.93 L330.6 917.29 L332.84 917.62 L335.08 917.94 L337.32 918.24 L339.56 918.54 L341.8 918.84 L344.04 919.13 L346.28 919.42 L348.52 919.7 L350.76 919.97 L353 920.23 L355.25 920.47 L357.49 920.7 L359.73 920.92 L361.97 921.12 L364.21 921.32 L366.45 921.51 L368.69 921.69 L370.93 921.86 L373.17 922.03 L375.41 922.19 L377.65 922.34 L379.89 922.49 L382.14 922.63 L384.38 922.77 L386.62 922.89 L388.86 923.02 L391.1 923.13 L393.34 923.25 L395.58 923.37 L397.82 923.48 L400.06 923.6 L402.3 923.73 L404.54 923.85 L406.78 923.98 L409.02 924.11 L411.27 924.23 L413.51 924.36 L415.75 924.47 L417.99 924.59 L420.23 924.69 L422.47 924.79 L424.71 924.88 L426.95 924.97 L429.19 925.05 L431.43 925.14 L433.67 925.22 L435.91 925.3 L438.16 925.37 L440.4 925.44 L442.64 925.52 L444.88 925.58 L447.12 925.65 L449.36 925.72 L451.6 925.78 L453.84 925.84 L456.08 925.9 L458.32 925.96 L460.56 926.01 L462.8 926.07 L465.04 926.12 L467.29 926.17 L469.53 926.23 L471.77 926.28 L474.01 926.32 L476.25 926.37 L478.49 926.42 L480.73 926.46 L482.97 926.51 L485.21 926.55 L487.45 926.59 L489.69 926.63 L491.93 926.67 L494.18 926.71 L496.42 926.75 L498.66 926.78 L500.9 926.81 L503.14 926.85 L505.38 926.88 L507.62 926.91 L509.86 926.95 L512.1 926.98 L514.34 927.02 L516.58 927.05 L518.82 927.09 L521.06 927.12 L523.31 927.15 L525.55 927.19 L527.79 927.22 L530.03 927.26 L532.27 927.29 L534.51 927.32 L536.75 927.35 L538.99 927.39 L541.23 927.42 L543.47 927.45 L545.71 927.48 L547.95 927.51 L550.2 927.54 L552.44 927.57 L554.68 927.59 L556.92 927.62 L559.16 927.65 L561.4 927.67 L563.64 927.69 L565.88 927.72 L568.12 927.74 L570.36 927.76 L572.6 927.78 L574.84 927.8 L577.08 927.81 L579.33 927.83 L581.57 927.84 L583.81 927.86 L586.05 927.87 L588.29 927.88 L590.53 927.88 L592.77 927.89 L595.01 927.9 L597.25 927.9 L599.49 927.9 L601.73 927.9 L603.97 927.9 L606.22 927.9 L608.46 927.9 L610.7 927.9 L612.94 927.9 L615.18 927.9 L617.42 927.9 L619.66 927.9 L621.9 927.9 L624.14 927.9 L626.38 927.9 L628.62 927.9 L630.86 927.9 L633.1 927.9 L635.35 927.9 L637.59 927.9 L639.83 927.9 L642.07 927.9 L644.31 927.9 L646.55 927.9 L648.79 927.9 L651.03 927.9 L653.27 927.9" fill="none" stroke="#ff00ff" stroke-width="1.1" stroke-linejoin="round"/>
<g fill="#ff00ff"><path d="M95.1 530L102.1 526.3L102.1 533.7Z"/><path d="M95.1 598.2L102.1 594.5L102.1 601.9Z"/><path d="M98 622.3L105 618.6L105 626Z"/><path d="M99.4 636.1L106.4 632.4L106.4 639.8Z"/><path d="M101.9 650.7L108.9 647L108.9 654.4Z"/><path d="M104.2 670.9L111.2 667.2L111.2 674.6Z"/><path d="M106.3 683.6L113.3 679.9L113.3 687.3Z"/><path d="M108.9 695.5L115.9 691.8L115.9 699.2Z"/><path d="M111.1 708.6L118.1 704.9L118.1 712.3Z"/><path d="M113.3 718.5L120.3 714.8L120.3 722.2Z"/><path d="M115.5 729.4L122.5 725.7L122.5 733.1Z"/><path d="M118.1 739.3L125.1 735.6L125.1 743Z"/><path d="M119.9 745.8L126.9 742.1L126.9 749.5Z"/><path d="M122.1 752.4L129.1 748.7L129.1 756.1Z"/><path d="M124.2 759.6L131.2 755.9L131.2 763.3Z"/><path d="M126.9 766.2L133.9 762.5L133.9 769.9Z"/><path d="M128.6 772.8L135.6 769.1L135.6 776.5Z"/><path d="M131.9 777.6L138.9 773.9L138.9 781.3Z"/><path d="M135.2 783L142.2 779.3L142.2 786.7Z"/><path d="M137.5 788L144.5 784.3L144.5 791.7Z"/><path d="M139.5 790.7L146.5 787L146.5 794.4Z"/><path d="M142 795L149 791.3L149 798.7Z"/><path d="M145 798.4L152 794.7L152 802.1Z"/><path d="M147.5 802.5L154.5 798.8L154.5 806.2Z"/><path d="M150.5 805.5L157.5 801.8L157.5 809.2Z"/><path d="M153 808L160 804.3L160 811.7Z"/><path d="M155.6 798.4L162.6 794.7L162.6 802.1Z"/><path d="M158 803.5L165 799.8L165 807.2Z"/><path d="M160.5 807L167.5 803.3L167.5 810.7Z"/><path d="M163 810L170 806.3L170 813.7Z"/><path d="M165.8 814L172.8 810.3L172.8 817.7Z"/><path d="M168 816.21L175 812.51L175 819.91Z"/><path d="M170.24 818.41L177.24 814.71L177.24 822.11Z"/><path d="M172.48 820.54L179.48 816.84L179.48 824.24Z"/><path d="M174.72 822.61L181.72 818.91L181.72 826.31Z"/><path d="M176.96 824.54L183.96 820.84L183.96 828.24Z"/><path d="M179.2 826.38L186.2 822.68L186.2 830.08Z"/><path d="M181.44 828.27L188.44 824.57L188.44 831.97Z"/><path d="M183.69 830.39L190.69 826.69L190.69 834.09Z"/><path d="M185.93 832.88L192.93 829.18L192.93 836.58Z"/><path d="M188.17 835.6L195.17 831.9L195.17 839.3Z"/><path d="M190.41 838.25L197.41 834.55L197.41 841.95Z"/><path d="M192.65 840.66L199.65 836.96L199.65 844.36Z"/><path d="M194.89 843.01L201.89 839.31L201.89 846.71Z"/><path d="M197.13 845.29L204.13 841.59L204.13 848.99Z"/><path d="M199.37 847.52L206.37 843.82L206.37 851.22Z"/><path d="M201.61 849.69L208.61 845.99L208.61 853.39Z"/><path d="M203.85 851.81L210.85 848.11L210.85 855.51Z"/><path d="M206.09 853.87L213.09 850.17L213.09 857.57Z"/><path d="M208.33 855.83L215.33 852.13L215.33 859.53Z"/><path d="M210.58 857.73L217.58 854.03L217.58 861.43Z"/><path d="M212.82 859.6L219.82 855.9L219.82 863.3Z"/><path d="M215.06 861.5L222.06 857.8L222.06 865.2Z"/><path d="M217.3 863.46L224.3 859.76L224.3 867.16Z"/><path d="M219.54 865.53L226.54 861.83L226.54 869.23Z"/><path d="M221.78 867.71L228.78 864.01L228.78 871.41Z"/><path d="M224.02 869.95L231.02 866.25L231.02 873.65Z"/><path d="M226.26 872.17L233.26 868.47L233.26 875.87Z"/><path d="M228.5 874.31L235.5 870.61L235.5 878.01Z"/><path d="M230.74 876.29L237.74 872.59L237.74 879.99Z"/><path d="M232.98 878.09L239.98 874.39L239.98 881.79Z"/><path d="M235.22 879.8L242.22 876.1L242.22 883.5Z"/><path d="M237.46 881.43L244.46 877.73L244.46 885.13Z"/><path d="M239.71 883L246.71 879.3L246.71 886.7Z"/><path d="M241.95 884.55L248.95 880.85L248.95 888.25Z"/><path d="M244.19 886.09L251.19 882.39L251.19 889.79Z"/><path d="M246.43 887.65L253.43 883.95L253.43 891.35Z"/><path d="M248.67 889.25L255.67 885.55L255.67 892.95Z"/><path d="M250.91 890.88L257.91 887.18L257.91 894.58Z"/><path d="M253.15 892.49L260.15 888.79L260.15 896.19Z"/><path d="M255.39 894.03L262.39 890.33L262.39 897.73Z"/><path d="M257.63 895.44L264.63 891.74L264.63 899.14Z"/><path d="M259.87 896.7L266.87 893L266.87 900.4Z"/><path d="M262.11 897.88L269.11 894.18L269.11 901.58Z"/><path d="M264.35 898.99L271.35 895.29L271.35 902.69Z"/><path d="M266.6 900.04L273.6 896.34L273.6 903.74Z"/><path d="M268.84 901.04L275.84 897.34L275.84 904.74Z"/><path d="M271.08 902.01L278.08 898.31L278.08 905.71Z"/><path d="M273.32 902.94L280.32 899.24L280.32 906.64Z"/><path d="M275.56 903.85L282.56 900.15L282.56 907.55Z"/><path d="M277.8 904.74L284.8 901.04L284.8 908.44Z"/><path d="M280.04 905.62L287.04 901.92L287.04 909.32Z"/><path d="M282.28 906.47L289.28 902.77L289.28 910.17Z"/><path d="M284.52 907.28L291.52 903.58L291.52 910.98Z"/><path d="M286.76 908.03L293.76 904.33L293.76 911.73Z"/><path d="M289 908.73L296 905.03L296 912.43Z"/><path d="M291.24 909.34L298.24 905.64L298.24 913.04Z"/><path d="M293.48 909.85L300.48 906.15L300.48 913.55Z"/><path d="M295.73 910.33L302.73 906.63L302.73 914.03Z"/><path d="M297.97 910.84L304.97 907.14L304.97 914.54Z"/><path d="M300.21 911.37L307.21 907.67L307.21 915.07Z"/><path d="M302.45 911.92L309.45 908.22L309.45 915.62Z"/><path d="M304.69 912.47L311.69 908.77L311.69 916.17Z"/><path d="M306.93 913.03L313.93 909.33L313.93 916.73Z"/><path d="M309.17 913.59L316.17 909.89L316.17 917.29Z"/><path d="M311.41 914.14L318.41 910.44L318.41 917.84Z"/><path d="M313.65 914.67L320.65 910.97L320.65 918.37Z"/><path d="M315.89 915.18L322.89 911.48L322.89 918.88Z"/><path d="M318.13 915.67L325.13 911.97L325.13 919.37Z"/><path d="M320.37 916.13L327.37 912.43L327.37 919.83Z"/><path d="M322.62 916.55L329.62 912.85L329.62 920.25Z"/><path d="M324.86 916.93L331.86 913.23L331.86 920.63Z"/><path d="M327.1 917.29L334.1 913.59L334.1 920.99Z"/><path d="M329.34 917.62L336.34 913.92L336.34 921.32Z"/><path d="M331.58 917.94L338.58 914.24L338.58 921.64Z"/><path d="M333.82 918.24L340.82 914.54L340.82 921.94Z"/><path d="M336.06 918.54L343.06 914.84L343.06 922.24Z"/><path d="M338.3 918.84L345.3 915.14L345.3 922.54Z"/><path d="M340.54 919.13L347.54 915.43L347.54 922.83Z"/><path d="M342.78 919.42L349.78 915.72L349.78 923.12Z"/><path d="M345.02 919.7L352.02 916L352.02 923.4Z"/><path d="M347.26 919.97L354.26 916.27L354.26 923.67Z"/><path d="M349.5 920.23L356.5 916.53L356.5 923.93Z"/><path d="M351.75 920.47L358.75 916.77L358.75 924.17Z"/><path d="M353.99 920.7L360.99 917L360.99 924.4Z"/><path d="M356.23 920.92L363.23 917.22L363.23 924.62Z"/><path d="M358.47 921.12L365.47 917.42L365.47 924.82Z"/><path d="M360.71 921.32L367.71 917.62L367.71 925.02Z"/><path d="M362.95 921.51L369.95 917.81L369.95 925.21Z"/><path d="M365.19 921.69L372.19 917.99L372.19 925.39Z"/><path d="M367.43 921.86L374.43 918.16L374.43 925.56Z"/><path d="M369.67 922.03L376.67 918.33L376.67 925.73Z"/><path d="M371.91 922.19L378.91 918.49L378.91 925.89Z"/><path d="M374.15 922.34L381.15 918.64L381.15 926.04Z"/><path d="M376.39 922.49L383.39 918.79L383.39 926.19Z"/><path d="M378.64 922.63L385.64 918.93L385.64 926.33Z"/><path d="M380.88 922.77L387.88 919.07L387.88 926.47Z"/><path d="M383.12 922.89L390.12 919.19L390.12 926.59Z"/><path d="M385.36 923.02L392.36 919.32L392.36 926.72Z"/><path d="M387.6 923.13L394.6 919.43L394.6 926.83Z"/><path d="M389.84 923.25L396.84 919.55L396.84 926.95Z"/><path d="M392.08 923.37L399.08 919.67L399.08 927.07Z"/><path d="M394.32 923.48L401.32 919.78L401.32 927.18Z"/><path d="M396.56 923.6L403.56 919.9L403.56 927.3Z"/><path d="M398.8 923.73L405.8 920.03L405.8 927.43Z"/><path d="M401.04 923.85L408.04 920.15L408.04 927.55Z"/><path d="M403.28 923.98L410.28 920.28L410.28 927.68Z"/><path d="M405.52 924.11L412.52 920.41L412.52 927.81Z"/><path d="M407.77 924.23L414.77 920.53L414.77 927.93Z"/><path d="M410.01 924.36L417.01 920.66L417.01 928.06Z"/><path d="M412.25 924.47L419.25 920.77L419.25 928.17Z"/><path d="M414.49 924.59L421.49 920.89L421.49 928.29Z"/><path d="M416.73 924.69L423.73 920.99L423.73 928.39Z"/><path d="M418.97 924.79L425.97 921.09L425.97 928.49Z"/><path d="M421.21 924.88L428.21 921.18L428.21 928.58Z"/><path d="M423.45 924.97L430.45 921.27L430.45 928.67Z"/><path d="M425.69 925.05L432.69 921.35L432.69 928.75Z"/><path d="M427.93 925.14L434.93 921.44L434.93 928.84Z"/><path d="M430.17 925.22L437.17 921.52L437.17 928.92Z"/><path d="M432.41 925.3L439.41 921.6L439.41 929Z"/><path d="M434.66 925.37L441.66 921.67L441.66 929.07Z"/><path d="M436.9 925.44L443.9 921.74L443.9 929.14Z"/><path d="M439.14 925.52L446.14 921.82L446.14 929.22Z"/><path d="M441.38 925.58L448.38 921.88L448.38 929.28Z"/><path d="M443.62 925.65L450.62 921.95L450.62 929.35Z"/><path d="M445.86 925.72L452.86 922.02L452.86 929.42Z"/><path d="M448.1 925.78L455.1 922.08L455.1 929.48Z"/><path d="M450.34 925.84L457.34 922.14L457.34 929.54Z"/><path d="M452.58 925.9L459.58 922.2L459.58 929.6Z"/><path d="M454.82 925.96L461.82 922.26L461.82 929.66Z"/><path d="M457.06 926.01L464.06 922.31L464.06 929.71Z"/><path d="M459.3 926.07L466.3 922.37L466.3 929.77Z"/><path d="M461.54 926.12L468.54 922.42L468.54 929.82Z"/><path d="M463.79 926.17L470.79 922.47L470.79 929.87Z"/><path d="M466.03 926.23L473.03 922.53L473.03 929.93Z"/><path d="M468.27 926.28L475.27 922.58L475.27 929.98Z"/><path d="M470.51 926.32L477.51 922.62L477.51 930.02Z"/><path d="M472.75 926.37L479.75 922.67L479.75 930.07Z"/><path d="M474.99 926.42L481.99 922.72L481.99 930.12Z"/><path d="M477.23 926.46L484.23 922.76L484.23 930.16Z"/><path d="M479.47 926.51L486.47 922.81L486.47 930.21Z"/><path d="M481.71 926.55L488.71 922.85L488.71 930.25Z"/><path d="M483.95 926.59L490.95 922.89L490.95 930.29Z"/><path d="M486.19 926.63L493.19 922.93L493.19 930.33Z"/><path d="M488.43 926.67L495.43 922.97L495.43 930.37Z"/><path d="M490.68 926.71L497.68 923.01L497.68 930.41Z"/><path d="M492.92 926.75L499.92 923.05L499.92 930.45Z"/><path d="M495.16 926.78L502.16 923.08L502.16 930.48Z"/><path d="M497.4 926.81L504.4 923.11L504.4 930.51Z"/><path d="M499.64 926.85L506.64 923.15L506.64 930.55Z"/><path d="M501.88 926.88L508.88 923.18L508.88 930.58Z"/><path d="M504.12 926.91L511.12 923.21L511.12 930.61Z"/><path d="M506.36 926.95L513.36 923.25L513.36 930.65Z"/><path d="M508.6 926.98L515.6 923.28L515.6 930.68Z"/><path d="M510.84 927.02L517.84 923.32L517.84 930.72Z"/><path d="M513.08 927.05L520.08 923.35L520.08 930.75Z"/><path d="M515.32 927.09L522.32 923.39L522.32 930.79Z"/><path d="M517.56 927.12L524.56 923.42L524.56 930.82Z"/><path d="M519.81 927.15L526.81 923.45L526.81 930.85Z"/><path d="M522.05 927.19L529.05 923.49L529.05 930.89Z"/><path d="M524.29 927.22L531.29 923.52L531.29 930.92Z"/><path d="M526.53 927.26L533.53 923.56L533.53 930.96Z"/><path d="M528.77 927.29L535.77 923.59L535.77 930.99Z"/><path d="M531.01 927.32L538.01 923.62L538.01 931.02Z"/><path d="M533.25 927.35L540.25 923.65L540.25 931.05Z"/><path d="M535.49 927.39L542.49 923.69L542.49 931.09Z"/><path d="M537.73 927.42L544.73 923.72L544.73 931.12Z"/><path d="M539.97 927.45L546.97 923.75L546.97 931.15Z"/><path d="M542.21 927.48L549.21 923.78L549.21 931.18Z"/><path d="M544.45 927.51L551.45 923.81L551.45 931.21Z"/><path d="M546.7 927.54L553.7 923.84L553.7 931.24Z"/><path d="M548.94 927.57L555.94 923.87L555.94 931.27Z"/><path d="M551.18 927.59L558.18 923.89L558.18 931.29Z"/><path d="M553.42 927.62L560.42 923.92L560.42 931.32Z"/><path d="M555.66 927.65L562.66 923.95L562.66 931.35Z"/><path d="M557.9 927.67L564.9 923.97L564.9 931.37Z"/><path d="M560.14 927.69L567.14 923.99L567.14 931.39Z"/><path d="M562.38 927.72L569.38 924.02L569.38 931.42Z"/><path d="M564.62 927.74L571.62 924.04L571.62 931.44Z"/><path d="M566.86 927.76L573.86 924.06L573.86 931.46Z"/><path d="M569.1 927.78L576.1 924.08L576.1 931.48Z"/><path d="M571.34 927.8L578.34 924.1L578.34 931.5Z"/><path d="M573.58 927.81L580.58 924.11L580.58 931.51Z"/><path d="M575.83 927.83L582.83 924.13L582.83 931.53Z"/><path d="M578.07 927.84L585.07 924.14L585.07 931.54Z"/><path d="M580.31 927.86L587.31 924.16L587.31 931.56Z"/><path d="M582.55 927.87L589.55 924.17L589.55 931.57Z"/><path d="M584.79 927.88L591.79 924.18L591.79 931.58Z"/><path d="M587.03 927.88L594.03 924.18L594.03 931.58Z"/><path d="M589.27 927.89L596.27 924.19L596.27 931.59Z"/><path d="M591.51 927.9L598.51 924.2L598.51 931.6Z"/><path d="M593.75 927.9L600.75 924.2L600.75 931.6Z"/><path d="M595.99 927.9L602.99 924.2L602.99 931.6Z"/><path d="M598.23 927.9L605.23 924.2L605.23 931.6Z"/><path d="M600.47 927.9L607.47 924.2L607.47 931.6Z"/><path d="M602.72 927.9L609.72 924.2L609.72 931.6Z"/><path d="M604.96 927.9L611.96 924.2L611.96 931.6Z"/><path d="M607.2 927.9L614.2 924.2L614.2 931.6Z"/><path d="M609.44 927.9L616.44 924.2L616.44 931.6Z"/><path d="M611.68 927.9L618.68 924.2L618.68 931.6Z"/><path d="M613.92 927.9L620.92 924.2L620.92 931.6Z"/><path d="M616.16 927.9L623.16 924.2L623.16 931.6Z"/><path d="M618.4 927.9L625.4 924.2L625.4 931.6Z"/><path d="M620.64 927.9L627.64 924.2L627.64 931.6Z"/><path d="M622.88 927.9L629.88 924.2L629.88 931.6Z"/><path d="M625.12 927.9L632.12 924.2L632.12 931.6Z"/><path d="M627.36 927.9L634.36 924.2L634.36 931.6Z"/><path d="M629.6 927.9L636.6 924.2L636.6 931.6Z"/><path d="M631.85 927.9L638.85 924.2L638.85 931.6Z"/><path d="M634.09 927.9L641.09 924.2L641.09 931.6Z"/><path d="M636.33 927.9L643.33 924.2L643.33 931.6Z"/><path d="M638.57 927.9L645.57 924.2L645.57 931.6Z"/><path d="M640.81 927.9L647.81 924.2L647.81 931.6Z"/><path d="M643.05 927.9L650.05 924.2L650.05 931.6Z"/><path d="M645.29 927.9L652.29 924.2L652.29 931.6Z"/><path d="M647.53 927.9L654.53 924.2L654.53 931.6Z"/><path d="M649.77 927.9L656.77 924.2L656.77 931.6Z"/></g>
</g>
<path d="M73.0 549.8H655.2V994.8H73.0Z" fill="none" stroke="#000" stroke-width="1.8" stroke-linejoin="round"/>
<path d="M73.0 994.8H63.8M655.2 994.8H646.0M73.0 942.47H68.4M655.2 942.47H650.6M73.0 890.15H63.8M655.2 890.15H646.0M73.0 837.82H68.4M655.2 837.82H650.6M73.0 785.5H63.8M655.2 785.5H646.0M73.0 733.17H68.4M655.2 733.17H650.6M73.0 680.85H63.8M655.2 680.85H646.0M73.0 628.52H68.4M655.2 628.52H650.6M73.0 576.2H63.8M655.2 576.2H646.0M95.1 994.8V1002.8M95.1 549.8V557.8M151.12 994.8V999.1M151.12 549.8V554.1M207.14 994.8V1002.8M207.14 549.8V557.8M263.16 994.8V999.1M263.16 549.8V554.1M319.18 994.8V1002.8M319.18 549.8V557.8M375.2 994.8V999.1M375.2 549.8V554.1M431.22 994.8V1002.8M431.22 549.8V557.8M487.24 994.8V999.1M487.24 549.8V554.1M543.26 994.8V1002.8M543.26 549.8V557.8M599.28 994.8V999.1M599.28 549.8V554.1M655.3 994.8V1002.8M655.3 549.8V557.8" stroke="#000" stroke-width="1.8" fill="none"/>
<g font-family="Liberation Sans, sans-serif" fill="#000">
<g transform="translate(273.35 49) scale(1.08 1)"><text x="0" y="0" font-size="32.5">Cd</text></g>
<g transform="translate(318.62 60.7) scale(1.05 1)"><text x="0" y="0" font-size="20">1-x</text><rect x="0.6" y="-2.4" width="4.33" height="3" fill="#fff"/><rect x="6.77" y="-2.4" width="4.13" height="3" fill="#fff"/></g>
<g transform="translate(348.35 48.8) scale(1.08 1)"><text x="0" y="0" font-size="32.5">Y</text></g>
<g transform="translate(371.99 60.7) scale(1.05 1)"><text x="0" y="0" font-size="20">x</text></g>
<g transform="translate(381.85 49) scale(1.08 1)"><text x="0" y="0" font-size="32.5">S</text></g>
<g transform="translate(594.42 38.8) scale(1.035 1)"><text x="0" y="0" font-size="38.3" font-weight="bold">(a)</text></g>
<path d="M444.6 69.6H524" stroke="#555" stroke-width="1.25" fill="none"/>
<g fill="#000000"><rect x="479.7" y="64.8" width="9.6" height="9.6"/></g>
<g transform="translate(534.25 81.3) scale(1.075 1)"><text x="0" y="0" font-size="33">x=0.0</text></g>
<path d="M444.6 109.65H524" stroke="#ff3333" stroke-width="1.25" fill="none"/>
<g fill="#ff0000"><circle cx="484.5" cy="109.65" r="5.7"/></g>
<g transform="translate(534.25 121.35) scale(1.075 1)"><text x="0" y="0" font-size="33">x=0.05</text></g>
<path d="M444.6 149.7H524" stroke="#5555ff" stroke-width="1.25" fill="none"/>
<g fill="#0000ff"><path d="M484.5 142.37L491.5 153.37L477.5 153.37Z"/></g>
<g transform="translate(534.25 161.4) scale(1.075 1)"><text x="0" y="0" font-size="33">x=0.1</text><rect x="64.28" y="-3.96" width="7.14" height="4.95" fill="#fff"/><rect x="74.46" y="-3.96" width="6.81" height="4.95" fill="#fff"/></g>
<path d="M444.6 189.75H524" stroke="#55aaaa" stroke-width="1.25" fill="none"/>
<g fill="#008080"><path d="M477.5 186.08L491.5 186.08L484.5 197.08Z"/></g>
<g transform="translate(534.25 201.45) scale(1.075 1)"><text x="0" y="0" font-size="33">x=0.15</text><rect x="64.28" y="-3.96" width="7.14" height="4.95" fill="#fff"/><rect x="74.46" y="-3.96" width="6.81" height="4.95" fill="#fff"/></g>
<path d="M444.6 229.8H524" stroke="#ff33ff" stroke-width="1.25" fill="none"/>
<g fill="#ff00ff"><path d="M476.5 229.8L488.5 223.3L488.5 236.3Z"/></g>
<g transform="translate(534.25 241.5) scale(1.075 1)"><text x="0" y="0" font-size="33">x=0.25</text></g>
<g transform="translate(84.38 472.4) scale(1.09 1)"><text x="0" y="0" font-size="33">300</text></g>
<g transform="translate(188.46 472.4) scale(1.09 1)"><text x="0" y="0" font-size="33">350</text></g>
<g transform="translate(292.54 472.4) scale(1.09 1)"><text x="0" y="0" font-size="33">400</text></g>
<g transform="translate(396.62 472.4) scale(1.09 1)"><text x="0" y="0" font-size="33">450</text></g>
<g transform="translate(500.7 472.4) scale(1.09 1)"><text x="0" y="0" font-size="33">500</text></g>
<g transform="translate(604.78 472.4) scale(1.09 1)"><text x="0" y="0" font-size="33">550</text></g>
<g transform="translate(266.24 513.8) scale(1.063 1)"><text x="0" y="0" font-size="33.5">Wavelength (nm)</text></g>
<text transform="translate(31.1 336.8) rotate(-90) scale(1 1.135)" font-size="32.7">Absorbance(a.u.)</text>
<g transform="translate(205 602.8) scale(1.075 1)"><text x="0" y="0" font-size="33.5">Cd</text></g>
<g transform="translate(250.6 614.7) scale(1.02 1)"><text x="0" y="0" font-size="20.8">1-x</text><rect x="0.62" y="-2.5" width="4.5" height="3.12" fill="#fff"/><rect x="7.04" y="-2.5" width="4.3" height="3.12" fill="#fff"/></g>
<g transform="translate(280.54 602.8) scale(1.06 1)"><text x="0" y="0" font-size="33.5">V</text></g>
<g transform="translate(303.99 614.7) scale(1.02 1)"><text x="0" y="0" font-size="20.8">x</text></g>
<g transform="translate(314.2 602.8) scale(1.075 1)"><text x="0" y="0" font-size="33.5">S</text></g>
<g transform="translate(594.42 595.3) scale(1.02 1)"><text x="0" y="0" font-size="38.8" font-weight="bold">(b)</text></g>
<path d="M443.7 642H469.7M498.2 642H524" stroke="#707070" stroke-width="1.6" fill="none"/>
<g fill="#000000"><rect x="480.8" y="639.1" width="5.8" height="5.8"/></g>
<g transform="translate(533.04 653.2) scale(1.07 1)"><text x="0" y="0" font-size="33.5">x=0.0</text></g>
<path d="M443.7 683.05H469.7M498.2 683.05H524" stroke="#ff3333" stroke-width="1.6" fill="none"/>
<g fill="#ff0000"><circle cx="483.7" cy="683.05" r="3.2"/></g>
<g transform="translate(533.04 694.25) scale(1.07 1)"><text x="0" y="0" font-size="33.5">x=0.05</text></g>
<path d="M443.7 724.1H469.7M498.2 724.1H524" stroke="#5555ff" stroke-width="1.6" fill="none"/>
<g fill="#0000ff"><path d="M483.7 719.43L487.5 726.43L479.9 726.43Z"/></g>
<g transform="translate(533.04 735.3) scale(1.07 1)"><text x="0" y="0" font-size="33.5">x=0.1</text><rect x="65.26" y="-4.02" width="7.25" height="5.02" fill="#fff"/><rect x="75.59" y="-4.02" width="6.92" height="5.02" fill="#fff"/></g>
<path d="M443.7 765.15H469.7M498.2 765.15H524" stroke="#55aaaa" stroke-width="1.6" fill="none"/>
<g fill="#008080"><path d="M479.9 762.82L487.5 762.82L483.7 769.82Z"/></g>
<g transform="translate(533.04 776.35) scale(1.07 1)"><text x="0" y="0" font-size="33.5">x=0.15</text><rect x="65.26" y="-4.02" width="7.25" height="5.02" fill="#fff"/><rect x="75.59" y="-4.02" width="6.92" height="5.02" fill="#fff"/></g>
<path d="M443.7 806.2H469.7M498.2 806.2H524" stroke="#ff33ff" stroke-width="1.6" fill="none"/>
<g fill="#ff00ff"><path d="M479.03 806.2L486.03 802.5L486.03 809.9Z"/></g>
<g transform="translate(533.04 817.4) scale(1.07 1)"><text x="0" y="0" font-size="33.5">x=0.2</text></g>
<g transform="translate(64.97 1035) scale(1.1 1)"><text x="0" y="0" font-size="33">300</text></g>
<g transform="translate(177.01 1035) scale(1.1 1)"><text x="0" y="0" font-size="33">350</text></g>
<g transform="translate(289.05 1035) scale(1.1 1)"><text x="0" y="0" font-size="33">400</text></g>
<g transform="translate(401.09 1035) scale(1.1 1)"><text x="0" y="0" font-size="33">450</text></g>
<g transform="translate(513.13 1035) scale(1.1 1)"><text x="0" y="0" font-size="33">500</text></g>
<g transform="translate(625.17 1035) scale(1.1 1)"><text x="0" y="0" font-size="33">550</text></g>
<g transform="translate(237.84 1071.2) scale(1.067 1)"><text x="0" y="0" font-size="33.5">Wavelength (nm)</text></g>
<text transform="translate(43.8 940) rotate(-90) scale(1 1.105)" font-size="33.5">Absorbance (a.u.)</text>
</g>
</svg>
</body></html>
